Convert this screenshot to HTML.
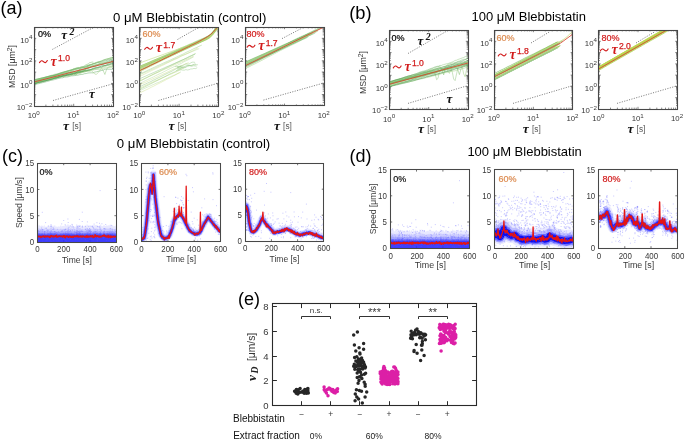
<!DOCTYPE html>
<html><head><meta charset="utf-8"><style>
html,body{margin:0;padding:0;background:#fff;}
body{width:685px;height:441px;overflow:hidden;font-family:"Liberation Sans",sans-serif;}
svg{display:block;will-change:transform;}
</style></head><body>
<svg width="685" height="441" viewBox="0 0 685 441" font-family="'Liberation Sans',sans-serif">
<rect width="685" height="441" fill="#fff"/>
<defs>
<clipPath id="ka1"><rect x="34" y="27" width="79.3" height="79"/></clipPath>
<clipPath id="ka2"><rect x="139.5" y="27" width="79.1" height="79"/></clipPath>
<clipPath id="ka3"><rect x="245" y="27" width="79" height="78.8"/></clipPath>
<clipPath id="kb1"><rect x="389.4" y="30" width="78.6" height="79.2"/></clipPath>
<clipPath id="kb2"><rect x="494" y="30" width="78.8" height="79"/></clipPath>
<clipPath id="kb3"><rect x="598.6" y="30" width="78.8" height="79"/></clipPath>
<clipPath id="kc1"><rect x="37.4" y="163.2" width="79" height="78.8"/></clipPath>
<clipPath id="kc2"><rect x="141.5" y="163.2" width="79.1" height="78.6"/></clipPath>
<clipPath id="kc3"><rect x="245.2" y="163.2" width="78.6" height="78"/></clipPath>
<clipPath id="kd1"><rect x="390.2" y="169.6" width="79" height="78.6"/></clipPath>
<clipPath id="kd2"><rect x="494.4" y="169.6" width="79" height="78.6"/></clipPath>
<clipPath id="kd3"><rect x="598.5" y="169.6" width="78.8" height="78.6"/></clipPath>
</defs>
<text x=".6" y="13.9" font-size="18">(a)</text>
<text x="349.2" y="19" font-size="18.3">(b)</text>
<text x="1.9" y="162.3" font-size="18">(c)</text>
<text x="349.6" y="162.4" font-size="18">(d)</text>
<text x="238" y="305" font-size="18">(e)</text>
<text x="112.9" y="21.9" font-size="13.2">0 μM Blebbistatin (control)</text>
<text x="471.5" y="21.3" font-size="13">100 μM Blebbistatin</text>
<text x="116.8" y="148.1" font-size="13.2">0 μM Blebbistatin (control)</text>
<text x="467.4" y="156.4" font-size="13">100 μM Blebbistatin</text>
<path d="M45.9 106v-1.4M45.9 27v1.4M52.9 106v-1.4M52.9 27v1.4M57.9 106v-1.4M57.9 27v1.4M61.7 106v-1.4M61.7 27v1.4M64.9 106v-1.4M64.9 27v1.4M67.5 106v-1.4M67.5 27v1.4M69.8 106v-1.4M69.8 27v1.4M71.8 106v-1.4M71.8 27v1.4M73.7 106v-2.2M73.7 27v2.2M85.6 106v-1.4M85.6 27v1.4M92.6 106v-1.4M92.6 27v1.4M97.5 106v-1.4M97.5 27v1.4M101.4 106v-1.4M101.4 27v1.4M104.5 106v-1.4M104.5 27v1.4M107.2 106v-1.4M107.2 27v1.4M109.5 106v-1.4M109.5 27v1.4M111.5 106v-1.4M111.5 27v1.4M34 102.6h1.3M113.3 102.6h-1.3M34 100.6h1.3M113.3 100.6h-1.3M34 99.2h1.3M113.3 99.2h-1.3M34 98.1h1.3M113.3 98.1h-1.3M34 97.2h1.3M113.3 97.2h-1.3M34 96.5h1.3M113.3 96.5h-1.3M34 95.8h1.3M113.3 95.8h-1.3M34 95.2h1.3M113.3 95.2h-1.3M34 94.7h2.2M113.3 94.7h-2.2M34 91.3h1.3M113.3 91.3h-1.3M34 89.3h1.3M113.3 89.3h-1.3M34 87.9h1.3M113.3 87.9h-1.3M34 86.8h1.3M113.3 86.8h-1.3M34 85.9h1.3M113.3 85.9h-1.3M34 85.2h1.3M113.3 85.2h-1.3M34 84.5h1.3M113.3 84.5h-1.3M34 83.9h1.3M113.3 83.9h-1.3M34 83.4h2.2M113.3 83.4h-2.2M34 80h1.3M113.3 80h-1.3M34 78h1.3M113.3 78h-1.3M34 76.6h1.3M113.3 76.6h-1.3M34 75.5h1.3M113.3 75.5h-1.3M34 74.6h1.3M113.3 74.6h-1.3M34 73.9h1.3M113.3 73.9h-1.3M34 73.2h1.3M113.3 73.2h-1.3M34 72.7h1.3M113.3 72.7h-1.3M34 72.1h2.2M113.3 72.1h-2.2M34 68.7h1.3M113.3 68.7h-1.3M34 66.8h1.3M113.3 66.8h-1.3M34 65.3h1.3M113.3 65.3h-1.3M34 64.3h1.3M113.3 64.3h-1.3M34 63.4h1.3M113.3 63.4h-1.3M34 62.6h1.3M113.3 62.6h-1.3M34 62h1.3M113.3 62h-1.3M34 61.4h1.3M113.3 61.4h-1.3M34 60.9h2.2M113.3 60.9h-2.2M34 57.5h1.3M113.3 57.5h-1.3M34 55.5h1.3M113.3 55.5h-1.3M34 54.1h1.3M113.3 54.1h-1.3M34 53h1.3M113.3 53h-1.3M34 52.1h1.3M113.3 52.1h-1.3M34 51.3h1.3M113.3 51.3h-1.3M34 50.7h1.3M113.3 50.7h-1.3M34 50.1h1.3M113.3 50.1h-1.3M34 49.6h2.2M113.3 49.6h-2.2M34 46.2h1.3M113.3 46.2h-1.3M34 44.2h1.3M113.3 44.2h-1.3M34 42.8h1.3M113.3 42.8h-1.3M34 41.7h1.3M113.3 41.7h-1.3M34 40.8h1.3M113.3 40.8h-1.3M34 40h1.3M113.3 40h-1.3M34 39.4h1.3M113.3 39.4h-1.3M34 38.8h1.3M113.3 38.8h-1.3M34 38.3h2.2M113.3 38.3h-2.2M34 34.9h1.3M113.3 34.9h-1.3M34 32.9h1.3M113.3 32.9h-1.3M34 31.5h1.3M113.3 31.5h-1.3M34 30.4h1.3M113.3 30.4h-1.3M34 29.5h1.3M113.3 29.5h-1.3M34 28.7h1.3M113.3 28.7h-1.3M34 28.1h1.3M113.3 28.1h-1.3M34 27.5h1.3M113.3 27.5h-1.3" fill="none" stroke="#3a3a3a" stroke-width="0.6"/>
<rect x="34.5" y="27.5" width="79" height="79" fill="none" stroke="#484848" stroke-width="1.05"/>
<text x="32.4" y="42.5" font-size="7.8" fill="#383838" text-anchor="end">10<tspan dy="-3.2" font-size="6.2">4</tspan></text>
<text x="32.4" y="65.1" font-size="7.8" fill="#383838" text-anchor="end">10<tspan dy="-3.2" font-size="6.2">2</tspan></text>
<text x="32.4" y="87.6" font-size="7.8" fill="#383838" text-anchor="end">10<tspan dy="-3.2" font-size="6.2">0</tspan></text>
<text x="32.4" y="110.2" font-size="7.8" fill="#383838" text-anchor="end">10<tspan dy="-3.2" font-size="6.2">&#8722;2</tspan></text>
<text x="33.7" y="118.4" font-size="7.8" fill="#383838" text-anchor="middle">10<tspan dy="-3.2" font-size="6.2">0</tspan></text>
<text x="73.4" y="118.4" font-size="7.8" fill="#383838" text-anchor="middle">10<tspan dy="-3.2" font-size="6.2">1</tspan></text>
<text x="113" y="118.4" font-size="7.8" fill="#383838" text-anchor="middle">10<tspan dy="-3.2" font-size="6.2">2</tspan></text>
<text x="63.1" y="129.7" font-size="13.5" font-family="'Liberation Serif',serif" fill="#111" font-weight="bold" font-style="italic">τ</text>
<text x="72.2" y="129.1" font-size="8.3" fill="#555">[s]</text>
<text x="0" y="0" font-size="8.8" fill="#383838" text-anchor="middle" transform="translate(15.2,66.5) rotate(-90)">MSD [μm<tspan dy="-3.4" font-size="6.6">2</tspan><tspan dy="3.4">]</tspan></text>
<path d="M52.4 49.4L94.4 26.9" stroke="#555" stroke-width=".75" stroke-dasharray="1.1 1.4"/>
<path d="M53 100.5L112 84.1" stroke="#555" stroke-width=".75" stroke-dasharray="1.1 1.4"/>
<path d="M34 81.2l1.2-.4 1.2-.3 1.2-.4 1.2-.3 1.1-.3 1.2-.3 1.2-.3 1.2-.5 1.2-.5 1.2-.2 1.2-.3 1.2-.4 1.2-.1 1.2-.3 1.1-.3 1.2-.5 1.2-.5 1.2-.3 1.2-.3 1.2-.3 1.2-.6 1.2-.3 1.2-.3 1.2-.4 1.1-.4 1.2-.3 1.2-.1 1.2-.3 1.2-.3 1.2-.6 1.2-.5 1.2-.4 1.2-.5 1.2-.3 1.1-.6 1.2-.4 1.2-.5 1.2 0 1.2-.5 1.2 .2 1.2 .2 1.2-.2 1.2-.1 1.1-.4 1.2-1 1.2-.1 1.2-.1M34 83.8l1.7-.6 1.7-.5 1.7-.4 1.6-.4 1.7-.3 1.7-.5 1.7-.4 1.7-.5 1.7-.5 1.7-.4 1.7-.4 1.6-.5 1.7-.4 1.7-.5 1.7-.8 1.7-.5 1.7-.5 1.7-.2 1.7-.5 1.6-.1 1.7-.1 1.7-.6 1.7-.6 1.7-.4 1.7-.1 1.7-.4 1.7-.2 1.6-.6 1.7-1 1.7-.5 1.7-.2 1.7-.2 1.7-.4 1.7-.4 1.7-.1 1.6-.4 1.7-.1 1.7-.8 1.7-.7 1.7-.8 1.7-.2 1.7-.6 1.7-.4 1.6-.3 1.7-.4 1.7 0 1.7 .1M34 82.8l1.7-.4 1.7-.5 1.7-.5 1.6-.5 1.7-.3 1.7-.4 1.7-.5 1.7-.3 1.7-.3 1.7-.5 1.7-.5 1.6-.6 1.7-.3 1.7-.6 1.7-.4 1.7-.6 1.7-.3 1.7-.3 1.7-.5 1.6-.3 1.7-.6 1.7-.5 1.7-.2 1.7-.5 1.7-.3 1.7-.7 1.7-.3 1.6-.3 1.7-.7 1.7-1 1.7-1 1.7-.4 1.7-.6 1.7-.8 1.7-.5 1.6-.2 1.7-.5 1.7-.6 1.7-.2 1.7 0 1.7 0 1.7-.7 1.7-.2 1.6-.4 1.7-.5 1.7-.7 1.7-.3M34 84.2l1.7-.5 1.7-.6 1.7-.4 1.6-.4 1.7-.5 1.7-.5 1.7-.4 1.7-.6 1.7-.4 1.7-.3 1.7-.6 1.6-.5 1.7-.3 1.7-.4 1.7-.6 1.7-.6 1.7-.4 1.7-.6 1.7-.6 1.6-.3 1.7-.6 1.7-.5 1.7-.3 1.7-.4 1.7-.5 1.7-.5 1.7-.3 1.6-.4 1.7-.7 1.7-.5 1.7-.7 1.7-.8 1.7-.6 1.7-1.1 1.7-.3 1.6-.7 1.7-.4 1.7-1 1.7-1.1 1.7 .1 1.7-.2 1.7-.7 1.7-.8 1.6-.7 1.7-.5 1.7-.7 1.7-.7" fill="none" stroke="#6aaf66" stroke-width="0.55" stroke-opacity="0.85" clip-path="url(#ka1)"/>
<path d="M34 83.7l1.7-.5 1.7-.4 1.7-.4 1.6-.5 1.7-.5 1.7-.3 1.7-.4 1.7-.5 1.7-.3 1.7-.4 1.7-.4 1.6-.5 1.7-.5 1.7-.4 1.7-.4 1.7-.4 1.7-.1 1.7-.2 1.7-.5 1.6 0 1.7-.5 1.7-.1 1.7-.5 1.7-.3 1.7-.5 1.7-.4 1.7-.1 1.6-.7 1.7-.7 1.7-.4 1.7-.3 1.7-.4 1.7-.2 1.7-.6 1.7-.3 1.6-.4 1.7-.2 1.7-.2 1.7 0 1.7-.7 1.7 2 1.7 3.9 1.7-5.2 1.6-2.3 1.7-.3 1.7-.2 1.7-.4M34 81.3l1.7-.5 1.7-.5 1.7-.5 1.6-.3 1.7-.4 1.7-.4 1.7-.5 1.7-.4 1.7-.6 1.7-.5 1.7-.3 1.6-.3 1.7-.6 1.7-.5 1.7-.1 1.7-.7 1.7-.6 1.7-.6 1.7-.4 1.6-.4 1.7-.3 1.7-.9 1.7-.4 1.7-.8 1.7-.4 1.7-.5 1.7-.1 1.6-.3 1.7-.7 1.7-.2 1.7-.7 1.7-.5 1.7-.2 1.7-.4 1.7-.3 1.6-.4 1.7-.3 1.7-.2 1.7-.4 1.7-.1 1.7-.1 1.7-.4 1.7-.7 1.6 .1 1.7-.5 1.7-.2 1.7 0M34 79.9l1.7-.4 1.7-.4 1.7-.3 1.6-.5 1.7-.4 1.7-.4 1.7-.4 1.7-.4 1.7-.5 1.7-.2 1.7-.2 1.6-.4 1.7-.8 1.7-.5 1.7-.4 1.7-.5 1.7-.8 1.7-.4 1.7-.4 1.6-.6 1.7-.6 1.7-.5 1.7-.4 1.7-.7 1.7-.5 1.7 .2 1.7 .9 1.6 1.7 1.7 .3 1.7-.9 1.7-2.2 1.7-2.2 1.7-1.4 1.7-.5 1.7-.7 1.6-.3 1.7-.3 1.7-.3 1.7-.4 1.7 .3 1.7-.8 1.7-.5 1.7-.8 1.6-1.1 1.7-.5 1.7 .2 1.7-.2M34 82.7l1.7-.5 1.7-.3 1.7-.5 1.6-.4 1.7-.6 1.7-.4 1.7-.4 1.7-.5 1.7-.3 1.7-.4 1.7-.2 1.6-.4 1.7-.6 1.7-.6 1.7-.4 1.7-.6 1.7-.5 1.7-.4 1.7-.6 1.6-.6 1.7-.4 1.7-.4 1.7-.4 1.7-.5 1.7-.3 1.7-.7 1.7-.3 1.6-.6 1.7-.3 1.7-.5 1.7-.6 1.7-.3 1.7-1 1.7-.6 1.7-.9 1.6-.8 1.7-.3 1.7-.3 1.7-.7 1.7-.5 1.7-.5 1.7-.4 1.7 .1 1.6-.4 1.7 .3 1.7-.6 1.7-.2" fill="none" stroke="#8cc47a" stroke-width="0.55" stroke-opacity="0.85" clip-path="url(#ka1)"/>
<path d="M34 80.1l1.7-.4 1.7-.3 1.7-.4 1.6-.5 1.7-.4 1.7-.3 1.7-.5 1.7-.5 1.7-.3 1.7-.4 1.7-.3 1.6-.2 1.7-.5 1.7-.4 1.7-.4 1.7-.3 1.7-.4 1.7-.3 1.7-.4 1.6-.2 1.7-.2 1.7-.6 1.7-.3 1.7-.4 1.7-.4 1.7-.3 1.7-.3 1.6-.5 1.7-.3 1.7-.4 1.7-.4 1.7-.7 1.7-.5 1.7-.5 1.7-.3 1.6 0 1.7-.6 1.7-.7 1.7-.4 1.7-.5 1.7-.7 1.7-.6 1.7-.7 1.6-.3 1.7-.9 1.7 0 1.7-.7M34 84.9l1.7-.4 1.7-.6 1.7-.3 1.6-.5 1.7-.4 1.7-.4 1.7-.5 1.7-.4 1.7-.5 1.7-.5 1.7-.3 1.6-.4 1.7-.5 1.7-.5 1.7-.3 1.7-.5 1.7-.1 1.7-.6 1.7-.2 1.6-.1 1.7-.4 1.7-.6 1.7-.1 1.7-.2 1.7-.3 1.7-.1 1.7-.5 1.6-.2 1.7-.2 1.7-.6 1.7-.2 1.7-.5 1.7-.1 1.7-.1 1.7 .1 1.6-.8 1.7-.3 1.7-.5 1.7-.3 1.7-.5 1.7-.4 1.7-.9 1.7-.1 1.6 .1 1.7 0 1.7 .1 1.7-.6M34 79.8l1.7-.4 1.7-.5 1.7-.3 1.6-.4 1.7-.3 1.7-.5 1.7-.4 1.7-.4 1.7-.4 1.7-.4 1.7-.3 1.6-.2 1.7-.4 1.7-.7 1.7-.7 1.7-.7 1.7-.5 1.7-.4 1.7-.7 1.6-.4 1.7-.4 1.7-.4 1.7-.5 1.7-.3 1.7-.5 1.7-.2 1.7-.3 1.6-1 1.7-.4 1.7-.4 1.7-.6 1.7-.6 1.7-.2 1.7-.4 1.7-.7 1.6-.5 1.7-.5 1.7-.9 1.7-.3 1.7-.4 1.7-.3 1.7-1 1.7 .2 1.6-.3 1.7-.2 1.7-.7 1.7-.7" fill="none" stroke="#5aa55a" stroke-width="0.55" stroke-opacity="0.85" clip-path="url(#ka1)"/>
<path d="M34 83.2l1.7-.5 1.7-.6 1.7-.6 1.6-.4 1.7-.3 1.7-.6 1.7-.3 1.7-.5 1.7-.6 1.7-.2 1.7-.2 1.6-.5 1.7-.5 1.7-.4 1.7-.4 1.7-.3 1.7-.2 1.7-.4 1.7-.3 1.6-.1 1.7-.5 1.7-.5 1.7-.5 1.7-.2 1.7-.3 1.7-.2 1.7-.2 1.6-.4 1.7-.2 1.7-.5 1.7-.5 1.7-.9 1.7-.1 1.7-.6 1.7-.4 1.6-.4 1.7 0 1.7-.3 1.7-.6 1.7-.4 1.7-.4 1.7-.3 1.7-.8 1.6-.4 1.7 .3 1.7-.2 1.7 .3M34 82.2l1.7-.4 1.7-.3 1.7-.4 1.6-.5 1.7-.2 1.7-.4 1.7-.3 1.7-.5 1.7-.3 1.7-.4 1.7-.2 1.6-.2 1.7-.6 1.7-.5 1.7-.4 1.7-.2 1.7-.1 1.7-.3 1.7-.4 1.6-.4 1.7-.3 1.7-.2 1.7-.3 1.7-.4 1.7-.6 1.7-.8 1.7-.4 1.6-.2 1.7-.4 1.7-.2 1.7-.2 1.7-.3 1.7 0 1.7-.1 1.7 1.3 1.6 1.8 1.7 .5 1.7-1.8 1.7-2.3 1.7-1.4 1.7-.5 1.7-.4 1.7-.4 1.6 .1 1.7-.4 1.7 .1 1.7-.1M34 80.4l1.1-.2 1.1-.3 1.1-.3 1.1-.2 1.2-.4 1.1-.2 1.1-.1 1.1-.2 1.1-.1 1.1-.2 1.1-.3 1.1-.3 1.1-.5 1.1-.3 1.2 0 1.1-.2 1.1-.1 1.1 0 1.1-.4 1.1-.1 1.1 .1 1.1-.4 1.1-.2 1.2-.3 1.1-.3 1.1-.4 1.1-.2 1.1-.6 1.1-.3 1.1-.4 1.1-.3 1.1 .1 1.1-.2 1.2-.2 1.1-.3 1.1 .1 1.1-.7 1.1-.3 1.1 .1 1.1 .2 1.1-.1 1.1-.2 1.2-.1 1.1-.2 1.1 0 1.1-.5 1.1 0" fill="none" stroke="#9acd7a" stroke-width="0.55" stroke-opacity="0.85" clip-path="url(#ka1)"/>
<path d="M34 83.5l1.7-.4 1.7-.5 1.7-.4 1.6-.3 1.7-.3 1.7-.6 1.7-.4 1.7-.4 1.7-.4 1.7-.5 1.7-.5 1.6-.5 1.7-.4 1.7-.3 1.7-.5 1.7-.3 1.7-.6 1.7-.2 1.7-.4 1.6-.4 1.7-.2 1.7-.7 1.7-.7 1.7-.4 1.7-.6 1.7-.5 1.7 .2 1.6-.5 1.7-.4 1.7-.4 1.7-.2 1.7-.3 1.7-.4 1.7-.7 1.7-.5 1.6-.4 1.7-.9 1.7-.2 1.7-.3 1.7 .1 1.7-.9 1.7-.7 1.7-.7 1.6-.7 1.7-.5 1.7-.5 1.7-.3M34 83.6l1-.2 1-.3 1-.3 1-.3 1-.3 1-.2 1-.2 .9-.2 1-.3 1-.3 1-.1 1-.3 1-.3 1-.2 1-.3 1-.3 1 0 1-.4 1-.3 1-.3 1-.3 .9-.2 1-.2 1-.4 1-.4 1-.3 1 .1 1-.4 1-.6 1-.5 1-.3 1 .1 1-.6 1-.2 1 .4 .9-.4 1 .2 1 .1 1-.1 1-.6 1-.2 1-.3 1-.8 1-.8 1-.2 1-.2 1 .1M34 81.9l1.7-.5 1.7-.6 1.7-.4 1.6-.4 1.7-.3 1.7-.5 1.7-.4 1.7-.3 1.7-.5 1.7-.3 1.7-.3 1.6-.3 1.7-.1 1.7-.2 1.7-.3 1.7-.5 1.7-.3 1.7-.1 1.7-.3 1.6-.5 1.7-.5 1.7-.4 1.7-.2 1.7-.5 1.7-.3 1.7-.1 1.7-.2 1.6-.7 1.7-.4 1.7-.7 1.7-.2 1.7-.6 1.7-.3 1.7-.3 1.7-1.1 1.6-.6 1.7-.2 1.7-.4 1.7-.5 1.7-.8 1.7-.2 1.7 .1 1.7-.3 1.6-.4 1.7-.4 1.7-.9 1.7-.5" fill="none" stroke="#4e9a50" stroke-width="0.55" stroke-opacity="0.85" clip-path="url(#ka1)"/>
<path d="M34 81.9l1.3-.4 1.2-.5 1.3-.5 1.3-.4 1.2-.3 1.3-.4 1.2-.6 1.3-.5 1.3-.4 1.2-.4 1.3-.2 1.3-.4 1.2-.6 1.3-.3 1.3-.4 1.2-.4 1.3-.4 1.3-.2 1.2-.3 1.3-.3 1.2-.6 1.3-.2 1.3-.5 1.2-.8 1.3-.3 1.3-.3 1.2-.4 1.3-.4 1.3-.2 1.2-.5 1.3-.9 1.2-.4 1.3-.3 1.3-.2 1.2-.5 1.3 0 1.3-.1 1.2-.8 1.3-.1 1.3-.8 1.2-.8 1.3-.5 1.2-.6 1.3-1.1 1.3-.3 1.2-.3 1.3 .1M34 80.7l1.7-.5 1.7-.5 1.7-.5 1.6-.6 1.7-.4 1.7-.5 1.7-.5 1.7-.6 1.7-.6 1.7-.6 1.7-.4 1.6-.6 1.7-.3 1.7-.3 1.7-.6 1.7-.5 1.7-.5 1.7-.2 1.7-.4 1.6-.4 1.7-.3 1.7-.1 1.7-.3 1.7-.7 1.7-.5 1.7-.4 1.7-.4 1.6-.7 1.7 .2 1.7-.4 1.7-.6 1.7-.6 1.7-.9 1.7-.8 1.7-.5 1.6-.6 1.7-.7 1.7-.3 1.7-.5 1.7-.7 1.7-1.1 1.7-.5 1.7-.4 1.6-.6 1.7-.9 1.7-.5 1.7-1M34 82.8l1.7-.4 1.7-.5 1.7-.6 1.6-.6 1.7-.5 1.7-.5 1.7-.7 1.7-.4 1.7-.5 1.7-.5 1.7-.6 1.6-.5 1.7-.5 1.7-.5 1.7-.5 1.7-.4 1.7-.4 1.7-.4 1.7-.7 1.6-.3 1.7-.4 1.7-.4 1.7 .9 1.7 1.7 1.7 .4 1.7-2.5 1.7-2.9 1.6-1.5 1.7-.6 1.7-.7 1.7-.6 1.7-.5 1.7-.9 1.7-.2 1.7-.8 1.6-.5 1.7-.9 1.7-.6 1.7-.4 1.7-.6 1.7-.7 1.7-.6 1.7-.7 1.6-.3 1.7 .1 1.7-.8 1.7-.8" fill="none" stroke="#7dbb6a" stroke-width="0.55" stroke-opacity="0.85" clip-path="url(#ka1)"/>
<path d="M34 82l79.3-20.6" fill="none" stroke="#d9442e" stroke-width="0.85" clip-path="url(#ka1)"/>
<text x="38" y="36.8" font-size="9" stroke="#000" stroke-width=".2">0%</text>
<path d="M39.5 62.6c1.3-2.3 2.7-2.3 3.9-.95s2.7 1.45 3.9-1.05" fill="none" stroke="#d21c1c" stroke-width="1.15" stroke-linecap="round"/>
<text x="50.6" y="65.5" font-size="14" font-family="'Liberation Serif',serif" fill="#d21c1c" font-weight="bold" font-style="italic">τ</text>
<text x="58.1" y="61.1" font-size="8.6" fill="#d21c1c" stroke="#d21c1c" stroke-width=".25">1.0</text>
<text x="61.3" y="39.2" font-size="13" font-family="'Liberation Serif',serif" fill="#111" font-weight="bold" font-style="italic">τ<tspan dx="2.4" dy="-4.7" font-size="9.9">2</tspan></text>
<text x="89" y="98.2" font-size="13" font-family="'Liberation Serif',serif" fill="#111" font-weight="bold" font-style="italic">τ</text>
<rect x="34.5" y="27.5" width="79" height="79" fill="none" stroke="#484848" stroke-width="1.05"/>
<path d="M151.4 106v-1.4M151.4 27v1.4M158.4 106v-1.4M158.4 27v1.4M163.3 106v-1.4M163.3 27v1.4M167.1 106v-1.4M167.1 27v1.4M170.3 106v-1.4M170.3 27v1.4M172.9 106v-1.4M172.9 27v1.4M175.2 106v-1.4M175.2 27v1.4M177.2 106v-1.4M177.2 27v1.4M179.1 106v-2.2M179.1 27v2.2M191 106v-1.4M191 27v1.4M197.9 106v-1.4M197.9 27v1.4M202.9 106v-1.4M202.9 27v1.4M206.7 106v-1.4M206.7 27v1.4M209.8 106v-1.4M209.8 27v1.4M212.5 106v-1.4M212.5 27v1.4M214.8 106v-1.4M214.8 27v1.4M216.8 106v-1.4M216.8 27v1.4M139.5 102.6h1.3M218.6 102.6h-1.3M139.5 100.6h1.3M218.6 100.6h-1.3M139.5 99.2h1.3M218.6 99.2h-1.3M139.5 98.1h1.3M218.6 98.1h-1.3M139.5 97.2h1.3M218.6 97.2h-1.3M139.5 96.5h1.3M218.6 96.5h-1.3M139.5 95.8h1.3M218.6 95.8h-1.3M139.5 95.2h1.3M218.6 95.2h-1.3M139.5 94.7h2.2M218.6 94.7h-2.2M139.5 91.3h1.3M218.6 91.3h-1.3M139.5 89.3h1.3M218.6 89.3h-1.3M139.5 87.9h1.3M218.6 87.9h-1.3M139.5 86.8h1.3M218.6 86.8h-1.3M139.5 85.9h1.3M218.6 85.9h-1.3M139.5 85.2h1.3M218.6 85.2h-1.3M139.5 84.5h1.3M218.6 84.5h-1.3M139.5 83.9h1.3M218.6 83.9h-1.3M139.5 83.4h2.2M218.6 83.4h-2.2M139.5 80h1.3M218.6 80h-1.3M139.5 78h1.3M218.6 78h-1.3M139.5 76.6h1.3M218.6 76.6h-1.3M139.5 75.5h1.3M218.6 75.5h-1.3M139.5 74.6h1.3M218.6 74.6h-1.3M139.5 73.9h1.3M218.6 73.9h-1.3M139.5 73.2h1.3M218.6 73.2h-1.3M139.5 72.7h1.3M218.6 72.7h-1.3M139.5 72.1h2.2M218.6 72.1h-2.2M139.5 68.7h1.3M218.6 68.7h-1.3M139.5 66.8h1.3M218.6 66.8h-1.3M139.5 65.3h1.3M218.6 65.3h-1.3M139.5 64.3h1.3M218.6 64.3h-1.3M139.5 63.4h1.3M218.6 63.4h-1.3M139.5 62.6h1.3M218.6 62.6h-1.3M139.5 62h1.3M218.6 62h-1.3M139.5 61.4h1.3M218.6 61.4h-1.3M139.5 60.9h2.2M218.6 60.9h-2.2M139.5 57.5h1.3M218.6 57.5h-1.3M139.5 55.5h1.3M218.6 55.5h-1.3M139.5 54.1h1.3M218.6 54.1h-1.3M139.5 53h1.3M218.6 53h-1.3M139.5 52.1h1.3M218.6 52.1h-1.3M139.5 51.3h1.3M218.6 51.3h-1.3M139.5 50.7h1.3M218.6 50.7h-1.3M139.5 50.1h1.3M218.6 50.1h-1.3M139.5 49.6h2.2M218.6 49.6h-2.2M139.5 46.2h1.3M218.6 46.2h-1.3M139.5 44.2h1.3M218.6 44.2h-1.3M139.5 42.8h1.3M218.6 42.8h-1.3M139.5 41.7h1.3M218.6 41.7h-1.3M139.5 40.8h1.3M218.6 40.8h-1.3M139.5 40h1.3M218.6 40h-1.3M139.5 39.4h1.3M218.6 39.4h-1.3M139.5 38.8h1.3M218.6 38.8h-1.3M139.5 38.3h2.2M218.6 38.3h-2.2M139.5 34.9h1.3M218.6 34.9h-1.3M139.5 32.9h1.3M218.6 32.9h-1.3M139.5 31.5h1.3M218.6 31.5h-1.3M139.5 30.4h1.3M218.6 30.4h-1.3M139.5 29.5h1.3M218.6 29.5h-1.3M139.5 28.7h1.3M218.6 28.7h-1.3M139.5 28.1h1.3M218.6 28.1h-1.3M139.5 27.5h1.3M218.6 27.5h-1.3" fill="none" stroke="#3a3a3a" stroke-width="0.6"/>
<rect x="139.5" y="27.5" width="79" height="79" fill="none" stroke="#484848" stroke-width="1.05"/>
<text x="137.9" y="42.5" font-size="7.8" fill="#383838" text-anchor="end">10<tspan dy="-3.2" font-size="6.2">4</tspan></text>
<text x="137.9" y="65.1" font-size="7.8" fill="#383838" text-anchor="end">10<tspan dy="-3.2" font-size="6.2">2</tspan></text>
<text x="137.9" y="87.6" font-size="7.8" fill="#383838" text-anchor="end">10<tspan dy="-3.2" font-size="6.2">0</tspan></text>
<text x="137.9" y="110.2" font-size="7.8" fill="#383838" text-anchor="end">10<tspan dy="-3.2" font-size="6.2">&#8722;2</tspan></text>
<text x="139.2" y="118.4" font-size="7.8" fill="#383838" text-anchor="middle">10<tspan dy="-3.2" font-size="6.2">0</tspan></text>
<text x="178.8" y="118.4" font-size="7.8" fill="#383838" text-anchor="middle">10<tspan dy="-3.2" font-size="6.2">1</tspan></text>
<text x="218.3" y="118.4" font-size="7.8" fill="#383838" text-anchor="middle">10<tspan dy="-3.2" font-size="6.2">2</tspan></text>
<text x="168.5" y="129.7" font-size="13.5" font-family="'Liberation Serif',serif" fill="#111" font-weight="bold" font-style="italic">τ</text>
<text x="177.7" y="129.1" font-size="8.3" fill="#555">[s]</text>
<path d="M177.5 39.5L199.4 27" stroke="#555" stroke-width=".75" stroke-dasharray="1.1 1.4"/>
<path d="M158.4 100.5L217 83.5" stroke="#555" stroke-width=".75" stroke-dasharray="1.1 1.4"/>
<path d="M139.5 71.2l2.9-1.5 3-1.4 2.9-1.5 2.9-1.4 2.9-1.5 3-1.5 2.9-1.4 2.9-1.5 3-1.5 2.9-1.5 2.9-1.4 3-1.5 2.9-1.4 2.9-1.5 2.9-1.4 3-1.5 2.9-1.4 2.9-1.4 3-1.4 2.9-1.5 2.9-1.4 3-1.4 2.9-1.6 2.9-1.9 2.9-3 3-4.1 2.9-3M139.5 68.9l2.9-1.3 3-1.4 2.9-1.3 2.9-1.4 2.9-1.3 3-1.4 2.9-1.3 2.9-1.3 3-1.4 2.9-1.3 2.9-1.5 3-1.3 2.9-1.4 2.9-1.4 2.9-1.3 3-1.4 2.9-1.4 2.9-1.4 3-1.4 2.9-1.3 2.9-1.4 3-1.4 2.9-1.4 2.9-1.9 2.9-2.9 3-4.1 2.9-3M139.5 66.6l2.9-1.2 3-1.2 2.9-1.2 2.9-1.2 2.9-1.2 3-1.2 2.9-1.1 2.9-1.2 3-1.1 2.9-1.2 2.9-1.1 3-1.2 2.9-1.1 2.9-1.2 2.9-1.2 3-1.1 2.9-1.1 2.9-1.2 3-1.2 2.9-1.2 2.9-1.2 3-1.2 2.9-1.3 2.9-1.5 2.9-2.8 3-3.8 2.9-2.5" fill="none" stroke="#c8dc74" stroke-width="0.6" stroke-opacity="0.85" clip-path="url(#ka2)"/>
<path d="M139.5 70.6l2.9-1.3 3-1.4 2.9-1.4 2.9-1.4 2.9-1.3 3-1.4 2.9-1.3 2.9-1.4 3-1.3 2.9-1.4 2.9-1.4 3-1.3 2.9-1.3 2.9-1.3 2.9-1.3 3-1.3 2.9-1.4 2.9-1.4 3-1.3 2.9-1.3 2.9-1.5 3-1.4 2.9-1.4 2.9-1.8 2.9-3.1 3-4.1 2.9-2.9M139.5 68.7l2.9-1.4 3-1.4 2.9-1.3 2.9-1.4 2.9-1.3 3-1.5 2.9-1.3 2.9-1.5 3-1.4 2.9-1.4 2.9-1.3 3-1.4 2.9-1.4 2.9-1.4 2.9-1.3 3-1.5 2.9-1.3 2.9-1.4 3-1.3 2.9-1.4 2.9-1.4 3-1.4 2.9-1.5 2.9-1.7 2.9-3 3-4 2.9-2.9M139.5 66.7l2.9-1.4 3-1.3 2.9-1.3 2.9-1.3 2.9-1.3 3-1.3 2.9-1.3 2.9-1.3 3-1.3 2.9-1.4 2.9-1.3 3-1.4 2.9-1.3 2.9-1.3 2.9-1.2 3-1.3 2.9-1.4 2.9-1.2 3-1.4 2.9-1.3 2.9-1.2 3-1.3 2.9-1.4 2.9-1.7 2.9-2.8 3-4.1 2.9-2.8" fill="none" stroke="#9fcf72" stroke-width="0.6" stroke-opacity="0.85" clip-path="url(#ka2)"/>
<path d="M139.5 70.7l2.9-1.4 3-1.3 2.9-1.4 2.9-1.4 2.9-1.4 3-1.3 2.9-1.4 2.9-1.5 3-1.3 2.9-1.4 2.9-1.4 3-1.4 2.9-1.4 2.9-1.4 2.9-1.3 3-1.4 2.9-1.3 2.9-1.4 3-1.4 2.9-1.3 2.9-1.4 3-1.4 2.9-1.4 2.9-1.8 2.9-2.9 3-3.9 2.9-2.8M139.5 67.9l2.9-1.3 3-1.3 2.9-1.3 2.9-1.4 2.9-1.3 3-1.3 2.9-1.3 2.9-1.4 3-1.4 2.9-1.3 2.9-1.3 3-1.3 2.9-1.4 2.9-1.4 2.9-1.4 3-1.4 2.9-1.4 2.9-1.2 3-1.5 2.9-1.2 2.9-1.4 3-1.3 2.9-1.5 2.9-1.8 2.9-2.9 3-3.9 2.9-2.8M139.5 66.4l2.9-1.3 3-1.2 2.9-1.2 2.9-1.3 2.9-1.3 3-1.2 2.9-1.2 2.9-1.2 3-1.2 2.9-1.2 2.9-1.3 3-1.2 2.9-1.2 2.9-1.2 2.9-1.2 3-1.2 2.9-1.3 2.9-1.3 3-1.3 2.9-1.3 2.9-1.3 3-1.2 2.9-1.3 2.9-1.9 2.9-2.7 3-4 2.9-2.8" fill="none" stroke="#7fbf5c" stroke-width="0.6" stroke-opacity="0.85" clip-path="url(#ka2)"/>
<path d="M139.5 70.5l2.9-1.4 3-1.4 2.9-1.3 2.9-1.4 2.9-1.4 3-1.3 2.9-1.4 2.9-1.4 3-1.3 2.9-1.4 2.9-1.3 3-1.3 2.9-1.4 2.9-1.4 2.9-1.4 3-1.4 2.9-1.4 2.9-1.4 3-1.4 2.9-1.5 2.9-1.3 3-1.4 2.9-1.5 2.9-1.7 2.9-3 3-4 2.9-2.8M139.5 67.9l2.9-1.2 3-1.3 2.9-1.2 2.9-1.3 2.9-1.2 3-1.3 2.9-1.2 2.9-1.2 3-1.3 2.9-1.3 2.9-1.3 3-1.2 2.9-1.3 2.9-1.3 2.9-1.2 3-1.3 2.9-1.3 2.9-1.2 3-1.2 2.9-1.3 2.9-1.3 3-1.1 2.9-1.3 2.9-1.7 2.9-2.9 3-3.8 2.9-2.9M139.5 63.1l2.9-1.1 3-1.1 2.9-1 2.9-1.1 2.9-1 3-1.1 2.9-1 2.9-1.1 3-1.1 2.9-1.1 2.9-1 3-1.1 2.9-1.1 2.9-1.1 2.9-1.1 3-1.1 2.9-1.1 2.9-1.1 3-.9 2.9-1.1 2.9-1.3 3-1 2.9-1.2 2.9-1.5 2.9-2.6 3-3.8 2.9-2.5" fill="none" stroke="#b5d66c" stroke-width="0.6" stroke-opacity="0.85" clip-path="url(#ka2)"/>
<path d="M139.5 69.3l2.9-1.3 3-1.3 2.9-1.4 2.9-1.3 2.9-1.4 3-1.3 2.9-1.3 2.9-1.3 3-1.4 2.9-1.3 2.9-1.4 3-1.3 2.9-1.3 2.9-1.3 2.9-1.3 3-1.3 2.9-1.3 2.9-1.4 3-1.2 2.9-1.4 2.9-1.4 3-1.3 2.9-1.3 2.9-1.8 2.9-2.8 3-4.1 2.9-2.9M139.5 67.5l2.9-1.3 3-1.3 2.9-1.3 2.9-1.2 2.9-1.3 3-1.2 2.9-1.4 2.9-1.3 3-1.2 2.9-1.4 2.9-1.2 3-1.4 2.9-1.3 2.9-1.3 2.9-1.3 3-1.3 2.9-1.3 2.9-1.2 3-1.2 2.9-1.4 2.9-1.4 3-1.4 2.9-1.3 2.9-1.8 2.9-2.9 3-4.1 2.9-2.8" fill="none" stroke="#6fb35f" stroke-width="0.6" stroke-opacity="0.85" clip-path="url(#ka2)"/>
<path d="M139.5 69.2l2.9-1.4 3-1.3 2.9-1.3 2.9-1.3 2.9-1.3 3-1.3 2.9-1.3 2.9-1.4 3-1.3 2.9-1.3 2.9-1.3 3-1.4 2.9-1.3 2.9-1.4 2.9-1.3 3-1.4 2.9-1.2 2.9-1.2 3-1.3 2.9-1.3 2.9-1.3 3-1.4 2.9-1.4 2.9-1.6 2.9-3 3-4 2.9-2.7M139.5 67.1l2.9-1.3 3-1.2 2.9-1.3 2.9-1.3 2.9-1.2 3-1.3 2.9-1.3 2.9-1.3 3-1.3 2.9-1.3 2.9-1.3 3-1.3 2.9-1.3 2.9-1.3 2.9-1.2 3-1.3 2.9-1.2 2.9-1.3 3-1.3 2.9-1.3 2.9-1.3 3-1.2 2.9-1.3 2.9-1.6 2.9-2.9 3-4.1 2.9-2.9" fill="none" stroke="#d0df80" stroke-width="0.6" stroke-opacity="0.85" clip-path="url(#ka2)"/>
<path d="M139.5 72.1l2.5-1.3 2.5-1.3 2.6-1.3 2.5-1.3 2.5-1.2 2.5-1.4 2.5-1.2 2.5-1.3 2.6-1.3 2.5-1.3 2.5-1.3 2.5-1.1 2.5-1.3 2.5-1.2 2.6-1.2 2.5-1.4 2.5-1.2 2.5-1.2 2.5-1.3 2.6-1.3 2.5-1.5 2.5-1.3 2.5-1.2 2.5-1.2 2.5-1.4 2.6-1.4 2.5-1.3M139.5 80.8l2-.9 2-.9 2-1 2-.9 2-1 2-.9 2-.9 2-.9 2-.9 2-.9 1.9-.9 2-.9 2-.9 2-.8 2-.9 2-1 2-1 2-.8 2-.9 2-.8 2-1 2-.7 2-1.1 2-.8 2-.9 2-.9 2-1.1M139.5 88.3l1.7-.7 1.6-.8 1.7-.9 1.7-.7 1.6-.8 1.7-.8 1.7-.8 1.6-.7 1.7-.8 1.6-.7 1.7-.7 1.7-.8 1.6-.7 1.7-.8 1.7-.7 1.6-.8 1.7-.8 1.7-.7 1.6-.6 1.7-.7 1.7-.8 1.6-.6 1.7-.8 1.6-.9 1.7-.8 1.7-1 1.6-.7" fill="none" stroke="#b9d66e" stroke-width="0.55" stroke-opacity="0.75" clip-path="url(#ka2)"/>
<path d="M139.5 74.1l2.3-1.1 2.3-1 2.3-1.1 2.3-1.1 2.3-1 2.3-1.1 2.4-1.1 2.3-1.1 2.3-1 2.3-1.1 2.3-1 2.3-1 2.3-1 2.3-1.1 2.3-1 2.3-1.1 2.3-1.1 2.3-1.1 2.4-1.1 2.3-1.3 2.3-1.1 2.3-1 2.3-1.2 2.3-1.1 2.3-1 2.3-1.1 2.3-1M139.5 81.5l2.1-1.1 2.1-1.1 2-1 2.1-1.1 2.1-1.1 2.1-1.1 2.1-1.1 2-1 2.1-1 2.1-1.1 2.1-1.1 2.1-1 2-1 2.1-1.1 2.1-1.1 2.1-.9 2.1-1 2.1-1.1 2-1 2.1-1.1 2.1-.8 2.1-1.1 2.1-1 2-1.1 2.1-.9 2.1-1.1 2.1-1M139.5 89.5l1.6-.8 1.6-.8 1.6-.8 1.6-.8 1.6-.8 1.6-.8 1.5-.8 1.6-.8 1.6-.8 1.6-.8 1.6-.8 1.6-.8 1.6-.8 1.6-.9 1.6-.8 1.6-.8 1.6-.8 1.6-.8 1.6-1 1.6-.7 1.5-.7 1.6-.7 1.6-.8 1.6-1 1.6-.8 1.6-.9 1.6-.7" fill="none" stroke="#8fc870" stroke-width="0.55" stroke-opacity="0.75" clip-path="url(#ka2)"/>
<path d="M139.5 75l2.2-1.1 2.2-1 2.2-1 2.2-.9 2.2-1 2.3-1 2.2-1 2.2-1 2.2-1 2.2-1 2.2-1 2.2-1.1 2.2-.9 2.2-1 2.2-1.1 2.3-1 2.2-.9 2.2-1.1 2.2-1.1 2.2-.8 2.2-.9 2.2-.9 2.2-.9 2.2-.9 2.2-.9 2.3-1 2.2-.9M139.5 83.6l2-1 2-.9 2-1.1 2-.9 2-1 2-.9 2-.9 2-1.1 2.1-1 2-1 2-.8 2-1.1 2-1 2-1.1 2-1 2-.9 2-1 2-.9 2-.8 2-1.1 2-.9 2-1.2 2-1 2-.9 2.1-1.1 2-1.1 2-1.1M139.5 90.7l1.5-.7 1.6-.7 1.5-.7 1.6-.7 1.5-.7 1.5-.6 1.6-.7 1.5-.7 1.5-.6 1.6-.7 1.5-.7 1.6-.6 1.5-.6 1.5-.8 1.6-.7 1.5-.8 1.5-.8 1.6-.6 1.5-.8 1.6-.7 1.5-.6 1.5-.7 1.6-.7 1.5-.8 1.6-.7 1.5-.7 1.5-.7" fill="none" stroke="#a8d48a" stroke-width="0.55" stroke-opacity="0.75" clip-path="url(#ka2)"/>
<path d="M139.5 76.6l2.2-1.1 2.1-1 2.2-1.1 2.2-1.1 2.1-1 2.2-1.1 2.2-1 2.1-1 2.2-1.1 2.1-1.1 2.2-1 2.2-1.1 2.1-1.1 2.2-1 2.2-1.1 2.1-.9 2.2-1 2.2-1 2.1-1.3 2.2-1 2.2-1 2.1-1 2.2-1 2.1-1.1 2.2-1.1 2.2-1.3 2.1-1.1M139.5 85l1.8-.8 1.8-.9 1.9-.8 1.8-.8 1.8-.9 1.8-.9 1.8-.8 1.9-.8 1.8-.8 1.8-.8 1.8-.9 1.9-.9 1.8-.9 1.8-.7 1.8-.9 1.8-.9 1.9-.9 1.8-.9 1.8-.8 1.8-.7 1.8-1 1.9-.7 1.8-.6 1.8-1 1.8-.8 1.9-.8 1.8-.6M139.5 92.9l1.5-.7 1.5-.6 1.5-.7 1.4-.7 1.5-.7 1.5-.7 1.5-.8 1.5-.8 1.5-.7 1.4-.7 1.5-.8 1.5-.8 1.5-.7 1.5-.7 1.5-.8 1.4-.8 1.5-.7 1.5-.9 1.5-.7 1.5-.7 1.5-.7 1.5-.9 1.4-.7 1.5-.7 1.5-.8 1.5-.9 1.5-.6" fill="none" stroke="#c6dd7a" stroke-width="0.55" stroke-opacity="0.75" clip-path="url(#ka2)"/>
<path d="M139.5 78.8l2.1-.9 2-.9 2.1-.9 2.1-1 2-.9 2.1-.9 2-.8 2.1-1 2.1-.9 2-.9 2.1-.9 2.1-.9 2-1 2.1-.8 2-.8 2.1-1 2.1-.9 2-.9 2.1-.8 2.1-.9 2-.9 2.1-1 2-.8 2.1-1.1 2.1-1 2-.9 2.1-1M139.5 86.9l1.5-.7 1.6-.8 1.5-.8 1.6-.6 1.5-.8 1.6-.7 1.5-.7 1.6-.8 1.5-.8 1.6-.6 1.5-.9 1.6-.7 1.5-.7 1.5-.8 1.6-.8 1.5-.8 1.6-.8 1.5-.7 1.6-.8 1.5-.7 1.6-.8 1.5-.9 1.6-.8 1.5-.8 1.6-1 1.5-.8 1.6-.6" fill="none" stroke="#7dbb6a" stroke-width="0.55" stroke-opacity="0.75" clip-path="url(#ka2)"/>
<path d="M177.4 67l1.6-.2 1.6 0 1.5-.1 1.6 0 1.6-.5 1.6-1 1.6 .5 1.5-.2 1.6-.2 1.6-.5 1.6 .1 1.6-.2 1.5 .1" fill="none" stroke="#8cc47a" stroke-width="0.55" stroke-opacity=".75" clip-path="url(#ka2)"/>
<path d="M175.1 66.5l1.6-.1 1.5 .3 1.5-.5 1.6-.5 1.5-.2 1.6-.8 1.5-.8 1.5 .2 1.6 0 1.5-1 1.5-.9 1.6 0 1.5 .2" fill="none" stroke="#8cc47a" stroke-width="0.55" stroke-opacity=".75" clip-path="url(#ka2)"/>
<path d="M177 67.7l1.5 .3 1.4 .2 1.5-.7 1.5 0 1.4-.2 1.5-.6 1.5-.7 1.5-.1 1.4-.3 1.5 .1 1.5-1.1 1.5-.6 1.4 .2" fill="none" stroke="#8cc47a" stroke-width="0.55" stroke-opacity=".75" clip-path="url(#ka2)"/>
<path d="M177.3 69l1.5-.9 1.5-.1 1.5-.2 1.5 .2 1.5-.4 1.5-.3 1.5-1.6 1.5-.3 1.5 .7 1.5 0 1.5-.4 1.4 .3 1.5 .1" fill="none" stroke="#8cc47a" stroke-width="0.55" stroke-opacity=".75" clip-path="url(#ka2)"/>
<path d="M176.2 70.7l1.6-.7 1.6-.1 1.7-.1 1.6 .3 1.6 .1 1.6-.6 1.6 .4 1.6-.3 1.6-.7 1.7-.1 1.6-.5 1.6 .2 1.6-.9" fill="none" stroke="#8cc47a" stroke-width="0.55" stroke-opacity=".75" clip-path="url(#ka2)"/>
<path d="M139.5 70.8l2.7-1.4 2.8-1.3 2.7-1.3 2.7-1.4 2.7-1.3 2.8-1.3 2.7-1.4 2.7-1.3 2.7-1.4 2.8-1.3 2.7-1.3 2.7-1.4 2.8-1.3 2.7-1.4 2.7-1.3 2.7-1.3 2.8-1.4 2.7-1.3 2.7-1.4 2.8-1.3 2.7-1.4 2.7-1.4 2.7-1.5 2.8-1.5 2.7-1.7 2.7-1.9 2.7-2.4 2.8-3 2.7-4.2" fill="none" stroke="#d9442e" stroke-width="0.85" clip-path="url(#ka2)"/>
<text x="142.4" y="36.9" font-size="9" fill="#dc8a4e" stroke="#dc8a4e" stroke-width=".2">60%</text>
<path d="M144.7 49.3c1.3-2.3 2.7-2.3 3.9-.95s2.7 1.45 3.9-1.05" fill="none" stroke="#d21c1c" stroke-width="1.15" stroke-linecap="round"/>
<text x="155.8" y="52.2" font-size="14" font-family="'Liberation Serif',serif" fill="#d21c1c" font-weight="bold" font-style="italic">τ</text>
<text x="163.3" y="47.8" font-size="8.6" fill="#d21c1c" stroke="#d21c1c" stroke-width=".25">1.7</text>
<rect x="139.5" y="27.5" width="79" height="79" fill="none" stroke="#484848" stroke-width="1.05"/>
<path d="M256.9 105.8v-1.4M256.9 27v1.4M263.8 105.8v-1.4M263.8 27v1.4M268.8 105.8v-1.4M268.8 27v1.4M272.6 105.8v-1.4M272.6 27v1.4M275.7 105.8v-1.4M275.7 27v1.4M278.4 105.8v-1.4M278.4 27v1.4M280.7 105.8v-1.4M280.7 27v1.4M282.7 105.8v-1.4M282.7 27v1.4M284.5 105.8v-2.2M284.5 27v2.2M296.4 105.8v-1.4M296.4 27v1.4M303.3 105.8v-1.4M303.3 27v1.4M308.3 105.8v-1.4M308.3 27v1.4M312.1 105.8v-1.4M312.1 27v1.4M315.2 105.8v-1.4M315.2 27v1.4M317.9 105.8v-1.4M317.9 27v1.4M320.2 105.8v-1.4M320.2 27v1.4M322.2 105.8v-1.4M322.2 27v1.4M245 102.4h1.3M324 102.4h-1.3M245 100.4h1.3M324 100.4h-1.3M245 99h1.3M324 99h-1.3M245 97.9h1.3M324 97.9h-1.3M245 97h1.3M324 97h-1.3M245 96.3h1.3M324 96.3h-1.3M245 95.6h1.3M324 95.6h-1.3M245 95.1h1.3M324 95.1h-1.3M245 94.5h2.2M324 94.5h-2.2M245 91.2h1.3M324 91.2h-1.3M245 89.2h1.3M324 89.2h-1.3M245 87.8h1.3M324 87.8h-1.3M245 86.7h1.3M324 86.7h-1.3M245 85.8h1.3M324 85.8h-1.3M245 85h1.3M324 85h-1.3M245 84.4h1.3M324 84.4h-1.3M245 83.8h1.3M324 83.8h-1.3M245 83.3h2.2M324 83.3h-2.2M245 79.9h1.3M324 79.9h-1.3M245 77.9h1.3M324 77.9h-1.3M245 76.5h1.3M324 76.5h-1.3M245 75.4h1.3M324 75.4h-1.3M245 74.5h1.3M324 74.5h-1.3M245 73.8h1.3M324 73.8h-1.3M245 73.1h1.3M324 73.1h-1.3M245 72.5h1.3M324 72.5h-1.3M245 72h2.2M324 72h-2.2M245 68.6h1.3M324 68.6h-1.3M245 66.7h1.3M324 66.7h-1.3M245 65.3h1.3M324 65.3h-1.3M245 64.2h1.3M324 64.2h-1.3M245 63.3h1.3M324 63.3h-1.3M245 62.5h1.3M324 62.5h-1.3M245 61.9h1.3M324 61.9h-1.3M245 61.3h1.3M324 61.3h-1.3M245 60.8h2.2M324 60.8h-2.2M245 57.4h1.3M324 57.4h-1.3M245 55.4h1.3M324 55.4h-1.3M245 54h1.3M324 54h-1.3M245 52.9h1.3M324 52.9h-1.3M245 52h1.3M324 52h-1.3M245 51.3h1.3M324 51.3h-1.3M245 50.6h1.3M324 50.6h-1.3M245 50h1.3M324 50h-1.3M245 49.5h2.2M324 49.5h-2.2M245 46.1h1.3M324 46.1h-1.3M245 44.1h1.3M324 44.1h-1.3M245 42.7h1.3M324 42.7h-1.3M245 41.6h1.3M324 41.6h-1.3M245 40.8h1.3M324 40.8h-1.3M245 40h1.3M324 40h-1.3M245 39.3h1.3M324 39.3h-1.3M245 38.8h1.3M324 38.8h-1.3M245 38.3h2.2M324 38.3h-2.2M245 34.9h1.3M324 34.9h-1.3M245 32.9h1.3M324 32.9h-1.3M245 31.5h1.3M324 31.5h-1.3M245 30.4h1.3M324 30.4h-1.3M245 29.5h1.3M324 29.5h-1.3M245 28.7h1.3M324 28.7h-1.3M245 28.1h1.3M324 28.1h-1.3M245 27.5h1.3M324 27.5h-1.3" fill="none" stroke="#3a3a3a" stroke-width="0.6"/>
<rect x="245.5" y="27.5" width="79" height="78" fill="none" stroke="#484848" stroke-width="1.05"/>
<text x="243.4" y="42.5" font-size="7.8" fill="#383838" text-anchor="end">10<tspan dy="-3.2" font-size="6.2">4</tspan></text>
<text x="243.4" y="65" font-size="7.8" fill="#383838" text-anchor="end">10<tspan dy="-3.2" font-size="6.2">2</tspan></text>
<text x="243.4" y="87.5" font-size="7.8" fill="#383838" text-anchor="end">10<tspan dy="-3.2" font-size="6.2">0</tspan></text>
<text x="243.4" y="110" font-size="7.8" fill="#383838" text-anchor="end">10<tspan dy="-3.2" font-size="6.2">&#8722;2</tspan></text>
<text x="244.7" y="118.2" font-size="7.8" fill="#383838" text-anchor="middle">10<tspan dy="-3.2" font-size="6.2">0</tspan></text>
<text x="284.2" y="118.2" font-size="7.8" fill="#383838" text-anchor="middle">10<tspan dy="-3.2" font-size="6.2">1</tspan></text>
<text x="323.7" y="118.2" font-size="7.8" fill="#383838" text-anchor="middle">10<tspan dy="-3.2" font-size="6.2">2</tspan></text>
<text x="273.9" y="129.5" font-size="13.5" font-family="'Liberation Serif',serif" fill="#111" font-weight="bold" font-style="italic">τ</text>
<text x="283.1" y="128.9" font-size="8.3" fill="#555">[s]</text>
<path d="M282 38.6L302.4 27.9" stroke="#555" stroke-width=".75" stroke-dasharray="1.1 1.4"/>
<path d="M263.4 100.1L322 83.5" stroke="#555" stroke-width=".75" stroke-dasharray="1.1 1.4"/>
<path d="M245 64l2.8-1.3 2.9-1.3 2.8-1.4 2.8-1.3 2.9-1.3 2.8-1.4 2.8-1.3 2.9-1.4 2.8-1.3 2.8-1.2 2.9-1.3 2.8-1.3 2.8-1.4 2.9-1.3 2.8-1.3 2.9-1.4 2.8-1.4 2.8-1.4 2.9-1.4 2.8-1.3 2.8-1.3 2.9-1.4 2.8-1.3 2.8-1.3 2.9-1.4 2.8-1.2 2.8-1.4M245 65.9l2.3-1 2.4-1.1 2.3-1.2 2.3-1 2.4-1.1 2.3-1.1 2.4-1 2.3-1.1 2.3-1.1 2.4-1 2.3-1 2.3-1 2.4-1.2 2.3-1.2 2.4-1.1 2.3-1.1 2.3-1.1 2.4-1.1 2.3-1.1 2.3-1 2.4-1 2.3-1 2.4-1.1 2.3-1 2.3-1.1 2.4-1 2.3-1.2M245 67.3l2.8-1.5 2.9-1.4 2.8-1.5 2.9-1.4 2.8-1.5 2.9-1.5 2.8-1.5 2.9-1.4 2.8-1.5 2.8-1.4 2.9-1.5 2.8-1.4 2.9-1.5 2.8-1.5 2.9-1.6 2.8-1.5 2.9-1.5 2.8-1.5 2.9-1.6 2.8-1.6 2.8-1.5 2.9-1.5 2.8-1.5 2.9-1.5 2.8-1.5 2.9-1.6 2.8-1.4M245 65.5l2.3-1.1 2.4-1.1 2.3-1.1 2.4-1.1 2.3-1.1 2.4-1.1 2.3-1.1 2.4-1.1 2.3-1 2.4-1.2 2.3-1 2.4-1.1 2.3-1.2 2.4-1.1 2.3-1 2.4-1.1 2.3-1.1 2.4-1.2 2.3-1 2.3-1 2.4-1.2 2.3-1.2 2.4-1.1 2.3-1.1 2.4-1.1 2.3-1.1 2.4-1.2" fill="none" stroke="#6aaf66" stroke-width="0.55" stroke-opacity="0.85" clip-path="url(#ka3)"/>
<path d="M245 68l2.3-1.2 2.4-1.3 2.3-1.2 2.4-1.2 2.3-1.2 2.4-1.3 2.3-1.2 2.3-1.3 2.4-1.2 2.3-1.1 2.4-1.3 2.3-1.2 2.4-1.2 2.3-1.3 2.3-1.3 2.4-1.1 2.3-1.2 2.4-1.1 2.3-1.3 2.4-1.4 2.3-1.2 2.4-1.2 2.3-1.2 2.3-1.3 2.4-1.3 2.3-1.3 2.4-1.2M245 64.2l2.5-1.1 2.5-1.2 2.5-1.1 2.5-1.2 2.6-1.1 2.5-1.2 2.5-1.2 2.5-1.2 2.5-1 2.5-1.2 2.5-1.1 2.5-1.2 2.6-1.1 2.5-1.1 2.5-1.2 2.5-1.2 2.5-1 2.5-1.3 2.5-1.2 2.5-1.1 2.5-1.2 2.6-1.1 2.5-1.2 2.5-1.2 2.5-1.1 2.5-1.1 2.5-1.1M245 68.9l2.3-1.2 2.3-1.1 2.2-1.2 2.3-1.1 2.3-1.1 2.3-1.2 2.3-1.2 2.3-1.2 2.2-1.2 2.3-1.3 2.3-1.1 2.3-1.2 2.3-1.2 2.3-1.2 2.2-1.2 2.3-1.1 2.3-1.2 2.3-1.1 2.3-1.1 2.3-1.2 2.2-1 2.3-1.1 2.3-1.2 2.3-1.2 2.3-1.2 2.2-1 2.3-1.1M245 62.5l2.8-1.3 2.8-1.3 2.9-1.3 2.8-1.3 2.8-1.3 2.8-1.3 2.8-1.3 2.8-1.3 2.9-1.3 2.8-1.3 2.8-1.3 2.8-1.3 2.8-1.3 2.8-1.2 2.9-1.3 2.8-1.3 2.8-1.5 2.8-1.3 2.8-1.3 2.8-1.3 2.9-1.3 2.8-1.2 2.8-1.5 2.8-1.3 2.8-1.4 2.9-1.3 2.8-1.5" fill="none" stroke="#9acd7a" stroke-width="0.55" stroke-opacity="0.85" clip-path="url(#ka3)"/>
<path d="M245 64.3l2.4-1.2 2.4-1.1 2.4-1.2 2.3-1.1 2.4-1.2 2.4-1.1 2.4-1.1 2.4-1.1 2.4-1.2 2.4-1.1 2.3-1.2 2.4-1.2 2.4-1.1 2.4-1.2 2.4-1.2 2.4-1.2 2.4-1.2 2.3-1.2 2.4-1.3 2.4-1 2.4-1.2 2.4-1.2 2.4-1.1 2.4-1.1 2.3-1 2.4-1.1 2.4-1.1M245 66.4l2.6-1.2 2.6-1.3 2.6-1.2 2.6-1.2 2.7-1.2 2.6-1.2 2.6-1.3 2.6-1.3 2.6-1.2 2.6-1.3 2.6-1.2 2.6-1.3 2.6-1.2 2.7-1.2 2.6-1.2 2.6-1.3 2.6-1.3 2.6-1.3 2.6-1.2 2.6-1.3 2.6-1.2 2.6-1.3 2.7-1.3 2.6-1.3 2.6-1.2 2.6-1.1 2.6-1.4M245 62.5l2.3-1 2.3-1 2.3-1 2.3-1 2.3-1 2.3-1 2.3-1.1 2.3-.9 2.3-1.1 2.3-1 2.3-1.1 2.3-1 2.3-1 2.3-1.1 2.3-1.1 2.3-1 2.3-1.1 2.3-1 2.3-1.1 2.3-1.1 2.3-.8 2.3-1.2 2.3-1 2.2-.9 2.3-1 2.3-1 2.3-1.2M245 64.8l2.6-1.2 2.6-1.3 2.7-1.2 2.6-1.3 2.6-1.3 2.6-1.3 2.6-1.2 2.6-1.3 2.7-1.2 2.6-1.3 2.6-1.3 2.6-1.3 2.6-1.3 2.6-1.3 2.7-1.3 2.6-1.4 2.6-1.1 2.6-1.4 2.6-1.4 2.6-1.2 2.7-1.3 2.6-1.3 2.6-1.4 2.6-1.3 2.6-1.1 2.6-1.4 2.7-1.1" fill="none" stroke="#5aa55a" stroke-width="0.55" stroke-opacity="0.85" clip-path="url(#ka3)"/>
<path d="M245 63.2l2.7-1.2 2.7-1.2 2.7-1.2 2.7-1.3 2.7-1.2 2.7-1.1 2.7-1.2 2.7-1.2 2.7-1.2 2.7-1.2 2.7-1.2 2.7-1.2 2.7-1.1 2.7-1.2 2.7-1.4 2.8-1.2 2.7-1.2 2.7-1.1 2.7-1.1 2.7-1.1 2.7-1.2 2.7-1.2 2.7-1.2 2.7-1.1 2.7-1.2 2.7-1.4 2.7-1.1M245 64.8l2.3-1 2.3-1.1 2.3-1.1 2.3-1.1 2.3-1.1 2.3-1.1 2.3-1.1 2.3-1.1 2.2-1.1 2.3-1 2.3-1 2.3-1.1 2.3-1.1 2.3-1 2.3-1 2.3-1 2.3-1.1 2.3-.9 2.3-1.2 2.3-1.1 2.3-1.3 2.3-1.1 2.3-1 2.3-1 2.3-.8 2.3-1 2.2-1.1M245 63.4l2.4-1 2.3-1.1 2.4-1 2.3-1.1 2.4-1 2.3-1 2.4-1 2.3-1.1 2.4-1 2.3-.9 2.4-1.1 2.3-1.1 2.4-.9 2.3-1.1 2.4-1 2.3-1.2 2.4-1.1 2.3-1 2.4-1.1 2.3-1.1 2.4-1 2.3-1.1 2.4-1 2.3-.9 2.4-1.3 2.3-1 2.4-1M245 63.5l2.6-1.2 2.6-1.2 2.6-1.3 2.6-1.3 2.6-1.2 2.6-1.3 2.6-1.2 2.6-1.2 2.6-1.1 2.5-1.2 2.6-1.2 2.6-1.2 2.6-1.2 2.6-1.1 2.6-1.2 2.6-1.1 2.6-1.2 2.6-1.2 2.6-1.3 2.6-1.3 2.6-1.2 2.6-1.2 2.6-1.1 2.6-1.4 2.6-1.3 2.6-1.2 2.6-1.1" fill="none" stroke="#b4d890" stroke-width="0.55" stroke-opacity="0.85" clip-path="url(#ka3)"/>
<path d="M245 63.5l2.4-1.1 2.4-1.1 2.4-1.1 2.4-1.1 2.4-1.1 2.4-1 2.4-1.2 2.4-1.2 2.4-1 2.4-1.2 2.4-1.1 2.4-1.1 2.4-1.1 2.4-1.1 2.4-1 2.4-1.2 2.4-1 2.4-1.2 2.4-1.1 2.4-1.1 2.4-1.1 2.4-1.2 2.3-1.1 2.4-1.1 2.4-1.2 2.4-.9 2.4-1.3M245 62l2.5-1.1 2.5-1.1 2.5-1.1 2.5-1.1 2.5-1.1 2.5-1 2.5-1.1 2.5-1 2.5-1.2 2.5-1.1 2.5-1.1 2.4-1.1 2.5-1 2.5-1.1 2.5-1.1 2.5-1.1 2.5-1.1 2.5-1 2.5-1.2 2.5-1.1 2.5-1.1 2.5-1 2.5-1.1 2.5-1.1 2.5-1.1 2.5-1.1 2.5-1.1M245 65.3l2.5-1.2 2.5-1.1 2.5-1.1 2.5-1.2 2.4-1.1 2.5-1.2 2.5-1.2 2.5-1.1 2.5-1.2 2.5-1.1 2.5-1.2 2.5-1.1 2.4-1.2 2.5-1.2 2.5-1.2 2.5-1.1 2.5-1.1 2.5-1.1 2.5-1.2 2.5-1.2 2.5-1.1 2.4-1.2 2.5-1.2 2.5-1.1 2.5-1.3 2.5-1.1 2.5-1.2" fill="none" stroke="#7dbb6a" stroke-width="0.55" stroke-opacity="0.85" clip-path="url(#ka3)"/>
<path d="M245 63.8l2.4-1.1 2.5-1.1 2.4-1.1 2.5-1 2.4-1.1 2.5-1.1 2.4-1.1 2.5-1 2.4-1.1 2.5-1 2.4-1.1 2.4-1.1 2.5-1 2.4-1 2.5-1.2 2.4-1 2.5-1 2.4-1 2.5-1.2 2.4-1.2 2.4-1.1 2.5-1 2.4-1.1 2.5-1.2 2.4-1 2.5-1.2 2.4-1.2M245 63.6l2.7-1.3 2.7-1.2 2.7-1.3 2.7-1.3 2.7-1.2 2.7-1.2 2.7-1.2 2.7-1.2 2.7-1.2 2.7-1.3 2.7-1.2 2.7-1.3 2.7-1.2 2.6-1.3 2.7-1.2 2.7-1.2 2.7-1.3 2.7-1.3 2.7-1.2 2.7-1.1 2.7-1.3 2.7-1.3 2.7-1.2 2.7-1.2 2.7-1.2 2.7-1.5 2.7-1.2M245 65.5l2.7-1.3 2.7-1.2 2.7-1.2 2.6-1.3 2.7-1.3 2.7-1.2 2.7-1.3 2.7-1.2 2.7-1.3 2.7-1.3 2.6-1.2 2.7-1.4 2.7-1.3 2.7-1.2 2.7-1.3 2.7-1.2 2.7-1.3 2.6-1 2.7-1.3 2.7-1.3 2.7-1.3 2.7-1.4 2.7-1.4 2.7-1.2 2.7-1.4 2.6-1.2 2.7-1.2" fill="none" stroke="#a8d48a" stroke-width="0.55" stroke-opacity="0.85" clip-path="url(#ka3)"/>
<path d="M245 65.9l79-38.9" fill="none" stroke="#d9442e" stroke-width="0.85" clip-path="url(#ka3)"/>
<text x="246.4" y="36.8" font-size="9" fill="#d21c1c" stroke="#d21c1c" stroke-width=".2">80%</text>
<path d="M247.1 47.2c1.3-2.3 2.7-2.3 3.9-.95s2.7 1.45 3.9-1.05" fill="none" stroke="#d21c1c" stroke-width="1.15" stroke-linecap="round"/>
<text x="258.2" y="50.1" font-size="14" font-family="'Liberation Serif',serif" fill="#d21c1c" font-weight="bold" font-style="italic">τ</text>
<text x="265.7" y="45.7" font-size="8.6" fill="#d21c1c" stroke="#d21c1c" stroke-width=".25">1.7</text>
<rect x="245.5" y="27.5" width="79" height="78" fill="none" stroke="#484848" stroke-width="1.05"/>
<path d="M401.2 109.2v-1.4M401.2 30v1.4M408.2 109.2v-1.4M408.2 30v1.4M413.1 109.2v-1.4M413.1 30v1.4M416.9 109.2v-1.4M416.9 30v1.4M420 109.2v-1.4M420 30v1.4M422.6 109.2v-1.4M422.6 30v1.4M424.9 109.2v-1.4M424.9 30v1.4M426.9 109.2v-1.4M426.9 30v1.4M428.7 109.2v-2.2M428.7 30v2.2M440.5 109.2v-1.4M440.5 30v1.4M447.5 109.2v-1.4M447.5 30v1.4M452.4 109.2v-1.4M452.4 30v1.4M456.2 109.2v-1.4M456.2 30v1.4M459.3 109.2v-1.4M459.3 30v1.4M461.9 109.2v-1.4M461.9 30v1.4M464.2 109.2v-1.4M464.2 30v1.4M466.2 109.2v-1.4M466.2 30v1.4M389.4 105.8h1.3M468 105.8h-1.3M389.4 103.8h1.3M468 103.8h-1.3M389.4 102.4h1.3M468 102.4h-1.3M389.4 101.3h1.3M468 101.3h-1.3M389.4 100.4h1.3M468 100.4h-1.3M389.4 99.6h1.3M468 99.6h-1.3M389.4 99h1.3M468 99h-1.3M389.4 98.4h1.3M468 98.4h-1.3M389.4 97.9h2.2M468 97.9h-2.2M389.4 94.5h1.3M468 94.5h-1.3M389.4 92.5h1.3M468 92.5h-1.3M389.4 91.1h1.3M468 91.1h-1.3M389.4 90h1.3M468 90h-1.3M389.4 89.1h1.3M468 89.1h-1.3M389.4 88.3h1.3M468 88.3h-1.3M389.4 87.7h1.3M468 87.7h-1.3M389.4 87.1h1.3M468 87.1h-1.3M389.4 86.6h2.2M468 86.6h-2.2M389.4 83.2h1.3M468 83.2h-1.3M389.4 81.2h1.3M468 81.2h-1.3M389.4 79.8h1.3M468 79.8h-1.3M389.4 78.7h1.3M468 78.7h-1.3M389.4 77.8h1.3M468 77.8h-1.3M389.4 77h1.3M468 77h-1.3M389.4 76.4h1.3M468 76.4h-1.3M389.4 75.8h1.3M468 75.8h-1.3M389.4 75.3h2.2M468 75.3h-2.2M389.4 71.9h1.3M468 71.9h-1.3M389.4 69.9h1.3M468 69.9h-1.3M389.4 68.4h1.3M468 68.4h-1.3M389.4 67.3h1.3M468 67.3h-1.3M389.4 66.5h1.3M468 66.5h-1.3M389.4 65.7h1.3M468 65.7h-1.3M389.4 65h1.3M468 65h-1.3M389.4 64.5h1.3M468 64.5h-1.3M389.4 63.9h2.2M468 63.9h-2.2M389.4 60.5h1.3M468 60.5h-1.3M389.4 58.5h1.3M468 58.5h-1.3M389.4 57.1h1.3M468 57.1h-1.3M389.4 56h1.3M468 56h-1.3M389.4 55.1h1.3M468 55.1h-1.3M389.4 54.4h1.3M468 54.4h-1.3M389.4 53.7h1.3M468 53.7h-1.3M389.4 53.1h1.3M468 53.1h-1.3M389.4 52.6h2.2M468 52.6h-2.2M389.4 49.2h1.3M468 49.2h-1.3M389.4 47.2h1.3M468 47.2h-1.3M389.4 45.8h1.3M468 45.8h-1.3M389.4 44.7h1.3M468 44.7h-1.3M389.4 43.8h1.3M468 43.8h-1.3M389.4 43.1h1.3M468 43.1h-1.3M389.4 42.4h1.3M468 42.4h-1.3M389.4 41.8h1.3M468 41.8h-1.3M389.4 41.3h2.2M468 41.3h-2.2M389.4 37.9h1.3M468 37.9h-1.3M389.4 35.9h1.3M468 35.9h-1.3M389.4 34.5h1.3M468 34.5h-1.3M389.4 33.4h1.3M468 33.4h-1.3M389.4 32.5h1.3M468 32.5h-1.3M389.4 31.8h1.3M468 31.8h-1.3M389.4 31.1h1.3M468 31.1h-1.3M389.4 30.5h1.3M468 30.5h-1.3" fill="none" stroke="#3a3a3a" stroke-width="0.6"/>
<rect x="389.5" y="30.5" width="79" height="79" fill="none" stroke="#484848" stroke-width="1.05"/>
<text x="387.8" y="45.5" font-size="7.8" fill="#383838" text-anchor="end">10<tspan dy="-3.2" font-size="6.2">4</tspan></text>
<text x="387.8" y="68.1" font-size="7.8" fill="#383838" text-anchor="end">10<tspan dy="-3.2" font-size="6.2">2</tspan></text>
<text x="387.8" y="90.8" font-size="7.8" fill="#383838" text-anchor="end">10<tspan dy="-3.2" font-size="6.2">0</tspan></text>
<text x="387.8" y="113.4" font-size="7.8" fill="#383838" text-anchor="end">10<tspan dy="-3.2" font-size="6.2">&#8722;2</tspan></text>
<text x="389.1" y="121.6" font-size="7.8" fill="#383838" text-anchor="middle">10<tspan dy="-3.2" font-size="6.2">0</tspan></text>
<text x="428.4" y="121.6" font-size="7.8" fill="#383838" text-anchor="middle">10<tspan dy="-3.2" font-size="6.2">1</tspan></text>
<text x="467.7" y="121.6" font-size="7.8" fill="#383838" text-anchor="middle">10<tspan dy="-3.2" font-size="6.2">2</tspan></text>
<text x="418.1" y="132.9" font-size="13.5" font-family="'Liberation Serif',serif" fill="#111" font-weight="bold" font-style="italic">τ</text>
<text x="427.3" y="132.3" font-size="8.3" fill="#555">[s]</text>
<text x="0" y="0" font-size="8.8" fill="#383838" text-anchor="middle" transform="translate(366,72.6) rotate(-90)">MSD [μm<tspan dy="-3.4" font-size="6.6">2</tspan><tspan dy="3.4">]</tspan></text>
<path d="M408 53.5L445.9 31.6" stroke="#555" stroke-width=".75" stroke-dasharray="1.1 1.4"/>
<path d="M408 103.4L466.8 85.9" stroke="#555" stroke-width=".75" stroke-dasharray="1.1 1.4"/>
<path d="M389.4 83.9l.8-.2 .8-.2 .8-.3 .8-.2 .8-.3 .8-.3 .8-.3 .8-.2 .8-.4 .7-.2 .8-.2 .8-.3 .8-.2 .8-.3 .8-.2 .8-.4 .8-.1 .8-.2 .8-.3 .8-.3 .8-.4 .8-.1 .8-.4 .8-.3 .8-.4 .8-.1 .8-.3 .8-.2 .8-.1 .7-.1 .8-.4 .8-.2 .8-.2 .8-.3 .8-.4 .8-.4 .8-.1 .8-.3 .8-.3 .8-.2 .8-.1 .8-.4 .8-.5 .8-.1 .8 .2 .8 0 .8-.1 .8-.2 .8-.4 .7-.2 .8-.1 .8-.3 .8-.1 .8-.2 .8-.1M389.4 82.2l.9-.3 1-.2 .9-.4 .9-.3 1-.3 .9-.3 .9-.4 .9-.3 1-.2 .9-.2 .9-.4 1-.3 .9-.3 .9-.3 1-.3 .9-.3 .9-.3 1-.2 .9-.5 .9-.3 1-.2 .9-.2 .9-.2 .9-.4 1-.4 .9-.2 .9-.3 1-.3 .9-.2 .9-.4 1-.4 .9-.5 .9-.3 1-.2 .9-.5 .9-.2 .9-.1 1-.2 .9-.3 .9-.4 1-.2 .9-.5 .9-.4 1-.4 .9-.3 .9-.3 1-.3 .9-.5 .9-.3 .9-.4 1-.2 .9-.1 .9-.1 1-.5 .9-.3M389.4 86.6l.9-.3 .9-.3 .9-.3 .8-.3 .9-.3 .9-.2 .9-.4 .9-.3 .9-.2 .8-.2 .9-.4 .9-.2 .9-.2 .9-.3 .9-.3 .8-.2 .9-.2 .9-.3 .9-.2 .9-.3 .9-.2 .8-.3 .9-.2 .9-.4 .9-.3 .9-.3 .9-.3 .8-.3 .9-.4 .9-.3 .9-.5 .9-.5 .9-.3 .8-.2 .9-.4 .9-.3 .9-.3 .9-.1 .9 0 .8-.4 .9-.4 .9-.4 .9 0 .9-.5 .9-.2 .9-.3 .8-.4 .9-.1 .9-.2 .9 .1 .9-.2 .9 .1 .8-.4 .9-.2 .9-.5M389.4 85.8l.9-.3 .8-.3 .9-.1 .9-.2 .8-.2 .9-.3 .9-.3 .9-.2 .8-.2 .9-.3 .9-.2 .8-.2 .9-.2 .9-.3 .8-.2 .9-.1 .9-.2 .8-.2 .9-.3 .9-.2 .8-.4 .9-.3 .9-.2 .9-.2 .8-.1 .9-.5 .9-.2 .8-.4 .9-.2 .9-.1 .8-.4 .9-.2 .9-.3 .8-.2 .9-.4 .9-.3 .9 0 .8-.4 .9-.2 .9-.1 .8-.5 .9-.4 .9-.2 .8 0 .9-.3 .9-.3 .8-.2 .9-.1 .9-.1 .9 0 .8-.3 .9-.3 .9-.5 .8-.1 .9-.3" fill="none" stroke="#6aaf66" stroke-width="0.55" stroke-opacity="0.85" clip-path="url(#kb1)"/>
<path d="M389.4 83.4l1.4-.4 1.5-.4 1.4-.3 1.4-.4 1.4-.3 1.5-.3 1.4-.4 1.4-.4 1.5-.3 1.4-.4 1.4-.3 1.4-.3 1.5-.3 1.4-.4 1.4-.5 1.5-.3 1.4-.4 1.4-.4 1.5-.4 1.4-.2 1.4-.3 1.4-.4 1.5-.5 1.4-.4 1.4-.4 1.5-.4 1.4-.3 1.4-.3 1.4-.5 1.5-.4 1.4-.3 1.4 1.4 1.5 6.2 1.4-1.3 1.4-6.5 1.4-1.9 1.5-.4 1.4-.4 1.4-.6 1.5-.5 1.4-.4 1.4-.5 1.5-.2 1.4-.3 1.4 0 1.4-.6 1.5-.1 1.4-.5 1.4-.2 1.5-.2 1.4-.3 1.4-.5 1.4-.4 1.5-.7 1.4-.5M389.4 81.8l1.4-.4 1.5-.4 1.4-.5 1.4-.5 1.4-.4 1.5-.4 1.4-.4 1.4-.3 1.5-.5 1.4-.5 1.4-.4 1.4-.5 1.5-.4 1.4-.4 1.4-.4 1.5-.4 1.4-.4 1.4-.5 1.5-.5 1.4-.5 1.4-.5 1.4-.4 1.5-.3 1.4-.4 1.4-.3 1.5-.5 1.4-.5 1.4-.6 1.4-.5 1.5-.5 1.4-.5 1.4-.4 1.5-.5 1.4-.6 1.4-.3 1.4-.5 1.5-.8 1.4-.4 1.4-.4 1.5-.4 1.4-.2 1.4-.6 1.5-.5 1.4-.5 1.4-.7 1.4-.8 1.5-.3 1.4-.7 1.4-.5 1.5-.5 1.4-.6 1.4-.4 1.4-.8 1.5-.5 1.4-.6M389.4 84.8l1.4-.4 1.5-.4 1.4-.4 1.4-.4 1.4-.5 1.5-.3 1.4-.5 1.4-.4 1.5-.4 1.4-.4 1.4-.6 1.4-.4 1.5-.4 1.4-.2 1.4-.4 1.5-.4 1.4-.2 1.4-.5 1.5-.4 1.4-.4 1.4-.3 1.4-.3 1.5-.5 1.4-.3 1.4-.3 1.5-.7 1.4-.4 1.4-.4 1.4-.4 1.5-.3 1.4-.4 1.4-.4 1.5-.3 1.4-.5 1.4-.5 1.4-.6 1.5-.2 1.4-.2 1.4-.2 1.5-.6 1.4-.4 1.4-.5 1.5 .5 1.4 3.6 1.4 6.9 1.4 1.5 1.5-6.9 1.4-6 1.4-2 1.5-.6 1.4-.2 1.4 0 1.4-.4 1.5-.4 1.4-.3M389.4 84.6l1.4-.3 1.5-.4 1.4-.5 1.4-.4 1.4-.4 1.5-.4 1.4-.4 1.4-.3 1.5-.3 1.4-.5 1.4-.5 1.4-.5 1.5-.4 1.4-.4 1.4-.4 1.5-.4 1.4-.4 1.4-.3 1.5-.5 1.4-.3 1.4-.2 1.4-.3 1.5-.2 1.4-.3 1.4-.5 1.5-.3 1.4-.4 1.4-.6 1.4-.5 1.5-.3 1.4-.5 1.4-.5 1.5-.4 1.4-.4 1.4-.2 1.4-.3 1.5-.4 1.4-.4 1.4-.4 1.5-.4 1.4-.5 1.4-.6 1.5-.5 1.4-.6 1.4-.3 1.4-.3 1.5-.5 1.4-.3 1.4-.3 1.5-.7 1.4-.4 1.4-.2 1.4-.5 1.5-.7 1.4-.4" fill="none" stroke="#8cc47a" stroke-width="0.55" stroke-opacity="0.85" clip-path="url(#kb1)"/>
<path d="M389.4 82l1.4-.4 1.5-.4 1.4-.4 1.4-.3 1.4-.4 1.5-.4 1.4-.4 1.4-.4 1.5-.3 1.4-.4 1.4-.4 1.4-.3 1.5-.3 1.4-.5 1.4-.2 1.5-.3 1.4-.4 1.4-.3 1.5-.5 1.4-.2 1.4-.5 1.4-.5 1.5-.5 1.4-.3 1.4-.4 1.5-.3 1.4-.5 1.4-.2 1.4-.4 1.5-.5 1.4-.2 1.4-.4 1.5-.4 1.4-.2 1.4-.5 1.4-.4 1.5-.2 1.4-.3 1.4-.3 1.5-.3 1.4-.4 1.4-.2 1.5-.5 1.4-.3 1.4-.5 1.4-.4 1.5-.5 1.4-.3 1.4-.2 1.5-.2 1.4-.5 1.4-.5 1.4-.7 1.5-.7 1.4-.4M389.4 86.6l1.4-.5 1.5-.4 1.4-.4 1.4-.5 1.4-.4 1.5-.4 1.4-.4 1.4-.3 1.5-.4 1.4-.4 1.4-.4 1.4-.3 1.5-.3 1.4-.5 1.4-.4 1.5-.3 1.4-.5 1.4-.3 1.5-.3 1.4-.3 1.4-.4 1.4-.5 1.5-.5 1.4-.4 1.4-.3 1.5-.3 1.4-.3 1.4-.4 1.4-.2 1.5-.4 1.4-.4 1.4-.4 1.5-.4 1.4-.3 1.4-.2 1.4-.3 1.5-.5 1.4-.5 1.4-.4 1.5-.5 1.4-.3 1.4-.6 1.5-.5 1.4-.3 1.4-.5 1.4-.3 1.5-.2 1.4-.2 1.4-.4 1.5-.4 1.4-.4 1.4-.3 1.4-.6 1.5-.3 1.4-.3M389.4 82.7l1.4-.3 1.5-.5 1.4-.3 1.4-.4 1.4-.4 1.5-.3 1.4-.4 1.4-.4 1.5-.3 1.4-.3 1.4-.5 1.4-.4 1.5-.5 1.4-.4 1.4-.3 1.5-.3 1.4-.3 1.4-.5 1.5-.5 1.4-.4 1.4-.5 1.4-.4 1.5-.3 1.4-.4 1.4-.5 1.5-.4 1.4-.5 1.4-.4 1.4-.3 1.5-.4 1.4-.2 1.4-.6 1.5-.1 1.4-.3 1.4-.7 1.4-.4 1.5-.2 1.4-.4 1.4-.6 1.5-.4 1.4-.4 1.4-.4 1.5-.4 1.4-.9 1.4-.4 1.4-.3 1.5-.3 1.4-.5 1.4-.4 1.5-.6 1.4-.4 1.4-.1 1.4-.5 1.5-.4 1.4-.3M389.4 83.5l1.4-.3 1.5-.4 1.4-.3 1.4-.4 1.4-.4 1.5-.3 1.4-.5 1.4-.3 1.5-.4 1.4-.4 1.4-.4 1.4-.4 1.5-.3 1.4-.4 1.4-.2 1.5-.6 1.4-.4 1.4-.4 1.5-.2 1.4-.4 1.4-.2 1.4-.5 1.5-.3 1.4-.4 1.4-.3 1.5-.4 1.4-.5 1.4-.2 1.4-.2 1.5-.4 1.4-.2 1.4-.3 1.5-.5 1.4-.3 1.4-.4 1.4-.3 1.5-.6 1.4-.5 1.4-.3 1.5-.3 1.4-.3 1.4-.4 1.5-.5 1.4-.2 1.4-.5 1.4-.1 1.5-.3 1.4 0 1.4-.7 1.5-.4 1.4-.4 1.4-.2 1.4-.6 1.5 0 1.4-.3" fill="none" stroke="#5aa55a" stroke-width="0.55" stroke-opacity="0.85" clip-path="url(#kb1)"/>
<path d="M389.4 82.4l1.4-.4 1.5-.4 1.4-.5 1.4-.4 1.4-.4 1.5-.4 1.4-.4 1.4-.5 1.5-.4 1.4-.4 1.4-.4 1.4-.4 1.5-.4 1.4-.3 1.4-.4 1.5-.3 1.4-.4 1.4-.3 1.5-.5 1.4-.4 1.4-.4 1.4-.2 1.5-.4 1.4-.2 1.4-.5 1.5-.4 1.4-.4 1.4-.6 1.4-.4 1.5-.5 1.4-.4 1.4-.4 1.5-.5 1.4-.6 1.4-.2 1.4-.5 1.5-.5 1.4-.6 1.4-.4 1.5-.3 1.4-.2 1.4-.7 1.5-.4 1.4-.2 1.4-.5 1.4-.3 1.5-.1 1.4 0 1.4-.2 1.5-.4 1.4-.4 1.4-.3 1.4-.5 1.5-.5 1.4 0M389.4 83.4l1.4-.5 1.5-.4 1.4-.3 1.4-.4 1.4-.4 1.5-.4 1.4-.5 1.4-.3 1.5-.5 1.4-.4 1.4-.4 1.4-.4 1.5-.5 1.4-.4 1.4-.3 1.5-.3 1.4-.3 1.4-.4 1.5-.5 1.4-.5 1.4-.4 1.4-.3 1.5-.4 1.4-.3 1.4-.6 1.5-.4 1.4-.5 1.4-.3 1.4-.2 1.5-.3 1.4-.3 1.4-.4 1.5-.4 1.4-.3 1.4-.3 1.4-.6 1.5-.3 1.4-.3 1.4-.3 1.5 .3 1.4 2.7 1.4 2 1.5-4.1 1.4-2.5 1.4-.6 1.4-.4 1.5-.4 1.4-.4 1.4-.3 1.5-.6 1.4-.3 1.4-.3 1.4-.4 1.5-.4 1.4-.4M389.4 86.3l1.4-.4 1.5-.3 1.4-.4 1.4-.2 1.4-.4 1.5-.4 1.4-.3 1.4-.3 1.5-.3 1.4-.4 1.4-.2 1.4-.3 1.5-.2 1.4-.4 1.4-.4 1.5-.2 1.4-.4 1.4-.3 1.5-.5 1.4-.4 1.4-.5 1.4-.2 1.5-.2 1.4-.5 1.4-.3 1.5-.3 1.4-.4 1.4-.2 1.4-.4 1.5-.4 1.4-.4 1.4-.3 1.5-.4 1.4-.2 1.4-.5 1.4-.5 1.5-.4 1.4-.5 1.4-.4 1.5 0 1.4-.5 1.4-.3 1.5-.3 1.4-.3 1.4-.2 1.4-.2 1.5-.5 1.4-.6 1.4-.2 1.5-.2 1.4-.6 1.4-.2 1.4-.7 1.5-.4 1.4-.1M389.4 85.2l1.4-.4 1.5-.3 1.4-.5 1.4-.3 1.4-.4 1.5-.4 1.4-.4 1.4-.5 1.5-.3 1.4-.4 1.4-.4 1.4-.5 1.5-.5 1.4-.4 1.4-.2 1.5-.4 1.4-.5 1.4-.3 1.5-.2 1.4-.3 1.4-.5 1.4-.2 1.5-.4 1.4-.4 1.4-.5 1.5-.4 1.4-.4 1.4-.3 1.4-.5 1.5-.6 1.4-.3 1.4-.3 1.5-.3 1.4-.4 1.4-.3 1.4-.5 1.5-.4 1.4-.5 1.4-.4 1.5-.5 1.4-.3 1.4-.3 1.5-.8 1.4-.2 1.4-.3 1.4-.5 1.5-.4 1.4-.3 1.4-.1 1.5-.3 1.4 1.6 1.4 6.3 1.4 2.9 1.5-7.4 1.4-5.1" fill="none" stroke="#9acd7a" stroke-width="0.55" stroke-opacity="0.85" clip-path="url(#kb1)"/>
<path d="M389.4 84l1.4-.4 1.5-.4 1.4-.4 1.4-.4 1.4-.4 1.5-.3 1.4-.4 1.4-.6 1.5-.3 1.4-.3 1.4-.4 1.4-.5 1.5-.4 1.4-.4 1.4-.4 1.5-.4 1.4-.3 1.4-.4 1.5-.4 1.4-.4 1.4-.5 1.4-.4 1.5-.5 1.4-.4 1.4-.5 1.5-.3 1.4-.2 1.4-.5 1.4-.2 1.5-.4 1.4-.4 1.4-.3 1.5-.4 1.4-.6 1.4 0 1.4-.6 1.5-.7 1.4-.4 1.4-.4 1.5-.5 1.4-.6 1.4-.3 1.5-.4 1.4-.4 1.4-.5 1.4-.4 1.5-.5 1.4-.4 1.4-.4 1.5-.3 1.4-.3 1.4-.4 1.4-.3 1.5-.2 1.4-.7M389.4 86.8l1.4-.4 1.5-.4 1.4-.4 1.4-.3 1.4-.3 1.5-.3 1.4-.4 1.4-.4 1.5-.3 1.4-.3 1.4-.4 1.4-.3 1.5-.5 1.4-.3 1.4-.4 1.5-.4 1.4-.4 1.4-.3 1.5-.6 1.4-.2 1.4-.4 1.4-.5 1.5-.2 1.4-.4 1.4-.4 1.5-.6 1.4-.3 1.4-.3 1.4-.5 1.5-.4 1.4-.2 1.4-.4 1.5-.4 1.4-.4 1.4-.6 1.4-.5 1.5-.4 1.4-.4 1.4-.3 1.5-.3 1.4-.4 1.4-.3 1.5-.4 1.4-.3 1.4-.6 1.4-.7 1.5-.3 1.4-.5 1.4-.3 1.5-.6 1.4-.5 1.4-.4 1.4-.4 1.5-.4 1.4-.2M389.4 81.7l1.4-.4 1.5-.3 1.4-.5 1.4-.4 1.4-.4 1.5-.4 1.4-.3 1.4-.4 1.5-.5 1.4-.5 1.4-.5 1.4-.4 1.5-.4 1.4-.4 1.4-.4 1.5-.3 1.4-.4 1.4-.2 1.5-.4 1.4-.3 1.4-.7 1.4-.4 1.5-.4 1.4-.4 1.4-.3 1.5-.3 1.4-.2 1.4-.6 1.4-.4 1.5-.3 1.4-.4 1.4-.5 1.5-.4 1.4-.5 1.4-.3 1.4-.3 1.5-.4 1.4-.5 1.4-.3 1.5-.2 1.4-.6 1.4-.2 1.5-.6 1.4-.4 1.4-.5 1.4-.7 1.5-.5 1.4-.5 1.4-.3 1.5-.3 1.4-.5 1.4-.7 1.4-.6 1.5-.8 1.4-.5" fill="none" stroke="#4e9a50" stroke-width="0.55" stroke-opacity="0.85" clip-path="url(#kb1)"/>
<path d="M389.4 83.3l1.4-.4 1.5-.4 1.4-.4 1.4-.5 1.4-.4 1.5-.4 1.4-.5 1.4-.4 1.5-.4 1.4-.5 1.4-.3 1.4-.4 1.5-.5 1.4-.3 1.4-.4 1.5-.5 1.4-.4 1.4-.6 1.5-.5 1.4-.4 1.4-.5 1.4-.5 1.5-.5 1.4-.5 1.4-.5 1.5-.4 1.4-.6 1.4-.5 1.4-.4 1.5-.3 1.4-.5 1.4-.4 1.5-.4 1.4-.3 1.4-.4 1.4-.2 1.5 3.2 1.4 3.9 1.4-7 1.5-2.5 1.4-.9 1.4-.6 1.5-.5 1.4-.4 1.4 0 1.4-.5 1.5-.4 1.4-.8 1.4-.2 1.5-.8 1.4-.4 1.4-.6 1.4 0 1.5-.4 1.4-.4M389.4 83.7l1.4-.4 1.5-.3 1.4-.4 1.4-.4 1.4-.4 1.5-.4 1.4-.4 1.4-.4 1.5-.3 1.4-.4 1.4-.4 1.4-.4 1.5-.3 1.4-.3 1.4-.3 1.5-.5 1.4-.2 1.4-.3 1.5-.2 1.4-.5 1.4-.2 1.4-.4 1.5-.3 1.4-.2 1.4-.3 1.5-.4 1.4-.4 1.4-.4 1.4-.3 1.5-.4 1.4-.3 1.4-.4 1.5-.6 1.4-.4 1.4-.4 1.4-.2 1.5-.3 1.4-.6 1.4-.2 1.5-.2 1.4-.3 1.4-.3 1.5-.7 1.4 0 1.4-.4 1.4-.5 1.5-.1 1.4-.3 1.4-.4 1.5-.6 1.4-.2 1.4-.1 1.4-.5 1.5-.7 1.4-.3M389.4 84.2l1.4-.4 1.5-.4 1.4-.4 1.4-.4 1.4-.4 1.5-.3 1.4-.5 1.4-.3 1.5-.4 1.4-.4 1.4-.4 1.4-.3 1.5-.4 1.4-.5 1.4-.3 1.5-.4 1.4-.3 1.4-.2 1.5-.4 1.4-.5 1.4-.3 1.4-.4 1.5-.3 1.4-.3 1.4-.4 1.5-.3 1.4-.6 1.4-.2 1.4-.5 1.5-.5 1.4-.1 1.4-.2 1.5-.4 1.4-.4 1.4-.4 1.4-.5 1.5-.3 1.4-.3 1.4 0 1.5-.4 1.4-.2 1.4-.4 1.5-.4 1.4-.2 1.4-.6 1.4-.5 1.5-.3 1.4 3.1 1.4 4.3 1.5-5.4 1.4-3.1 1.4-.4 1.4-.4 1.5-.4 1.4-.5" fill="none" stroke="#7dbb6a" stroke-width="0.55" stroke-opacity="0.85" clip-path="url(#kb1)"/>
<path d="M389.4 84.3l78.6-21.3" fill="none" stroke="#d9442e" stroke-width="0.85" clip-path="url(#kb1)"/>
<text x="391.6" y="41" font-size="9" stroke="#000" stroke-width=".2">0%</text>
<path d="M393.3 67.9c1.3-2.3 2.7-2.3 3.9-.95s2.7 1.45 3.9-1.05" fill="none" stroke="#d21c1c" stroke-width="1.15" stroke-linecap="round"/>
<text x="404.4" y="70.8" font-size="14" font-family="'Liberation Serif',serif" fill="#d21c1c" font-weight="bold" font-style="italic">τ</text>
<text x="411.9" y="66.4" font-size="8.6" fill="#d21c1c" stroke="#d21c1c" stroke-width=".25">1.0</text>
<text x="417.5" y="44.8" font-size="13" font-family="'Liberation Serif',serif" fill="#111" font-weight="bold" font-style="italic">τ<tspan dx="2.4" dy="-4.7" font-size="9.9">2</tspan></text>
<text x="446.5" y="102.6" font-size="13" font-family="'Liberation Serif',serif" fill="#111" font-weight="bold" font-style="italic">τ</text>
<rect x="389.5" y="30.5" width="79" height="79" fill="none" stroke="#484848" stroke-width="1.05"/>
<path d="M505.9 109v-1.4M505.9 30v1.4M512.8 109v-1.4M512.8 30v1.4M517.7 109v-1.4M517.7 30v1.4M521.5 109v-1.4M521.5 30v1.4M524.7 109v-1.4M524.7 30v1.4M527.3 109v-1.4M527.3 30v1.4M529.6 109v-1.4M529.6 30v1.4M531.6 109v-1.4M531.6 30v1.4M533.4 109v-2.2M533.4 30v2.2M545.3 109v-1.4M545.3 30v1.4M552.2 109v-1.4M552.2 30v1.4M557.1 109v-1.4M557.1 30v1.4M560.9 109v-1.4M560.9 30v1.4M564.1 109v-1.4M564.1 30v1.4M566.7 109v-1.4M566.7 30v1.4M569 109v-1.4M569 30v1.4M571 109v-1.4M571 30v1.4M494 105.6h1.3M572.8 105.6h-1.3M494 103.6h1.3M572.8 103.6h-1.3M494 102.2h1.3M572.8 102.2h-1.3M494 101.1h1.3M572.8 101.1h-1.3M494 100.2h1.3M572.8 100.2h-1.3M494 99.5h1.3M572.8 99.5h-1.3M494 98.8h1.3M572.8 98.8h-1.3M494 98.2h1.3M572.8 98.2h-1.3M494 97.7h2.2M572.8 97.7h-2.2M494 94.3h1.3M572.8 94.3h-1.3M494 92.3h1.3M572.8 92.3h-1.3M494 90.9h1.3M572.8 90.9h-1.3M494 89.8h1.3M572.8 89.8h-1.3M494 88.9h1.3M572.8 88.9h-1.3M494 88.2h1.3M572.8 88.2h-1.3M494 87.5h1.3M572.8 87.5h-1.3M494 86.9h1.3M572.8 86.9h-1.3M494 86.4h2.2M572.8 86.4h-2.2M494 83h1.3M572.8 83h-1.3M494 81h1.3M572.8 81h-1.3M494 79.6h1.3M572.8 79.6h-1.3M494 78.5h1.3M572.8 78.5h-1.3M494 77.6h1.3M572.8 77.6h-1.3M494 76.9h1.3M572.8 76.9h-1.3M494 76.2h1.3M572.8 76.2h-1.3M494 75.7h1.3M572.8 75.7h-1.3M494 75.1h2.2M572.8 75.1h-2.2M494 71.7h1.3M572.8 71.7h-1.3M494 69.8h1.3M572.8 69.8h-1.3M494 68.3h1.3M572.8 68.3h-1.3M494 67.3h1.3M572.8 67.3h-1.3M494 66.4h1.3M572.8 66.4h-1.3M494 65.6h1.3M572.8 65.6h-1.3M494 65h1.3M572.8 65h-1.3M494 64.4h1.3M572.8 64.4h-1.3M494 63.9h2.2M572.8 63.9h-2.2M494 60.5h1.3M572.8 60.5h-1.3M494 58.5h1.3M572.8 58.5h-1.3M494 57.1h1.3M572.8 57.1h-1.3M494 56h1.3M572.8 56h-1.3M494 55.1h1.3M572.8 55.1h-1.3M494 54.3h1.3M572.8 54.3h-1.3M494 53.7h1.3M572.8 53.7h-1.3M494 53.1h1.3M572.8 53.1h-1.3M494 52.6h2.2M572.8 52.6h-2.2M494 49.2h1.3M572.8 49.2h-1.3M494 47.2h1.3M572.8 47.2h-1.3M494 45.8h1.3M572.8 45.8h-1.3M494 44.7h1.3M572.8 44.7h-1.3M494 43.8h1.3M572.8 43.8h-1.3M494 43h1.3M572.8 43h-1.3M494 42.4h1.3M572.8 42.4h-1.3M494 41.8h1.3M572.8 41.8h-1.3M494 41.3h2.2M572.8 41.3h-2.2M494 37.9h1.3M572.8 37.9h-1.3M494 35.9h1.3M572.8 35.9h-1.3M494 34.5h1.3M572.8 34.5h-1.3M494 33.4h1.3M572.8 33.4h-1.3M494 32.5h1.3M572.8 32.5h-1.3M494 31.7h1.3M572.8 31.7h-1.3M494 31.1h1.3M572.8 31.1h-1.3M494 30.5h1.3M572.8 30.5h-1.3" fill="none" stroke="#3a3a3a" stroke-width="0.6"/>
<rect x="494.5" y="30.5" width="78" height="79" fill="none" stroke="#484848" stroke-width="1.05"/>
<text x="492.4" y="45.5" font-size="7.8" fill="#383838" text-anchor="end">10<tspan dy="-3.2" font-size="6.2">4</tspan></text>
<text x="492.4" y="68.1" font-size="7.8" fill="#383838" text-anchor="end">10<tspan dy="-3.2" font-size="6.2">2</tspan></text>
<text x="492.4" y="90.6" font-size="7.8" fill="#383838" text-anchor="end">10<tspan dy="-3.2" font-size="6.2">0</tspan></text>
<text x="492.4" y="113.2" font-size="7.8" fill="#383838" text-anchor="end">10<tspan dy="-3.2" font-size="6.2">&#8722;2</tspan></text>
<text x="493.7" y="121.4" font-size="7.8" fill="#383838" text-anchor="middle">10<tspan dy="-3.2" font-size="6.2">0</tspan></text>
<text x="533.1" y="121.4" font-size="7.8" fill="#383838" text-anchor="middle">10<tspan dy="-3.2" font-size="6.2">1</tspan></text>
<text x="572.5" y="121.4" font-size="7.8" fill="#383838" text-anchor="middle">10<tspan dy="-3.2" font-size="6.2">2</tspan></text>
<text x="522.8" y="132.7" font-size="13.5" font-family="'Liberation Serif',serif" fill="#111" font-weight="bold" font-style="italic">τ</text>
<text x="532" y="132.1" font-size="8.3" fill="#555">[s]</text>
<path d="M531 43L549.9 31.6" stroke="#555" stroke-width=".75" stroke-dasharray="1.1 1.4"/>
<path d="M513 103.4L571.8 85.9" stroke="#555" stroke-width=".75" stroke-dasharray="1.1 1.4"/>
<path d="M494 79.5l2.4-1.3 2.5-1.2 2.4-1.2 2.4-1.3 2.5-1.3 2.4-1.2 2.5-1.3 2.4-1.2 2.4-1.2 2.5-1.2 2.4-1.3 2.4-1.2 2.5-1.3 2.4-1.3 2.5-1.1 2.4-1.3 2.4-1.2 2.5-1.2 2.4-1.2 2.4-1.2 2.5-1.3 2.4-1.1 2.5-1.3 2.4-1.4 2.4-1.2 2.5-1.3 2.4-1.3M494 77l2.3-1.2 2.4-1.1 2.3-1.2 2.3-1.1 2.4-1.2 2.3-1.1 2.3-1.1 2.4-1.2 2.3-1.1 2.4-1.1 2.3-1.2 2.3-1.2 2.4-1.1 2.3-1.2 2.3-1.1 2.4-1.1 2.3-1.1 2.3-1.1 2.4-1.2 2.3-1 2.3-1.1 2.4-1.1 2.3-1.2 2.4-1.1 2.3-1.2 2.3-1.1 2.4-1M494 79.2l2.4-1.2 2.4-1.2 2.5-1.3 2.4-1.2 2.4-1.3 2.4-1.1 2.4-1.3 2.5-1.2 2.4-1.2 2.4-1.3 2.4-1.2 2.4-1.2 2.4-1.3 2.5-1.2 2.4-1.2 2.4-1.3 2.4-1.2 2.4-1.2 2.5-1.2 2.4-1.2 2.4-1.2 2.4-1.2 2.4-1.2 2.5-1.1 2.4-1.3 2.4-1.3 2.4-1.3M494 79.4l2.3-1.2 2.4-1.2 2.3-1.2 2.4-1.2 2.3-1.2 2.3-1.1 2.4-1.2 2.3-1.1 2.4-1.2 2.3-1.2 2.3-1.1 2.4-1.3 2.3-1.1 2.4-1.2 2.3-1.2 2.3-1.1 2.4-1.2 2.3-1.2 2.4-1.1 2.3-1.3 2.3-1.2 2.4-1.2 2.3-1.1 2.4-1.1 2.3-1.1 2.3-1.2 2.4-1.1" fill="none" stroke="#c8dc6a" stroke-width="0.8" stroke-opacity="0.85" clip-path="url(#kb2)"/>
<path d="M494 78.6l2.4-1.3 2.5-1.2 2.4-1.3 2.4-1.3 2.5-1.3 2.4-1.3 2.4-1.3 2.5-1.2 2.4-1.2 2.4-1.3 2.5-1.2 2.4-1.3 2.4-1.2 2.5-1.4 2.4-1.3 2.4-1.3 2.5-1.2 2.4-1.3 2.4-1.3 2.5-1.2 2.4-1.3 2.4-1.3 2.5-1.3 2.4-1.4 2.4-1.3 2.5-1.3 2.4-1.2M494 80l2.3-1.1 2.2-1.1 2.3-1.2 2.3-1.2 2.3-1.1 2.2-1.2 2.3-1.2 2.3-1.1 2.2-1.1 2.3-1.2 2.3-1.1 2.2-1.2 2.3-1.1 2.3-1.2 2.3-1.2 2.2-1.2 2.3-1.1 2.3-1.1 2.2-1.2 2.3-1.2 2.3-1.1 2.2-1.1 2.3-1.2 2.3-1 2.3-1.1 2.2-1.1 2.3-1.2M494 77l2.3-1.1 2.3-1.2 2.2-1.1 2.3-1.2 2.3-1.2 2.3-1.1 2.2-1.2 2.3-1.2 2.3-1.2 2.3-1.1 2.2-1.2 2.3-1.2 2.3-1.2 2.3-1.2 2.2-1.1 2.3-1.2 2.3-1.2 2.3-1.2 2.2-1.1 2.3-1.3 2.3-1.2 2.3-1.2 2.2-1.2 2.3-1.2 2.3-1.1 2.3-1.3 2.2-1.1M494 79.6l2.5-1.2 2.4-1.3 2.5-1.2 2.5-1.3 2.4-1.2 2.5-1.3 2.4-1.2 2.5-1.3 2.5-1.2 2.4-1.3 2.5-1.2 2.5-1.3 2.4-1.2 2.5-1.3 2.4-1.3 2.5-1.3 2.5-1.2 2.4-1.3 2.5-1.3 2.5-1.2 2.4-1.3 2.5-1.2 2.5-1.3 2.4-1.3 2.5-1.3 2.4-1.4 2.5-1.1" fill="none" stroke="#8cc35a" stroke-width="0.8" stroke-opacity="0.85" clip-path="url(#kb2)"/>
<path d="M494 75.4l2.4-1.2 2.4-1.2 2.4-1.3 2.3-1.2 2.4-1.3 2.4-1.2 2.4-1.2 2.4-1.3 2.4-1.2 2.4-1.3 2.3-1.3 2.4-1.2 2.4-1.4 2.4-1.2 2.4-1.3 2.4-1.2 2.4-1.3 2.3-1.2 2.4-1.3 2.4-1.2 2.4-1.3 2.4-1.3 2.4-1.2 2.4-1.2 2.3-1.2 2.4-1.4 2.4-1.2M494 79.5l2.4-1.2 2.4-1.2 2.4-1.2 2.4-1.2 2.4-1.2 2.4-1.2 2.4-1.1 2.4-1.2 2.4-1.2 2.4-1.1 2.3-1.2 2.4-1.2 2.4-1.2 2.4-1.2 2.4-1.2 2.4-1.2 2.4-1.2 2.4-1.2 2.4-1.2 2.4-1.2 2.4-1.2 2.4-1.2 2.4-1.2 2.4-1.2 2.4-1.3 2.4-1.2 2.4-1.1M494 76.7l2.3-1.2 2.3-1.1 2.2-1.1 2.3-1.2 2.3-1.1 2.3-1.2 2.2-1.1 2.3-1.2 2.3-1.1 2.3-1.1 2.2-1.3 2.3-1.1 2.3-1.2 2.3-1.1 2.2-1.2 2.3-1.1 2.3-1.2 2.3-1.1 2.3-1.2 2.2-1.1 2.3-1.1 2.3-1.1 2.3-1.2 2.2-1 2.3-1.1 2.3-1.1 2.3-1.1M494 76.3l2.4-1.3 2.4-1.2 2.4-1.2 2.4-1.3 2.4-1.2 2.4-1.2 2.4-1.2 2.4-1.2 2.4-1.2 2.4-1.2 2.4-1.2 2.4-1.2 2.4-1.2 2.4-1.2 2.4-1.2 2.4-1.2 2.4-1.2 2.4-1.2 2.3-1.2 2.4-1.1 2.4-1.2 2.4-1.3 2.4-1.3 2.4-1.1 2.4-1.3 2.4-1.1 2.4-1.3" fill="none" stroke="#a9cf63" stroke-width="0.8" stroke-opacity="0.85" clip-path="url(#kb2)"/>
<path d="M494 79.9l2.4-1.2 2.3-1.2 2.4-1.2 2.4-1.2 2.4-1.2 2.3-1.2 2.4-1.2 2.4-1.2 2.3-1.2 2.4-1.3 2.4-1.1 2.4-1.1 2.3-1.2 2.4-1.2 2.4-1.2 2.3-1.2 2.4-1.2 2.4-1.2 2.4-1.2 2.3-1.1 2.4-1.1 2.4-1.3 2.3-1.1 2.4-1.2 2.4-1.3 2.4-1.2 2.3-1.1M494 76.9l2.3-1.1 2.3-1.2 2.3-1.2 2.3-1.2 2.3-1.2 2.4-1.2 2.3-1.2 2.3-1.2 2.3-1.2 2.3-1.2 2.3-1.2 2.3-1.2 2.3-1.2 2.3-1.2 2.3-1.2 2.3-1.1 2.4-1.2 2.3-1.2 2.3-1.2 2.3-1.3 2.3-1.2 2.3-1.1 2.3-1.1 2.3-1.1 2.3-1.1 2.3-1.2 2.3-1.3M494 76.7l2.4-1.2 2.4-1.2 2.3-1.2 2.4-1.2 2.4-1.2 2.4-1.2 2.4-1.2 2.3-1.2 2.4-1.1 2.4-1.2 2.4-1.2 2.4-1.2 2.3-1.3 2.4-1.1 2.4-1.1 2.4-1.3 2.4-1.3 2.3-1.2 2.4-1.2 2.4-1.2 2.4-1.1 2.4-1.2 2.3-1.3 2.4-1.1 2.4-1.2 2.4-1.2 2.4-1.1M494 78.6l2.3-1.1 2.2-1.2 2.3-1.1 2.3-1.2 2.2-1.1 2.3-1.2 2.3-1.1 2.2-1.3 2.3-1.2 2.3-1.2 2.2-1.1 2.3-1.2 2.3-1.1 2.2-1.1 2.3-1.2 2.3-1.1 2.2-1.2 2.3-1.2 2.3-1.1 2.2-1.2 2.3-1 2.3-1.1 2.2-1.2 2.3-1.2 2.3-1.1 2.2-1.2 2.3-1.1" fill="none" stroke="#9cc8b0" stroke-width="0.8" stroke-opacity="0.85" clip-path="url(#kb2)"/>
<path d="M494 78.5l2.3-1.2 2.2-1.2 2.3-1.1 2.3-1.2 2.2-1.2 2.3-1.2 2.3-1.2 2.2-1.1 2.3-1.1 2.3-1.2 2.2-1.2 2.3-1.2 2.3-1.2 2.2-1.3 2.3-1.1 2.3-1.2 2.2-1.1 2.3-1.2 2.3-1.2 2.2-1.2 2.3-1.2 2.2-1.1 2.3-1.1 2.3-1.2 2.2-1.1 2.3-1.2 2.3-1.1M494 75l2.3-1.2 2.4-1.2 2.3-1.2 2.4-1.2 2.3-1.2 2.4-1.2 2.3-1.2 2.4-1.2 2.3-1.3 2.4-1.2 2.3-1.2 2.4-1.2 2.3-1.2 2.4-1.2 2.3-1.2 2.4-1.3 2.3-1.2 2.4-1.3 2.3-1.2 2.4-1.2 2.3-1.2 2.4-1.2 2.3-1.2 2.4-1.2 2.3-1.2 2.4-1.4 2.3-1.1M494 76.8l2.5-1.3 2.4-1.3 2.5-1.3 2.4-1.2 2.5-1.3 2.4-1.2 2.5-1.2 2.4-1.3 2.5-1.2 2.4-1.4 2.5-1.2 2.4-1.3 2.5-1.2 2.4-1.3 2.5-1.2 2.5-1.3 2.4-1.1 2.5-1.3 2.4-1.3 2.5-1.2 2.4-1.3 2.5-1.3 2.4-1.3 2.5-1.2 2.4-1.4 2.5-1.2 2.4-1.2" fill="none" stroke="#b7d86f" stroke-width="0.8" stroke-opacity="0.85" clip-path="url(#kb2)"/>
<path d="M494 76l2.4-1.2 2.4-1.2 2.4-1.3 2.3-1.2 2.4-1.2 2.4-1.2 2.4-1.3 2.4-1.2 2.4-1.2 2.3-1.2 2.4-1.2 2.4-1.1 2.4-1.2 2.4-1.3 2.4-1.2 2.3-1.2 2.4-1.2 2.4-1.3 2.4-1.2 2.4-1.2 2.4-1.3 2.3-1 2.4-1.2 2.4-1.3 2.4-1.2 2.4-1.2 2.4-1.2M494 75.3l2.5-1.3 2.6-1.2 2.5-1.3 2.6-1.2 2.5-1.3 2.5-1.2 2.6-1.3 2.5-1.3 2.6-1.3 2.5-1.3 2.5-1.3 2.6-1.3 2.5-1.3 2.6-1.2 2.5-1.3 2.5-1.3 2.6-1.3 2.5-1.3 2.6-1.3 2.5-1.4 2.5-1.2 2.6-1.2 2.5-1.3 2.5-1.2 2.6-1.3 2.5-1.3 2.6-1.3M494 73.6l2.3-1.1 2.4-1.2 2.3-1.2 2.4-1.1 2.3-1.2 2.3-1.2 2.4-1.1 2.3-1.2 2.4-1.2 2.3-1.2 2.3-1.1 2.4-1.2 2.3-1.3 2.4-1.1 2.3-1.2 2.3-1.1 2.4-1.1 2.3-1.2 2.4-1.2 2.3-1.2 2.3-1.1 2.4-1.1 2.3-1.3 2.4-1.2 2.3-1.2 2.4-1.1 2.3-1.2" fill="none" stroke="#7bbd62" stroke-width="0.8" stroke-opacity="0.85" clip-path="url(#kb2)"/>
<path d="M494 75.7l2.9-1.5 2.9-1.5 3-1.5 2.9-1.5 2.9-1.5 2.9-1.5 2.9-1.6 2.9-1.5 3-1.5 2.9-1.5 2.9-1.5 2.9-1.5 2.9-1.5 3-1.5 2.9-1.5 2.9-1.6 2.9-1.5 2.9-1.5 3-1.5 2.9-1.6 2.9-1.5 2.9-1.5 2.9-1.6 2.9-1.7 3-2.4 2.9-2.8 2.9-2.2" fill="none" stroke="#c2d96a" stroke-width="0.7" stroke-opacity="0.9" clip-path="url(#kb2)"/>
<path d="M494 77l66.7-34 12.1-8.9" fill="none" stroke="#d9442e" stroke-width="0.85" clip-path="url(#kb2)"/>
<text x="496.6" y="41" font-size="9" fill="#dc8a4e" stroke="#dc8a4e" stroke-width=".2">60%</text>
<path d="M498.3 55.9c1.3-2.3 2.7-2.3 3.9-.95s2.7 1.45 3.9-1.05" fill="none" stroke="#d21c1c" stroke-width="1.15" stroke-linecap="round"/>
<text x="509.4" y="58.8" font-size="14" font-family="'Liberation Serif',serif" fill="#d21c1c" font-weight="bold" font-style="italic">τ</text>
<text x="516.9" y="54.4" font-size="8.6" fill="#d21c1c" stroke="#d21c1c" stroke-width=".25">1.8</text>
<rect x="494.5" y="30.5" width="78" height="79" fill="none" stroke="#484848" stroke-width="1.05"/>
<path d="M610.5 109v-1.4M610.5 30v1.4M617.4 109v-1.4M617.4 30v1.4M622.3 109v-1.4M622.3 30v1.4M626.1 109v-1.4M626.1 30v1.4M629.3 109v-1.4M629.3 30v1.4M631.9 109v-1.4M631.9 30v1.4M634.2 109v-1.4M634.2 30v1.4M636.2 109v-1.4M636.2 30v1.4M638 109v-2.2M638 30v2.2M649.9 109v-1.4M649.9 30v1.4M656.8 109v-1.4M656.8 30v1.4M661.7 109v-1.4M661.7 30v1.4M665.5 109v-1.4M665.5 30v1.4M668.7 109v-1.4M668.7 30v1.4M671.3 109v-1.4M671.3 30v1.4M673.6 109v-1.4M673.6 30v1.4M675.6 109v-1.4M675.6 30v1.4M598.6 105.6h1.3M677.4 105.6h-1.3M598.6 103.6h1.3M677.4 103.6h-1.3M598.6 102.2h1.3M677.4 102.2h-1.3M598.6 101.1h1.3M677.4 101.1h-1.3M598.6 100.2h1.3M677.4 100.2h-1.3M598.6 99.5h1.3M677.4 99.5h-1.3M598.6 98.8h1.3M677.4 98.8h-1.3M598.6 98.2h1.3M677.4 98.2h-1.3M598.6 97.7h2.2M677.4 97.7h-2.2M598.6 94.3h1.3M677.4 94.3h-1.3M598.6 92.3h1.3M677.4 92.3h-1.3M598.6 90.9h1.3M677.4 90.9h-1.3M598.6 89.8h1.3M677.4 89.8h-1.3M598.6 88.9h1.3M677.4 88.9h-1.3M598.6 88.2h1.3M677.4 88.2h-1.3M598.6 87.5h1.3M677.4 87.5h-1.3M598.6 86.9h1.3M677.4 86.9h-1.3M598.6 86.4h2.2M677.4 86.4h-2.2M598.6 83h1.3M677.4 83h-1.3M598.6 81h1.3M677.4 81h-1.3M598.6 79.6h1.3M677.4 79.6h-1.3M598.6 78.5h1.3M677.4 78.5h-1.3M598.6 77.6h1.3M677.4 77.6h-1.3M598.6 76.9h1.3M677.4 76.9h-1.3M598.6 76.2h1.3M677.4 76.2h-1.3M598.6 75.7h1.3M677.4 75.7h-1.3M598.6 75.1h2.2M677.4 75.1h-2.2M598.6 71.7h1.3M677.4 71.7h-1.3M598.6 69.8h1.3M677.4 69.8h-1.3M598.6 68.3h1.3M677.4 68.3h-1.3M598.6 67.3h1.3M677.4 67.3h-1.3M598.6 66.4h1.3M677.4 66.4h-1.3M598.6 65.6h1.3M677.4 65.6h-1.3M598.6 65h1.3M677.4 65h-1.3M598.6 64.4h1.3M677.4 64.4h-1.3M598.6 63.9h2.2M677.4 63.9h-2.2M598.6 60.5h1.3M677.4 60.5h-1.3M598.6 58.5h1.3M677.4 58.5h-1.3M598.6 57.1h1.3M677.4 57.1h-1.3M598.6 56h1.3M677.4 56h-1.3M598.6 55.1h1.3M677.4 55.1h-1.3M598.6 54.3h1.3M677.4 54.3h-1.3M598.6 53.7h1.3M677.4 53.7h-1.3M598.6 53.1h1.3M677.4 53.1h-1.3M598.6 52.6h2.2M677.4 52.6h-2.2M598.6 49.2h1.3M677.4 49.2h-1.3M598.6 47.2h1.3M677.4 47.2h-1.3M598.6 45.8h1.3M677.4 45.8h-1.3M598.6 44.7h1.3M677.4 44.7h-1.3M598.6 43.8h1.3M677.4 43.8h-1.3M598.6 43h1.3M677.4 43h-1.3M598.6 42.4h1.3M677.4 42.4h-1.3M598.6 41.8h1.3M677.4 41.8h-1.3M598.6 41.3h2.2M677.4 41.3h-2.2M598.6 37.9h1.3M677.4 37.9h-1.3M598.6 35.9h1.3M677.4 35.9h-1.3M598.6 34.5h1.3M677.4 34.5h-1.3M598.6 33.4h1.3M677.4 33.4h-1.3M598.6 32.5h1.3M677.4 32.5h-1.3M598.6 31.7h1.3M677.4 31.7h-1.3M598.6 31.1h1.3M677.4 31.1h-1.3M598.6 30.5h1.3M677.4 30.5h-1.3" fill="none" stroke="#3a3a3a" stroke-width="0.6"/>
<rect x="598.5" y="30.5" width="79" height="79" fill="none" stroke="#484848" stroke-width="1.05"/>
<text x="597" y="45.5" font-size="7.8" fill="#383838" text-anchor="end">10<tspan dy="-3.2" font-size="6.2">4</tspan></text>
<text x="597" y="68.1" font-size="7.8" fill="#383838" text-anchor="end">10<tspan dy="-3.2" font-size="6.2">2</tspan></text>
<text x="597" y="90.6" font-size="7.8" fill="#383838" text-anchor="end">10<tspan dy="-3.2" font-size="6.2">0</tspan></text>
<text x="597" y="113.2" font-size="7.8" fill="#383838" text-anchor="end">10<tspan dy="-3.2" font-size="6.2">&#8722;2</tspan></text>
<text x="598.3" y="121.4" font-size="7.8" fill="#383838" text-anchor="middle">10<tspan dy="-3.2" font-size="6.2">0</tspan></text>
<text x="637.7" y="121.4" font-size="7.8" fill="#383838" text-anchor="middle">10<tspan dy="-3.2" font-size="6.2">1</tspan></text>
<text x="677.1" y="121.4" font-size="7.8" fill="#383838" text-anchor="middle">10<tspan dy="-3.2" font-size="6.2">2</tspan></text>
<text x="627.4" y="132.7" font-size="13.5" font-family="'Liberation Serif',serif" fill="#111" font-weight="bold" font-style="italic">τ</text>
<text x="636.6" y="132.1" font-size="8.3" fill="#555">[s]</text>
<path d="M636 43L655 31.6" stroke="#555" stroke-width=".75" stroke-dasharray="1.1 1.4"/>
<path d="M617 103.4L676.8 85.9" stroke="#555" stroke-width=".75" stroke-dasharray="1.1 1.4"/>
<path d="M598.6 68.7l2.9-1.7 2.9-1.6 3-1.7 2.9-1.6 2.9-1.7 2.9-1.7 2.9-1.7 2.9-1.6 3-1.6 2.9-1.7 2.9-1.7 2.9-1.6 2.9-1.7 3-1.6 2.9-1.6 2.9-1.7 2.9-1.6 2.9-1.7 3-1.6 2.9-1.7 2.9-1.6 2.9-1.7 2.9-1.6 2.9-1.7 3-1.7 2.9-1.7 2.9-1.6M598.6 66.9l2.9-1.7 2.9-1.7 3-1.7 2.9-1.6 2.9-1.7 2.9-1.7 2.9-1.7 2.9-1.7 3-1.7 2.9-1.7 2.9-1.7 2.9-1.6 2.9-1.7 3-1.7 2.9-1.7 2.9-1.7 2.9-1.7 2.9-1.7 3-1.7 2.9-1.6 2.9-1.8 2.9-1.6 2.9-1.8 2.9-1.7 3-1.7 2.9-1.7 2.9-1.7M598.6 69.4l2.9-1.7 2.9-1.7 3-1.7 2.9-1.7 2.9-1.6 2.9-1.7 2.9-1.7 2.9-1.7 3-1.6 2.9-1.7 2.9-1.7 2.9-1.7 2.9-1.6 3-1.7 2.9-1.6 2.9-1.7 2.9-1.6 2.9-1.7 3-1.6 2.9-1.7 2.9-1.7 2.9-1.6 2.9-1.7 2.9-1.6 3-1.7 2.9-1.7 2.9-1.6" fill="none" stroke="#c6d84e" stroke-width="0.9" stroke-opacity="0.9" clip-path="url(#kb3)"/>
<path d="M598.6 69.6l2.9-1.6 2.9-1.7 3-1.7 2.9-1.6 2.9-1.7 2.9-1.7 2.9-1.6 2.9-1.7 3-1.7 2.9-1.7 2.9-1.7 2.9-1.6 2.9-1.7 3-1.7 2.9-1.7 2.9-1.7 2.9-1.6 2.9-1.7 3-1.6 2.9-1.7 2.9-1.7 2.9-1.7 2.9-1.6 2.9-1.7 3-1.7 2.9-1.7 2.9-1.6M598.6 67.5l2.9-1.7 2.9-1.7 3-1.7 2.9-1.6 2.9-1.7 2.9-1.7 2.9-1.7 2.9-1.7 3-1.6 2.9-1.6 2.9-1.7 2.9-1.7 2.9-1.6 3-1.7 2.9-1.7 2.9-1.7 2.9-1.7 2.9-1.7 3-1.6 2.9-1.7 2.9-1.8 2.9-1.6 2.9-1.6 2.9-1.7 3-1.7 2.9-1.7 2.9-1.7M598.6 67.6l2.9-1.7 2.9-1.7 3-1.6 2.9-1.7 2.9-1.7 2.9-1.7 2.9-1.7 2.9-1.7 3-1.7 2.9-1.7 2.9-1.6 2.9-1.7 2.9-1.7 3-1.7 2.9-1.7 2.9-1.7 2.9-1.7 2.9-1.7 3-1.7 2.9-1.7 2.9-1.8 2.9-1.7 2.9-1.7 2.9-1.7 3-1.6 2.9-1.7 2.9-1.7" fill="none" stroke="#b4d24c" stroke-width="0.9" stroke-opacity="0.9" clip-path="url(#kb3)"/>
<path d="M598.6 66.9l2.9-1.6 2.9-1.7 3-1.7 2.9-1.7 2.9-1.6 2.9-1.7 2.9-1.7 2.9-1.7 3-1.7 2.9-1.7 2.9-1.7 2.9-1.6 2.9-1.7 3-1.7 2.9-1.8 2.9-1.6 2.9-1.6 2.9-1.8 3-1.6 2.9-1.7 2.9-1.7 2.9-1.8 2.9-1.6 2.9-1.7 3-1.8 2.9-1.7 2.9-1.7M598.6 68.6l2.9-1.7 2.9-1.7 3-1.7 2.9-1.7 2.9-1.6 2.9-1.7 2.9-1.7 2.9-1.6 3-1.7 2.9-1.7 2.9-1.6 2.9-1.7 2.9-1.7 3-1.7 2.9-1.6 2.9-1.7 2.9-1.7 2.9-1.6 3-1.7 2.9-1.7 2.9-1.6 2.9-1.7 2.9-1.6 2.9-1.7 3-1.7 2.9-1.6 2.9-1.7M598.6 67.8l2.9-1.7 2.9-1.6 3-1.7 2.9-1.7 2.9-1.6 2.9-1.7 2.9-1.7 2.9-1.6 3-1.7 2.9-1.7 2.9-1.7 2.9-1.6 2.9-1.7 3-1.6 2.9-1.7 2.9-1.7 2.9-1.7 2.9-1.7 3-1.7 2.9-1.7 2.9-1.6 2.9-1.7 2.9-1.7 2.9-1.7 3-1.8 2.9-1.6 2.9-1.7" fill="none" stroke="#d2de5a" stroke-width="0.9" stroke-opacity="0.9" clip-path="url(#kb3)"/>
<path d="M598.6 70.4l2.9-1.6 2.9-1.7 3-1.7 2.9-1.7 2.9-1.7 2.9-1.6 2.9-1.7 2.9-1.6 3-1.7 2.9-1.7 2.9-1.6 2.9-1.7 2.9-1.7 3-1.6 2.9-1.7 2.9-1.7 2.9-1.6 2.9-1.7 3-1.6 2.9-1.7 2.9-1.6 2.9-1.7 2.9-1.7 2.9-1.7 3-1.6 2.9-1.8 2.9-1.6M598.6 68.5l2.9-1.7 2.9-1.6 3-1.7 2.9-1.6 2.9-1.7 2.9-1.7 2.9-1.7 2.9-1.6 3-1.7 2.9-1.7 2.9-1.6 2.9-1.6 2.9-1.7 3-1.7 2.9-1.6 2.9-1.6 2.9-1.7 2.9-1.7 3-1.6 2.9-1.8 2.9-1.6 2.9-1.6 2.9-1.7 2.9-1.6 3-1.7 2.9-1.7 2.9-1.7M598.6 67.4l2.9-1.6 2.9-1.7 3-1.7 2.9-1.6 2.9-1.7 2.9-1.7 2.9-1.6 2.9-1.7 3-1.7 2.9-1.6 2.9-1.6 2.9-1.7 2.9-1.6 3-1.7 2.9-1.7 2.9-1.7 2.9-1.6 2.9-1.7 3-1.7 2.9-1.6 2.9-1.7 2.9-1.7 2.9-1.7 2.9-1.7 3-1.7 2.9-1.6 2.9-1.7" fill="none" stroke="#a8cc4a" stroke-width="0.9" stroke-opacity="0.9" clip-path="url(#kb3)"/>
<path d="M598.6 67.2l2.9-1.7 2.9-1.6 3-1.7 2.9-1.7 2.9-1.6 2.9-1.7 2.9-1.7 2.9-1.6 3-1.7 2.9-1.6 2.9-1.7 2.9-1.7 2.9-1.6 3-1.7 2.9-1.7 2.9-1.7 2.9-1.7 2.9-1.6 3-1.7 2.9-1.7 2.9-1.8 2.9-1.7 2.9-1.7 2.9-1.7 3-1.6 2.9-1.6 2.9-1.6M598.6 67.1l2.9-1.7 2.9-1.6 3-1.7 2.9-1.7 2.9-1.7 2.9-1.6 2.9-1.7 2.9-1.7 3-1.7 2.9-1.7 2.9-1.7 2.9-1.6 2.9-1.7 3-1.7 2.9-1.6 2.9-1.7 2.9-1.7 2.9-1.6 3-1.7 2.9-1.7 2.9-1.6 2.9-1.7 2.9-1.8 2.9-1.7 3-1.6 2.9-1.7 2.9-1.7" fill="none" stroke="#bcd656" stroke-width="0.9" stroke-opacity="0.9" clip-path="url(#kb3)"/>
<path d="M598.6 69l78.8-45.1" fill="none" stroke="#d9442e" stroke-width="0.85" clip-path="url(#kb3)"/>
<text x="601.4" y="40.6" font-size="9" fill="#d21c1c" stroke="#d21c1c" stroke-width=".2">80%</text>
<path d="M600.3 50.9c1.3-2.3 2.7-2.3 3.9-.95s2.7 1.45 3.9-1.05" fill="none" stroke="#d21c1c" stroke-width="1.15" stroke-linecap="round"/>
<text x="611.4" y="53.8" font-size="14" font-family="'Liberation Serif',serif" fill="#d21c1c" font-weight="bold" font-style="italic">τ</text>
<text x="618.9" y="49.4" font-size="8.6" fill="#d21c1c" stroke="#d21c1c" stroke-width=".25">2.0</text>
<rect x="598.5" y="30.5" width="79" height="79" fill="none" stroke="#484848" stroke-width="1.05"/>
<path d="M63.7 242v-2M63.7 163.2v2M90.1 242v-2M90.1 163.2v2M37.4 215.7h2M116.4 215.7h-2M37.4 189.5h2M116.4 189.5h-2" fill="none" stroke="#3a3a3a" stroke-width="0.7"/>
<text transform="matrix(0.9 0 0 1 34.1 245.2)" font-size="8.8" fill="#383838" text-anchor="end">0</text>
<text transform="matrix(0.9 0 0 1 34.1 218.9)" font-size="8.8" fill="#383838" text-anchor="end">5</text>
<text transform="matrix(0.9 0 0 1 34.1 192.7)" font-size="8.8" fill="#383838" text-anchor="end">10</text>
<text transform="matrix(0.9 0 0 1 34.1 166.4)" font-size="8.8" fill="#383838" text-anchor="end">15</text>
<text transform="matrix(0.9 0 0 1 37.4 252.2)" font-size="8.8" fill="#383838" text-anchor="middle">0</text>
<text transform="matrix(0.9 0 0 1 63.7 252.2)" font-size="8.8" fill="#383838" text-anchor="middle">200</text>
<text transform="matrix(0.9 0 0 1 90.1 252.2)" font-size="8.8" fill="#383838" text-anchor="middle">400</text>
<text transform="matrix(0.9 0 0 1 116.4 252.2)" font-size="8.8" fill="#383838" text-anchor="middle">600</text>
<text x="76.9" y="262.5" font-size="8.5" fill="#383838" text-anchor="middle">Time [s]</text>
<text x="0" y="0" font-size="8.6" fill="#383838" text-anchor="middle" transform="translate(22.4,202.6) rotate(-90)">Speed [μm/s]</text>
<path d="M37.4 225.3l.7 1.5 .6-2.2 .7 1 .6-.2 .7 1 .7-.8 .6-.1 .7 .5 .6-.4 .7 1.8 .6-2.8 .7 2 .7 .8 .6-.9 .7-.1 .6-1.1 .7 1.1 .6-.9 .7 1 .7-2.5 .6 1.3 .7-1.1 .6 2.3 .7-1.3 .7 1.3 .6-1.3 .7 0 .6 1.8 .7-.4 .7 0 .6 .3 .7-.6 .6 .2 .7 .3 .6-1.2 .7-.3 .7 1.4 .6-.6 .7-.4 .6 .2 .7 .4 .6-1.2 .7-.1 .7 .2 .6 .7 .7-1.8 .6 .2 .7 1.7 .7-.2 .6-1 .7 1.5 .6-.9 .7 .3 .7 .6 .6-.4 .7 1 .6-.8 .7 1.2 .6-3.4 .7 .6 .7 .2 .6 .8 .7-.6 .6-.2 .7 .2 .6 .1 .7 1.4 .7-1 .6 .7 .7 .5 .6 0 .7-1.2 .7-.5 .6 1.9 .7-2.5 .6 .3 .7 1.4 .7 .1 .6-.3 .7-.9 .6 1.1 .7 .6 .6-1.2 .7 1.9 .7-1.7 .6-.8 .7 .7 .6-.4 .7 .2 .6-.2 .7 .5 .7 .8 .6-.5 .7-.1 .6-1.1 .7-.3 .7 1 .6 .9 .7 0 .6-.4 .7-1.3 .6 .9 .7 .3 .7 .5 .6-1.3 .7 .5 .6 .3 .7-.2 .7-1.2 .6 1.4 .7-1.4 .6 .3 .7 1 .6-.7 .7 .8 .7 .6 .6-.5 .7 .5 .6-1.1 .7 .4 0 21.6-.7 0-.6 0-.7 0-.6 0-.7 0-.7 0-.6 0-.7 0-.6 0-.7 0-.6 0-.7 0-.7 0-.6 0-.7 0-.6 0-.7 0-.7 0-.6 0-.7 0-.6 0-.7 0-.6 0-.7 0-.7 0-.6 0-.7 0-.6 0-.7 0-.7 0-.6 0-.7 0-.6 0-.7 0-.6 0-.7 0-.7 0-.6 0-.7 0-.6 0-.7 0-.6 0-.7 0-.7 0-.6 0-.7 0-.6 0-.7 0-.7 0-.6 0-.7 0-.6 0-.7 0-.7 0-.6 0-.7 0-.6 0-.7 0-.6 0-.7 0-.7 0-.6 0-.7 0-.6 0-.7 0-.6 0-.7 0-.7 0-.6 0-.7 0-.6 0-.7 0-.7 0-.6 0-.7 0-.6 0-.7 0-.7 0-.6 0-.7 0-.6 0-.7 0-.6 0-.7 0-.7 0-.6 0-.7 0-.6 0-.7 0-.6 0-.7 0-.7 0-.6 0-.7 0-.6 0-.7 0-.7 0-.6 0-.7 0-.6 0-.7 0-.7 0-.6 0-.7 0-.6 0-.7 0-.6 0-.7 0-.7 0-.6 0-.7 0-.6 0-.7 0-.6 0-.7 0-.7 0-.6 0-.7 0-.6 0-.7 0z" fill="#b4b4ff" fill-opacity="0.3" clip-path="url(#kc1)"/>
<path d="M37.4 228.5l.7 1.1 .6-1.6 .7 .8 .6-.2 .7 .7 .7-.5 .6-.2 .7 .4 .6-.3 .7 1.3 .6-2 .7 1.4 .7 .6 .6-.7 .7 0 .6-.8 .7 .8 .6-.7 .7 .7 .7-1.8 .6 1 .7-.8 .6 1.7 .7-1 .7 .9 .6-.8 .7-.1 .6 1.3 .7-.3 .7 .1 .6 .1 .7-.4 .6 .1 .7 .3 .6-.9 .7-.2 .7 1 .6-.4 .7-.3 .6 .1 .7 .3 .6-.9 .7 0 .7 .1 .6 .5 .7-1.2 .6 .1 .7 1.2 .7-.1 .6-.8 .7 1.2 .6-.7 .7 .2 .7 .4 .6-.3 .7 .8 .6-.6 .7 .8 .6-2.4 .7 .4 .7 .2 .6 .5 .7-.4 .6-.1 .7 .1 .6 .1 .7 1 .7-.7 .6 .5 .7 .4 .6-.1 .7-.8 .7-.4 .6 1.4 .7-1.8 .6 .2 .7 1 .7 .1 .6-.3 .7-.6 .6 .8 .7 .4 .6-.8 .7 1.4 .7-1.3 .6-.6 .7 .5 .6-.2 .7 .1 .6-.1 .7 .3 .7 .6 .6-.4 .7-.1 .6-.7 .7-.2 .7 .7 .6 .6 .7 0 .6-.3 .7-.9 .6 .6 .7 .2 .7 .4 .6-.9 .7 .3 .6 .2 .7-.1 .7-.9 .6 1.1 .7-1.1 .6 .3 .7 .7 .6-.5 .7 .6 .7 .4 .6-.3 .7 .3 .6-.8 .7 .3 0 18.5-.7 0-.6 0-.7 0-.6 0-.7 0-.7 0-.6 0-.7 0-.6 0-.7 0-.6 0-.7 0-.7 0-.6 0-.7 0-.6 0-.7 0-.7 0-.6 0-.7 0-.6 0-.7 0-.6 0-.7 0-.7 0-.6 0-.7 0-.6 0-.7 0-.7 0-.6 0-.7 0-.6 0-.7 0-.6 0-.7 0-.7 0-.6 0-.7 0-.6 0-.7 0-.6 0-.7 0-.7 0-.6 0-.7 0-.6 0-.7 0-.7 0-.6 0-.7 0-.6 0-.7 0-.7 0-.6 0-.7 0-.6 0-.7 0-.6 0-.7 0-.7 0-.6 0-.7 0-.6 0-.7 0-.6 0-.7 0-.7 0-.6 0-.7 0-.6 0-.7 0-.7 0-.6 0-.7 0-.6 0-.7 0-.7 0-.6 0-.7 0-.6 0-.7 0-.6 0-.7 0-.7 0-.6 0-.7 0-.6 0-.7 0-.6 0-.7 0-.7 0-.6 0-.7 0-.6 0-.7 0-.7 0-.6 0-.7 0-.6 0-.7 0-.7 0-.6 0-.7 0-.6 0-.7 0-.6 0-.7 0-.7 0-.6 0-.7 0-.6 0-.7 0-.6 0-.7 0-.7 0-.6 0-.7 0-.6 0-.7 0z" fill="#8a8aff" fill-opacity="0.3" clip-path="url(#kc1)"/>
<path d="M37.4 231l.7 .8 .6-1.1 .7 .5 .6-.1 .7 .5 .7-.4 .6-.1 .7 .3 .6-.2 .7 .9 .6-1.4 .7 1 .7 .4 .6-.5 .7 0 .6-.6 .7 .6 .6-.5 .7 .5 .7-1.2 .6 .6 .7-.5 .6 1.1 .7-.6 .7 .6 .6-.6 .7 0 .6 .9 .7-.2 .7 0 .6 .1 .7-.3 .6 .1 .7 .2 .6-.6 .7-.2 .7 .7 .6-.3 .7-.2 .6 .1 .7 .2 .6-.6 .7 0 .7 .1 .6 .3 .7-.9 .6 .1 .7 .9 .7-.1 .6-.5 .7 .7 .6-.4 .7 .1 .7 .3 .6-.2 .7 .5 .6-.4 .7 .6 .6-1.7 .7 .3 .7 .1 .6 .4 .7-.3 .6-.1 .7 .1 .6 .1 .7 .7 .7-.5 .6 .3 .7 .3 .6 0 .7-.6 .7-.3 .6 1 .7-1.3 .6 .1 .7 .8 .7 0 .6-.1 .7-.5 .6 .6 .7 .3 .6-.6 .7 .9 .7-.8 .6-.4 .7 .3 .6-.2 .7 .1 .6-.1 .7 .3 .7 .4 .6-.3 .7 0 .6-.6 .7-.1 .7 .5 .6 .4 .7 0 .6-.2 .7-.6 .6 .4 .7 .2 .7 .2 .6-.6 .7 .2 .6 .2 .7-.1 .7-.6 .6 .7 .7-.7 .6 .1 .7 .5 .6-.3 .7 .4 .7 .3 .6-.3 .7 .3 .6-.6 .7 .2 0 16.1-.7 0-.6 0-.7 0-.6 0-.7 0-.7 0-.6 0-.7 0-.6 0-.7 0-.6 0-.7 0-.7 0-.6 0-.7 0-.6 0-.7 0-.7 0-.6 0-.7 0-.6 0-.7 0-.6 0-.7 0-.7 0-.6 0-.7 0-.6 0-.7 0-.7 0-.6 0-.7 0-.6 0-.7 0-.6 0-.7 0-.7 0-.6 0-.7 0-.6 0-.7 0-.6 0-.7 0-.7 0-.6 0-.7 0-.6 0-.7 0-.7 0-.6 0-.7 0-.6 0-.7 0-.7 0-.6 0-.7 0-.6 0-.7 0-.6 0-.7 0-.7 0-.6 0-.7 0-.6 0-.7 0-.6 0-.7 0-.7 0-.6 0-.7 0-.6 0-.7 0-.7 0-.6 0-.7 0-.6 0-.7 0-.7 0-.6 0-.7 0-.6 0-.7 0-.6 0-.7 0-.7 0-.6 0-.7 0-.6 0-.7 0-.6 0-.7 0-.7 0-.6 0-.7 0-.6 0-.7 0-.7 0-.6 0-.7 0-.6 0-.7 0-.7 0-.6 0-.7 0-.6 0-.7 0-.6 0-.7 0-.7 0-.6 0-.7 0-.6 0-.7 0-.6 0-.7 0-.7 0-.6 0-.7 0-.6 0-.7 0z" fill="#5a5aff" fill-opacity="0.35" clip-path="url(#kc1)"/>
<path d="M37.4 233.1l.7 .5 .6-.7 .7 .3 .6-.1 .7 .3 .7-.2 .6-.1 .7 .2 .6-.1 .7 .5 .6-.8 .7 .6 .7 .3 .6-.3 .7-.1 .6-.3 .7 .3 .6-.3 .7 .4 .7-.8 .6 .4 .7-.4 .6 .8 .7-.5 .7 .5 .6-.4 .7-.1 .6 .6 .7-.1 .7 0 .6 .1 .7-.2 .6 .1 .7 .1 .6-.4 .7-.1 .7 .4 .6-.1 .7-.2 .6 .1 .7 .1 .6-.4 .7 0 .7 0 .6 .3 .7-.6 .6 .1 .7 .5 .7-.1 .6-.3 .7 .5 .6-.3 .7 .1 .7 .2 .6-.1 .7 .3 .6-.2 .7 .3 .6-1.1 .7 .2 .7 .1 .6 .2 .7-.1 .6-.1 .7 .1 .6 0 .7 .4 .7-.3 .6 .2 .7 .2 .6 0 .7-.4 .7-.2 .6 .7 .7-.8 .6 0 .7 .5 .7 0 .6-.1 .7-.2 .6 .3 .7 .2 .6-.4 .7 .6 .7-.5 .6-.3 .7 .2 .6-.1 .7 .1 .6-.1 .7 .2 .7 .2 .6-.1 .7-.1 .6-.3 .7-.1 .7 .3 .6 .3 .7 0 .6-.1 .7-.4 .6 .2 .7 .1 .7 .2 .6-.4 .7 .1 .6 .1 .7 0 .7-.4 .6 .5 .7-.5 .6 .1 .7 .3 .6-.2 .7 .2 .7 .2 .6-.1 .7 .1 .6-.3 .7 .1 0 14.1-.7 0-.6 0-.7 0-.6 0-.7 0-.7 0-.6 0-.7 0-.6 0-.7 0-.6 0-.7 0-.7 0-.6 0-.7 0-.6 0-.7 0-.7 0-.6 0-.7 0-.6 0-.7 0-.6 0-.7 0-.7 0-.6 0-.7 0-.6 0-.7 0-.7 0-.6 0-.7 0-.6 0-.7 0-.6 0-.7 0-.7 0-.6 0-.7 0-.6 0-.7 0-.6 0-.7 0-.7 0-.6 0-.7 0-.6 0-.7 0-.7 0-.6 0-.7 0-.6 0-.7 0-.7 0-.6 0-.7 0-.6 0-.7 0-.6 0-.7 0-.7 0-.6 0-.7 0-.6 0-.7 0-.6 0-.7 0-.7 0-.6 0-.7 0-.6 0-.7 0-.7 0-.6 0-.7 0-.6 0-.7 0-.7 0-.6 0-.7 0-.6 0-.7 0-.6 0-.7 0-.7 0-.6 0-.7 0-.6 0-.7 0-.6 0-.7 0-.7 0-.6 0-.7 0-.6 0-.7 0-.7 0-.6 0-.7 0-.6 0-.7 0-.7 0-.6 0-.7 0-.6 0-.7 0-.6 0-.7 0-.7 0-.6 0-.7 0-.6 0-.7 0-.6 0-.7 0-.7 0-.6 0-.7 0-.6 0-.7 0z" fill="#3434ff" fill-opacity="0.45" clip-path="url(#kc1)"/>
<path d="M37.4 234.5l.7 .3 .6-.5 .7 .2 .6 0 .7 .2 .7-.2 .6 0 .7 .1 .6-.1 .7 .4 .6-.6 .7 .4 .7 .2 .6-.2 .7 0 .6-.2 .7 .2 .6-.2 .7 .2 .7-.5 .6 .3 .7-.3 .6 .5 .7-.3 .7 .3 .6-.3 .7 0 .6 .4 .7-.1 .7 0 .6 .1 .7-.1 .6 0 .7 .1 .6-.3 .7 0 .7 .2 .6-.1 .7-.1 .6 .1 .7 0 .6-.2 .7 0 .7 0 .6 .2 .7-.4 .6 .1 .7 .3 .7 0 .6-.2 .7 .3 .6-.2 .7 0 .7 .1 .6 0 .7 .2 .6-.2 .7 .3 .6-.7 .7 .1 .7 0 .6 .2 .7-.1 .6-.1 .7 .1 .6 0 .7 .3 .7-.2 .6 .1 .7 .1 .6 0 .7-.2 .7-.1 .6 .4 .7-.5 .6 0 .7 .3 .7 0 .6 0 .7-.2 .6 .2 .7 .1 .6-.2 .7 .4 .7-.4 .6-.1 .7 .1 .6-.1 .7 .1 .6-.1 .7 .1 .7 .2 .6-.1 .7 0 .6-.3 .7 0 .7 .2 .6 .2 .7 0 .6-.1 .7-.3 .6 .2 .7 0 .7 .2 .6-.3 .7 .1 .6 0 .7 0 .7-.2 .6 .3 .7-.3 .6 0 .7 .2 .6-.1 .7 .2 .7 .1 .6-.1 .7 .1 .6-.2 .7 0 0 12.8-.7 0-.6 0-.7 0-.6 0-.7 0-.7 0-.6 0-.7 0-.6 0-.7 0-.6 0-.7 0-.7 0-.6 0-.7 0-.6 0-.7 0-.7 0-.6 0-.7 0-.6 0-.7 0-.6 0-.7 0-.7 0-.6 0-.7 0-.6 0-.7 0-.7 0-.6 0-.7 0-.6 0-.7 0-.6 0-.7 0-.7 0-.6 0-.7 0-.6 0-.7 0-.6 0-.7 0-.7 0-.6 0-.7 0-.6 0-.7 0-.7 0-.6 0-.7 0-.6 0-.7 0-.7 0-.6 0-.7 0-.6 0-.7 0-.6 0-.7 0-.7 0-.6 0-.7 0-.6 0-.7 0-.6 0-.7 0-.7 0-.6 0-.7 0-.6 0-.7 0-.7 0-.6 0-.7 0-.6 0-.7 0-.7 0-.6 0-.7 0-.6 0-.7 0-.6 0-.7 0-.7 0-.6 0-.7 0-.6 0-.7 0-.6 0-.7 0-.7 0-.6 0-.7 0-.6 0-.7 0-.7 0-.6 0-.7 0-.6 0-.7 0-.7 0-.6 0-.7 0-.6 0-.7 0-.6 0-.7 0-.7 0-.6 0-.7 0-.6 0-.7 0-.6 0-.7 0-.7 0-.6 0-.7 0-.6 0-.7 0z" fill="#1414ff" fill-opacity="0.55" clip-path="url(#kc1)"/>
<path d="M37.6 231.9h0m.2 4.6h0m0 .2h0m.1-5.9h0m0 6h0m.3 .8h0m.1-3.2h0m.1-2.4h0m.1-1.3h0m.3 3.2h0m.2 1.7h0m.8-4.5h0m.2 6.6h0m.7-7.5h0m.2 6.1h0m.1-.4h0m.4 2.8h0m.2-10.7h0m.3 2.1h0m.4-17.8h0m.3 21.9h0m0 3.4h0m.1-7.8h0m0 11.6h0m.1-10.1h0m.1-1.5h0m0 10.1h0m.4-1.4h0m.4-2.6h0m.5 2.4h0m.4-4.5h0m0-1.1h0m0-1.1h0m.5 4.3h0m.1-4.4h0m.4-8.9h0m.3 11.8h0m.1-5.8h0m0 12.2h0m.2-12.7h0m.3 10.7h0m.2-8.6h0m.2 9.9h0m.3-8.4h0m.4-1.5h0m.2 9.6h0m.2-2.3h0m0-3.8h0m.1 1.4h0m.2-4.4h0m.1 3.3h0m0 2.8h0m.1-10.8h0m0 11.7h0m.3-.8h0m0 1.6h0m.1-.8h0m.1-.4h0m.3-.7h0m.1 .1h0m.1 1.9h0m.5 1.6h0m.3-7.8h0m0 8.7h0m0-7.7h0m.1 3.9h0m.4-10.7h0m0 6.8h0m.3-8.5h0m.2 5.9h0m.1-4h0m.3 14.7h0m.4-4.6h0m0-1.6h0m0 0h0m.4-.1h0m.3-1.8h0m.1-4h0m.2-1.7h0m.5 1.1h0m.2 12h0m.1-5.8h0m.4-.1h0m.1 2.8h0m0-4.5h0m.2-1.7h0m.5 2.7h0m.1 4.8h0m.3-6h0m.1 1h0m.1 2.8h0m.1-1.1h0m.1-3.9h0m.1 5.3h0m.3-.2h0m.2-3.9h0m.1 3.7h0m.1 3.1h0m.1 2.2h0m.2-9.2h0m.3-3.5h0m.1 5.8h0m0-1.3h0m.2 4.3h0m.1-3.5h0m.5-3h0m0 9.5h0m.7-2.3h0m0 1.3h0m.1-7.7h0m.2 4.5h0m.4-.2h0m1.4-1h0m.7-11.8h0m.1 7.7h0m.1-.8h0m0 8.4h0m.2-4.4h0m.3-3.9h0m0 4.8h0m.4-1.8h0m.9 3.3h0m0-16.7h0m.1 12.8h0m0 .9h0m0 .2h0m.2 5h0m.2-4.4h0m0-4.8h0m.7-.4h0m.1 8.2h0m.2-13.3h0m0 12h0m.2 3.6h0m.1-7.4h0m.1-3.3h0m.2 6.6h0m.5-2.3h0m.1 2.9h0m.2 4.4h0m1-6.9h0m.3-15.3h0m.1 13.1h0m0 5.8h0m.1-7.4h0m.1-8h0m0 16.1h0m.4-9.5h0m.3-1.7h0m.1 9.4h0m.2 .7h0m0-2.9h0m.2 .1h0m.5-1.5h0m0-1.8h0m.3-5.5h0m.1 9.4h0m.2 4.2h0m.1-9h0m.3 4.3h0m.2 3.9h0m.4-5.5h0m0 3h0m.3 1.5h0m.2-13.3h0m.1 2.6h0m0 14.1h0m.3-5.1h0m0-10.9h0m.1 5.1h0m.4 7.1h0m.1 .7h0m.4-11.2h0m.4 1.3h0m.5 8.4h0m.1 .4h0m0-.5h0m.1-2.4h0m.1-2h0m.1-2.1h0m.3 1.7h0m.4 1h0m.1 4.6h0m.3 2.6h0m.1-2.6h0m.7-4.4h0m.2-.8h0m.2-5h0m.1 7.6h0m.1 5.1h0m0-9.3h0m.1 4.1h0m.2-7.7h0m.1 9.6h0m.2-3.7h0m.1 2.4h0m.2-3.6h0m0-3.7h0m.7 6.9h0m.1 2.4h0m0-10.9h0m.1 6h0m.4-12.8h0m.2 13h0m.1-5.9h0m0 10.7h0m.2-3.9h0m.1 3.7h0m.1-5.9h0m0 1.9h0m.2 3.5h0m0 .6h0m.1-.4h0m1 1.1h0m0-6.7h0m.1 0h0m.4 8.1h0m.1-4.2h0m.2-13.5h0m.1-9.3h0m0 23h0m0-8h0m.2 4h0m0-5h0m.1 8.4h0m.4-1.1h0m.1 2.3h0m.1-.6h0m0-3.8h0m.6 4.4h0m.1 1h0m.4 1.6h0m.3-3.6h0m.2 1.5h0m0-1.9h0m.6 1.3h0m0-.5h0m.1-8.6h0m.1 12.9h0m0-10.1h0m.2 7.5h0m0-2h0m.1 1.9h0m.1 4.3h0m.5-10.2h0m.4 6.4h0m.1-.9h0m.1 1.9h0m.1-1.9h0m0-3.8h0m.1-3.6h0m.1-7.1h0m.6 8.6h0m.1 2.7h0m.6-7h0m0 5h0m.1 1.2h0m.1-2.7h0m.2 7.9h0m0-6.7h0m.2 .4h0m0 3.4h0m.1 4.4h0m0-5.2h0m.2-5.4h0m.3 2h0m.3 6.8h0m.1-7.5h0m0 1.1h0m0 3.4h0m.2-1.4h0m.1-1.3h0m.1 4.9h0m0-3.8h0m.3 4.1h0m.1-10.6h0m.4 5.2h0m.2 7.6h0m.4 .9h0m.3-13.4h0m.2 10h0m0-10.5h0m.1 7.2h0m.2 6.7h0m.1-12.5h0m.2 12.4h0m0-2.2h0m.1-2.1h0m.1-7.4h0m.1 6.8h0m.2-2.4h0m.3 1.2h0m0 3.3h0m.1-12.9h0m.1 11.2h0m.2 1.4h0m.7-4.5h0m.1-2.3h0m.2 5.9h0m0 0h0m.2-3.9h0m.8 5.1h0m.2 2.9h0m.1-5.9h0m.1 .3h0m.1-11.6h0m0 10.4h0m.4-2.9h0m0 10.7h0m.1-7.7h0m0-6.9h0m.1 10.7h0m0 4h0m0-3.7h0m.1-1h0m.2 3.5h0m0-5.6h0m.2-7.5h0m0 10.9h0m.1 1.3h0m0-.8h0m.3-1h0m0-.6h0m.5 1.9h0m.6-4.4h0m0 5.8h0m0-16.5h0m.2 3.4h0m.1 7.3h0m.1-6.6h0m.2-36.8h0m0 42.8h0m.1-4.1h0m.3 3.5h0m.5 3.7h0m.4-5.9h0m.5-6.8h0m.5 12.7h0m.8 1.5h0m.1-2.2h0m.2 2.1h0m.1-4.5h0m.3-1h0m.1-3.9h0m0 4.7h0m.4 2.8h0m0-.4h0m0-4.4h0m.1-2.4h0m1 .1h0m.2 7.7h0m0-12.1h0m.6 10.1h0m.1 6h0m.6-2.4h0m.3-3.8h0m.4-.3h0m.1-.6h0m.1-1.5h0m.4 3h0m.1 3h0m.4 2.7h0m.7-8h0m0 2.9h0m.1-.4h0m.7-6.5h0m.6 3.5h0m0 5.1h0m.4-11.9h0m.2 13.8h0m.2-2h0m0-4.8h0m.3 4.4h0m.1-2.8h0m.1 4.5h0m.1-8.5h0m.1 6.4h0m.2 0h0m.2-2.8h0m.2-1.6h0m.1 3.9h0m.1-1.3h0m.2 1.6h0m.2 4.4h0m.3-7.6h0m.2 4.1h0m.2-3.8h0m.4 3.3h0m.2-6.4h0m.2 8h0m.6-1.7h0m.2 1.5h0m0-6.6h0m.3 6h0m.1-.3h0" fill="none" stroke="#5a5aff" stroke-width="0.65" stroke-linecap="square" stroke-opacity=".5" clip-path="url(#kc1)"/>
<path d="M37.4 237.3l.4-1 .4 .1 .4 .3 .4-.1 .4-.2 .4 .3 .4-.3 .4 .2 .4 .9 .4-.9 .3 .1 .4 .1 .4-.5 .4 .4 .4-.4 .4-.3 .4 .4 .4 .7 .4-.3 .4-.7 .4 .5 .4 .2 .4-.3 .4-.2 .4 .1 .4-.2 .4 .6 .4-.2 .4 0 .3-.1 .4 .9 .4-.8 .4 .5 .4-1.2 .4-.1 .4 0 .4 .4 .4 .5 .4-.6 .4 .5 .4-.4 .4 .7 .4-.2 .4-.4 .4-.5 .4 .7 .4-.9 .4-.3 .4 1.7 .4-.5 .3 .4 .4-.4 .4 .2 .4-.2 .4-.4 .4 0 .4 .3 .4 .1 .4-.1 .4 0 .4-.1 .4 .2 .4-.2 .4 .7 .4-.8 .4-.4 .4 .6 .4 .7 .4-1.2 .3 .7 .4 1.1 .4-1.1 .4-.4 .4 .1 .4-.3 .4 .2 .4 .2 .4 .9 .4-.3 .4-.6 .4-.2 .4 .7 .4-.2 .4-.4 .4 1 .4 0 .4-.7 .4-.2 .4 .3 .4 .7 .3-.9 .4 .5 .4-.8 .4 .3 .4-.1 .4-.2 .4 .5 .4-.6 .4-.1 .4 .3 .4-.4 .4 .8 .4-.6 .4 .3 .4 .5 .4-.4 .4 .2 .4 0 .4-.2 .3-.5 .4 .6 .4-.2 .4 .7 .4-.7 .4-.4 .4 .2 .4 .1 .4 .4 .4 .2 .4-.4 .4 .5 .4 0 .4-.9 .4 .8 .4-1.2 .4 1.4 .4-.8 .4 .7 .4-.6 .4 .5 .3-.4 .4 .1 .4 .1 .4-.4 .4-.4 .4 .8 .4-.6 .4 .4 .4 0 .4-.9 .4 1.8 .4-.6 .4 .4 .4-.6 .4 0 .4-1.7 .4 1.4 .4-.6 .4 .2 .3 .8 .4-.4 .4-.5 .4 .6 .4 0 .4-.1 .4 .8 .4-.3 .4-.5 .4 0 .4 .6 .4-.3 .4-.1 .4 .1 .4-.6 .4-.1 .4-.3 .4 .3 .4-.4 .4-.5 .3 1.1 .4-.5 .4 .7 .4 .4 .4-.5 .4 .6 .4 .1 .4-.1 .4-.3 .4-1.1 .4 2 .4-.8 .4 .1 .4-.5 .4 .6 .4 .8 .4-1.5 .4 1 .4-.4 .4 .5 .3-.1 .4-.2 .4-.6 .4 0 .4 .6 .4-.4 .4 .4 .4-.2 .4 0 .4-.2 .4 .5" fill="none" stroke="#e41414" stroke-width="1.6" stroke-linejoin="round" clip-path="url(#kc1)"/>
<text x="39.4" y="174.7" font-size="9" fill="#111" stroke="#111" stroke-width=".2">0%</text>
<rect x="37.5" y="163.5" width="79" height="79" fill="none" stroke="#484848" stroke-width="1.05"/>
<path d="M167.9 241.8v-2M167.9 163.2v2M194.2 241.8v-2M194.2 163.2v2M141.5 215.6h2M220.6 215.6h-2M141.5 189.4h2M220.6 189.4h-2" fill="none" stroke="#3a3a3a" stroke-width="0.7"/>
<text transform="matrix(0.9 0 0 1 138.2 245)" font-size="8.8" fill="#383838" text-anchor="end">0</text>
<text transform="matrix(0.9 0 0 1 138.2 218.8)" font-size="8.8" fill="#383838" text-anchor="end">5</text>
<text transform="matrix(0.9 0 0 1 138.2 192.6)" font-size="8.8" fill="#383838" text-anchor="end">10</text>
<text transform="matrix(0.9 0 0 1 138.2 166.4)" font-size="8.8" fill="#383838" text-anchor="end">15</text>
<text transform="matrix(0.9 0 0 1 141.5 252)" font-size="8.8" fill="#383838" text-anchor="middle">0</text>
<text transform="matrix(0.9 0 0 1 167.9 252)" font-size="8.8" fill="#383838" text-anchor="middle">200</text>
<text transform="matrix(0.9 0 0 1 194.2 252)" font-size="8.8" fill="#383838" text-anchor="middle">400</text>
<text transform="matrix(0.9 0 0 1 220.6 252)" font-size="8.8" fill="#383838" text-anchor="middle">600</text>
<text x="181.1" y="262.3" font-size="8.5" fill="#383838" text-anchor="middle">Time [s]</text>
<path d="M141.5 239.1l.7-.6 .6-.4 .7-.2 .6-1.2 .7-2.3 .7-5 .6-4.4 .7-6.1 .6-6.8 .7-8.9 .7-7.1 .6-6.2 .7-4.8 .6-1.6 .7 4.6 .6 4.6 .7-6 .7-12.9 .6 8.4 .7 7.3 .6 7.8 .7 5.4 .7 6.2 .6 5.2 .7 6.1 .6 4.1 .7 2.5 .7 3.1 .6 3.6 .7 1.5 .6 .6 .7 1 .7 .5 .6 .6 .7 .3 .6-.1 .7-.2 .6-.3 .7-.1 .7-.8 .6-.1 .7-.9 .6-1.5 .7-1.4 .7-2.3 .6-2 .7-1.8 .6-1.9 .7-3.3 .7-1.9 .6-.9 .7-.7 .6-1.1 .7-1.3 .7-.3 .6-.2 .7-.4 .6-.5 .7-.4 .6 .5 .7 1.7 .7 .6 .6 1 .7 1.3 .6 1 .7 1.3 .7 1.9 .6 1.2 .7 .8 .6 1.5 .7 1.3 .7 1.6 .6 .8 .7 .2 .6 .8 .7 .6 .7 .2 .6 .3 .7 .8 .6-.3 .7 .3 .7 .6 .6 0 .7-.4 .6-.5 .7-.3 .6 .2 .7-.4 .7-1 .6-1 .7-1.5 .6-1.3 .7-1.6 .7-.6 .6-1.9 .7-.7 .6-1.6 .7-1.3 .7-.4 .6-1.6 .7-1 .6 .8 .7 .7 .7 1.2 .6 .8 .7 .4 .6 .8 .7 1.1 .6 1.1 .7-.2 .7 1.2 .6 1 .7 1.2 .6 .5 .7 .5 .7 1 .6 0 .7 1 .6 .6 .7 1.1" fill="none" stroke="#b8b8ff" stroke-width="6.8" stroke-opacity="0.3" stroke-linejoin="round" clip-path="url(#kc2)"/>
<path d="M141.5 239.6l.7-.5 .6-.7 .7-.4 .6-.4 .7-3.1 .7-4.6 .6-4.9 .7-5.4 .6-7.5 .7-8 .7-8.1 .6-5.9 .7-4.6 .6-1 .7 4 .6 4.1 .7-5.5 .7-12.6 .6 7.4 .7 7.6 .6 7.8 .7 6 .7 5.9 .6 5.7 .7 5.2 .6 4.6 .7 2.7 .7 3.5 .6 2.6 .7 2.1 .6 .8 .7 .2 .7 1 .6 .6 .7 .1 .6-.1 .7-.7 .6 .3 .7-.6 .7-.1 .6-.7 .7-.5 .6-1.5 .7-1.6 .7-2 .6-2.1 .7-1.5 .6-2.6 .7-2.6 .7-2.9 .6-.7 .7-.6 .6-1 .7-.5 .7-.8 .6-.5 .7-.4 .6-.2 .7-.1 .6 .5 .7 1 .7 1.5 .6 .3 .7 .9 .6 1.8 .7 1.1 .7 1.8 .6 .7 .7 1.9 .6 1.3 .7 1.1 .7 .7 .6 1.5 .7 .7 .6 0 .7 .6 .7 .1 .6 1.2 .7 .4 .6-.1 .7 .1 .7 .2 .6 0 .7 .3 .6-.5 .7-.5 .6-.6 .7-.2 .7-.2 .6-1.1 .7-1.9 .6-1.3 .7-1.8 .7-.6 .6-1.8 .7-.4 .6-1.3 .7-1.1 .7-1.2 .6-1.1 .7-1.2 .6 .7 .7 .9 .7 .5 .6 1.1 .7 .8 .6 .4 .7 1.1 .6 .9 .7 .9 .7 .8 .6 .7 .7 1.1 .6 .2 .7 .6 .7 .8 .6 1 .7 1 .6 .4 .7 .5" fill="none" stroke="#8080ff" stroke-width="4.9" stroke-opacity="0.4" stroke-linejoin="round" clip-path="url(#kc2)"/>
<path d="M141.5 239.5l.7-.2 .6-.5 .7-.9 .6 .1 .7-3.4 .7-4.6 .6-4 .7-6.2 .6-7.5 .7-7.7 .7-7.5 .6-6.5 .7-4.9 .6-.8 .7 3.9 .6 4.5 .7-6 .7-12.5 .6 8 .7 7.8 .6 7.1 .7 6.1 .7 5.9 .6 5.4 .7 5.4 .6 3.8 .7 3.7 .7 2.6 .6 2.6 .7 2.6 .6 .3 .7 1.7 .7-.4 .6 1 .7 .6 .6-.9 .7-.2 .6-.3 .7-.3 .7-.2 .6-.3 .7-.5 .6-1.6 .7-1.9 .7-1.5 .6-1.8 .7-2.2 .6-2.5 .7-3.1 .7-2.2 .6 0 .7-1.1 .6-.8 .7-.9 .7-1 .6-.1 .7-.4 .6-.6 .7-.4 .6 1.2 .7 .8 .7 .6 .6 1 .7 1.2 .6 1.2 .7 1.9 .7 1 .6 1.5 .7 .9 .6 1.4 .7 1.8 .7 .8 .6 1.4 .7-.1 .6 .7 .7 .8 .7 .5 .6 .3 .7 .3 .6 .3 .7-.1 .7 .8 .6-.2 .7-.3 .6 .1 .7-.9 .6 .1 .7 0 .7-.9 .6-1.4 .7-1.6 .6-1 .7-1.9 .7-1.3 .6-1.2 .7-1.2 .6-.9 .7-1 .7-1.4 .6-1.3 .7-.9 .6 .9 .7 1.2 .7 .2 .6 1 .7 1.2 .6 .5 .7 .6 .6 1.1 .7 .6 .7 .8 .6 1.4 .7 .5 .6 .5 .7 .6 .7 .5 .6 1.5 .7 .2 .6 .5 .7 .5" fill="none" stroke="#3c3cff" stroke-width="3.4" stroke-opacity="0.6" stroke-linejoin="round" clip-path="url(#kc2)"/>
<path d="M141.5 239.3l.7 .2 .6-.6 .7-.3 .6-1 .7-2.4 .7-5.2 .6-4.5 .7-5.8 .6-7 .7-8.1 .7-8.1 .6-5.9 .7-4.7 .6-1.1 .7 3.9 .6 4.2 .7-5.8 .7-12.3 .6 7.6 .7 7.8 .6 7.4 .7 6.3 .7 5.3 .6 6.3 .7 4.9 .6 4.4 .7 2.6 .7 3.3 .6 2.8 .7 1.9 .6 1.2 .7 .5 .7 .7 .6 .5 .7 .7 .6-.6 .7-.2 .6 0 .7-.6 .7-.1 .6-1.2 .7-.3 .6-1.8 .7-1 .7-1.7 .6-2.1 .7-1.5 .6-3.1 .7-2.4 .7-2.2 .6-1.1 .7-.9 .6-1.4 .7-.6 .7 0 .6-1.1 .7 .2 .6-.8 .7 .2 .6 .8 .7 .3 .7 1.4 .6 .9 .7 1.2 .6 1.3 .7 .8 .7 2 .6 1.4 .7 .9 .6 1.8 .7 1.1 .7 .9 .6 1.1 .7 .6 .6 .5 .7 .6 .7 .4 .6 .3 .7 0 .6 .3 .7 .6 .7 .3 .6-.2 .7 .3 .6-.7 .7-.3 .6-.1 .7-.4 .7-.7 .6-.9 .7-1.5 .6-1.4 .7-1.5 .7-.9 .6-2 .7-.8 .6-1.2 .7-1.1 .7-1.1 .6-1 .7-1.8 .6 1.1 .7 .9 .7 .6 .6 1.2 .7 .5 .6 1 .7 1.1 .6 .4 .7 1.4 .7 .2 .6 1.3 .7 .4 .6 .5 .7 .9 .7 .9 .6 .6 .7 .7 .6 .9 .7 .6" fill="none" stroke="#1414ff" stroke-width="2.3" stroke-opacity="0.9" stroke-linejoin="round" clip-path="url(#kc2)"/>
<path d="M141.9 239.8h0m0-1.5h0m.1-6.4h0m.3 2.7h0m.3 6h0m.1-5.7h0m0 2.7h0m.1-10h0m.1 13.4h0m0-11.7h0m.1 8.9h0m.6 1.1h0m0-4h0m.4 5.2h0m.4-7.2h0m.2 .8h0m.1-6h0m.5 3.4h0m0-.9h0m.4 7.8h0m0-12.6h0m.2-26.2h0m0-10h0m0 49.8h0m0-37.3h0m.1 10.9h0m0-40.9h0m.1 41.5h0m.1-32.6h0m0 40.6h0m.1-1.4h0m0 13.5h0m0-48.8h0m.1-3.6h0m0 44h0m0 4.3h0m0 11.2h0m.1-43.9h0m.1-18.5h0m0 20.7h0m.1 9.4h0m.1 21.3h0m0-16h0m.2-8h0m.1-28.6h0m.1 37.8h0m.1 1h0m.1 22.5h0m0-29.5h0m0-1h0m.4-19.7h0m.1 15.2h0m0-1.2h0m.1 3.5h0m0-16.5h0m.1 48.6h0m0-35.6h0m.1 3.8h0m.1 22.8h0m0-17.5h0m0-39.5h0m.1 1h0m0 44h0m0 1.3h0m.2-19.6h0m0 10.7h0m.1-14.3h0m0-4.8h0m0 1.9h0m.1 5.3h0m.1 35.9h0m0-40.6h0m0-2.4h0m.1 5h0m0 2.3h0m.1-1.6h0m0-.7h0m0 25.4h0m.2-42.4h0m.2 16.3h0m0 4.7h0m.3-5.9h0m.2 2.9h0m0-10h0m.2-.5h0m.1 53.5h0m.1-57.2h0m0 29.4h0m0 25.2h0m0-52.5h0m0 1h0m.1-12.5h0m.3-4.3h0m0 41.1h0m.1 11.8h0m0 1.3h0m0-44.5h0m.2-2.9h0m0 40.6h0m.1-17.4h0m0 42h0m0-59.7h0m0 4.8h0m.1-11.9h0m.1 36.4h0m0 26.1h0m.1-4.5h0m.1-43.5h0m0 .7h0m0-16.4h0m.1 8.7h0m0 37.5h0m.1-18.8h0m.1 28.4h0m.1-34.9h0m0 44.7h0m0-44.7h0m0-.6h0m0-5.8h0m.3-11.3h0m.2 11.3h0m.1 6.4h0m0-10.9h0m.1 9.7h0m0 23.1h0m.1 1.3h0m0-48.4h0m.1 36.1h0m0-17.5h0m.1 2.7h0m0 27h0m.1-39.5h0m0-8.3h0m.1 14.3h0m0 38.9h0m0-39.9h0m0 40.8h0m.1-56.9h0m0 13.3h0m.1-11.2h0m0 7.1h0m.2 22.2h0m0-3.4h0m.1-7.2h0m0 8.3h0m0 38.1h0m.1-11.7h0m.2 15.3h0m0-28.7h0m.1 7.1h0m0-32h0m0-2.5h0m.1-.6h0m.1 1.3h0m0-1.7h0m0 36.3h0m.1 21.2h0m.1-55.1h0m.1 7h0m0 42h0m0-31.9h0m.1 13.5h0m0-17.4h0m0-17.9h0m.1 57.7h0m0-7.6h0m0-43h0m.1 53.5h0m0-13.2h0m0-42.7h0m.1 40.2h0m0-12.9h0m.2-36.5h0m0 15.9h0m.1 41.3h0m0-56.8h0m.1 8.3h0m0 21h0m0 25.4h0m0-34h0m0-7.4h0m.1 10.9h0m0 1.3h0m.1 5.1h0m0-21.9h0m0 4.5h0m.1 14.5h0m.1-4.4h0m0 29.7h0m.2-14.8h0m0-4.5h0m.1-9.8h0m.9 14.4h0m0-3.7h0m0 5.4h0m0-1.7h0m.3 3.3h0m.2 .9h0m.3 1.4h0m.1-1.6h0m0 2.7h0m.2-8.9h0m.8 24.3h0m.1-5.4h0m.7 2.5h0m.1 2.6h0m.1-1.9h0m.3-13.9h0m.2 8.5h0m.1 3.8h0m.2 4.1h0m.3-2.7h0m.4 7.5h0m.4-3.6h0m.1 3.5h0m.6-.3h0m.2-.6h0m0-2.6h0m.1-4.4h0m.3 9h0m0-1.7h0m.4-2.2h0m0-1.7h0m0-7.5h0m0 12.5h0m.2 .8h0m.4-7.9h0m.1-35.2h0m.1 38.7h0m.1 3.6h0m.5 .7h0m.3-1.3h0m.8 1.2h0m.1-2h0m0 3.7h0m.1-7.3h0m.2 6.5h0m0-14.9h0m.2 5.4h0m.1 7.5h0m.3 1.7h0m.1-2.2h0m0 .2h0m0-6h0m.2 4.4h0m.3 .3h0m.6 .4h0m.1-.2h0m0 .4h0m.4-5.3h0m.2 7h0m0-4.4h0m0-8.5h0m.4 4.2h0m1.6-5.3h0m0 10.1h0m0-13.5h0m.1 13.3h0m.1-1h0m0-4.3h0m.3 .2h0m.1 .7h0m.3-3.8h0m.1-5.2h0m0 6.9h0m.2-3.8h0m.1 5.3h0m.3-9.3h0m.1 5.4h0m.5-.1h0m.2-6.3h0m.2-8.3h0m.3 7.9h0m.1 0h0m.4-1.3h0m.1-8.8h0m.2 13h0m.2-11.5h0m.1 8.1h0m0-4.1h0m.2-1h0m.3-4.6h0m0 9.5h0m0-5.4h0m0 5h0m.3-21.1h0m.2 .2h0m.1 12.7h0m.1-2.2h0m.2 11.2h0m0-7.8h0m.4-7.7h0m.1 19.8h0m0-3.8h0m.3 4.9h0m.2-14.6h0m0 3.8h0m.2-1h0m.1 3.5h0m0-2.7h0m.4-15.4h0m0 24.8h0m.1-5.9h0m.3-1.4h0m.1-9.2h0m.3 3.2h0m.2 6.4h0m0-4h0m.2 9.9h0m.2-11.4h0m.2-5.6h0m.1 7.4h0m.5 2.6h0m.1 7.7h0m0-6.6h0m.1-3h0m.1-.6h0m.1-12.5h0m.3 15.3h0m.1-3.1h0m.4 4.7h0m0 .2h0m.1-5.5h0m0-10.7h0m.1 6.7h0m0-10.9h0m.2 26.6h0m0-10.9h0m.1-1.4h0m.1 17.8h0m0-21.5h0m.1-6.7h0m0 16.2h0m.1 .6h0m.2 0h0m0-1.6h0m.3 1.8h0m0-14.7h0m.1 12h0m.3-.5h0m.1 .3h0m.1-10.1h0m0-6.4h0m.2 9.7h0m0 .2h0m.1 10.6h0m0 1.1h0m0-7.1h0m.1-7.5h0m.1 14.6h0m.3-1h0m.1 1.7h0m.1-.2h0m0-12.6h0m0 14.3h0m0-4.1h0m0 .6h0m0 1.9h0m.5-.3h0m0 2.8h0m.1-3h0m1.1-8.8h0m.1-36.7h0m.8 1.4h0m.2 52h0m.4 0h0m.2 1.2h0m.1-3.1h0m.2-1.7h0m.4-23.6h0m.2 31.6h0m.2-3.9h0m0 .7h0m.5-4.6h0m.2 3.5h0m0 4.5h0m0-4.5h0m.1 5.2h0m.6-2h0m.9-2.9h0m.2-16h0m.1 20.2h0m.1-4.6h0m.9-6.1h0m.2-34h0m0 41.2h0m.4-4.9h0m.1 7.7h0m.2-1.9h0m.1 .7h0m.1-38.6h0m.1 41.5h0m.2-4.3h0m.1 1.6h0m0 .3h0m.2 4.2h0m.2-.3h0m0-16.6h0m0 13.8h0m.2-4.7h0m0 4.5h0m.5 0h0m.1-.4h0m.2 4h0m0 2.4h0m.2 1.1h0m.3-9.9h0m0 5.1h0m.1-2.7h0m.4-.9h0m.2 3.6h0m.2-1.5h0m.1 2.7h0m.1-2.8h0m.1-1.3h0m0 3h0m.2-.4h0m.2-13.9h0m0 11.3h0m.3 9h0m.3-4.5h0m.3-4.5h0m.3-6h0m.4 4.5h0m.2 2.6h0m.1 3.7h0m.4-2.3h0m0-3h0m.1 4.7h0m.3-3.8h0m.1 1.4h0m.2-11h0m.2 16.9h0m0-7.2h0m.2-8.7h0m.2 7.8h0m.2 3.5h0m.7-26.5h0m.3 21.2h0m.2-6.3h0m0 6.2h0m.1 .1h0m.1 2.5h0m.1-16.7h0m.1 15.3h0m.1-2.4h0m.1-3.7h0m0-2.5h0m.4 1.8h0m.1 4.2h0m.1-5h0m.2-6.5h0m.2 9.8h0m.2-2.1h0m.2 1.3h0m.1-3.3h0m.2 5.3h0m0-28.1h0m.1 15.9h0m.4 2.1h0m1.1 .4h0m0-3.4h0m.5 3.8h0m.4 2.5h0m.3-5h0m.1 0h0m.6 3.4h0m.2-.9h0m.1 3.7h0m.1-6.1h0m.1 1.7h0m0-1.9h0m.6 5.3h0m0-.9h0m0-2.1h0m.3-3h0m.3-.9h0m.2 4.4h0m.3-3.1h0m0 7h0m.3-5.2h0m.2-1.7h0m.1 6.9h0m.1-7.4h0m.3 6.6h0m.1-4.9h0m.1 2.8h0m.3 3.2h0m.5-2.3h0m.3 6.1h0m.1-.1h0m.1-53h0m.2 26.8h0m0-25.6h0m.1 48.9h0m.2-1.1h0m.3 .2h0m.1 0h0m.4 4h0m.3-.3h0m.1-2.8h0m0-1.8h0m.1-2.9h0m.1 11h0m.4-1.6h0m0-6h0m.6 10.5h0m.3-10.6h0m.4 4.5h0m.1-20.3h0m.4 14.1h0m.6 10.3h0m.2-3.5h0m.1-2h0m0-1.8h0m.2 7.7h0m.3 3.9h0m.3-3.1h0m0-2.7h0m.1 1.5h0m.2-1.1h0m0 1.3h0m.1 3.5h0m.3-1.5h0m.1 1.9h0m.1-2.7h0m.3 .8h0m.1-4.8h0m.5 4.9h0m.1-1.2h0" fill="none" stroke="#5a5aff" stroke-width="0.65" stroke-linecap="square" stroke-opacity=".5" clip-path="url(#kc2)"/>
<path d="M141.5 239.9l.4-.9 .4-.8 .4 .8 .4-.2 .4-.8 .4-1 .4 1.2 .4-2.8 .4-2.2 .4-2.7 .4-3.5 .3-1.7 .4-3.2 .4-5.7 .4-4.2 .4-4.5 .4-4.8 .4-5 .4-4.1 .4-4 .4-2.5 .4-3.3 .4-.8 .4 2.7 .4 3.1 .4 2.3 .4 2.9 .4-6.3 .4-5.5 .4-8 .4 4.1 .4 6.3 .4 4.3 .3 4.4 .4 5 .4 3.9 .4 2.9 .4 2.2 .4 3.8 .4 3.8 .4 3.3 .4 4.5 .4 .8 .4 2 .4 2.7 .4 1 .4 2.1 .4 2 .4 2.1 .4 .6 .4 .6 .4-.5 .4 .4 .4 .5 .4 .7 .3 .5 .4-1.1 .4 2.5 .4-2.1 .4 .4 .4 .1 .4 .2 .4-.3 .4 .5 .4-.1 .4-1.1 .4 .7 .4-1.9 .4-.5 .4 2.6 .4-2 .4-2.1 .4-1 .4-1 .4-1.3 .4-1.2 .4-1.1 .3-1.7 .4-.5 .4-2.1 .4 0 .4-2.5 .4-13.6 .4 10.6 .4-1.1 .4 .6 .4 .6 .4-1.3 .4-.7 .4-.6 .4-1 .4-.2 .4 2.1 .4-2.8 .4-8.2 .4 8.9 .4-1.5 .4 .8 .4 1.2 .3 .5 .4-8.9 .4 8.6 .4 .1 .4 1.6 .4 .7 .4-.6 .4 2.1 .4-.4 .4 1.6 .4 .8 .4 1.1 .4 .4 .4-37 .4 39.2 .4 .5 .4 1.1 .4 .2 .4 1 .4 1 .4 .7 .4 .6 .4-.9 .3 1.4 .4 .7 .4 .1 .4-.4 .4 .9 .4 .2 .4 .4 .4 0 .4 .1 .4 .1 .4 1.5 .4-.3 .4 1.1 .4-2 .4 0 .4 0 .4 .6 .4-.9 .4 .6 .4-.2 .4 .7 .4-.6 .3-.4 .4-1.1 .4-.7 .4 1.2 .4-20.4 .4 18.4 .4-.1 .4-.2 .4-1.4 .4-.4 .4-1.5 .4-.9 .4-.7 .4-.8 .4-1.2 .4 .2 .4-1.8 .4 .9 .4-1.8 .4-.9 .4 .1 .4-.2 .3-2.1 .4 .1 .4-.8 .4 .5 .4 1 .4 .5 .4-.2 .4 .9 .4 1.3 .4-.1 .4 .2 .4 .7 .4 .5 .4 .7 .4 .5 .4 1 .4 .8 .4-1.1 .4 1.6 .4 0 .4 1.5 .4-.5 .3 1 .4-1.9 .4 2.9 .4 .3 .4-.8 .4 .3 .4 2.5 .4-1.1 .4 0 .4 1.7 .4-.8 .4 1.2" fill="none" stroke="#e41414" stroke-width="1.3" stroke-linejoin="round" clip-path="url(#kc2)"/>
<text x="159.1" y="175.3" font-size="9" fill="#dc8a4e" stroke="#dc8a4e" stroke-width=".2">60%</text>
<rect x="141.5" y="163.5" width="79" height="78" fill="none" stroke="#484848" stroke-width="1.05"/>
<path d="M271.4 241.2v-2M271.4 163.2v2M297.6 241.2v-2M297.6 163.2v2M245.2 215.2h2M323.8 215.2h-2M245.2 189.2h2M323.8 189.2h-2" fill="none" stroke="#3a3a3a" stroke-width="0.7"/>
<text transform="matrix(0.9 0 0 1 241.9 244.4)" font-size="8.8" fill="#383838" text-anchor="end">0</text>
<text transform="matrix(0.9 0 0 1 241.9 218.4)" font-size="8.8" fill="#383838" text-anchor="end">5</text>
<text transform="matrix(0.9 0 0 1 241.9 192.4)" font-size="8.8" fill="#383838" text-anchor="end">10</text>
<text transform="matrix(0.9 0 0 1 241.9 166.4)" font-size="8.8" fill="#383838" text-anchor="end">15</text>
<text transform="matrix(0.9 0 0 1 245.2 251.4)" font-size="8.8" fill="#383838" text-anchor="middle">0</text>
<text transform="matrix(0.9 0 0 1 271.4 251.4)" font-size="8.8" fill="#383838" text-anchor="middle">200</text>
<text transform="matrix(0.9 0 0 1 297.6 251.4)" font-size="8.8" fill="#383838" text-anchor="middle">400</text>
<text transform="matrix(0.9 0 0 1 323.8 251.4)" font-size="8.8" fill="#383838" text-anchor="middle">600</text>
<text x="284.5" y="261.7" font-size="8.5" fill="#383838" text-anchor="middle">Time [s]</text>
<path d="M245.2 211.8l.7-3.4 .6-3.3 .7 2.2 .6 2 .7 6.3 .6 5.7 .7 2.8 .6 3.2 .7 2.6 .7 1 .6 .2 .7 .4 .6-.3 .7-.4 .6-.4 .7-.9 .6-.1 .7-1.1 .6-1.1 .7-1.4 .7-1 .6-1.6 .7-.9 .6-2 .7-1.4 .6-1.1 .7 .9 .6 1.5 .7 .4 .6 .9 .7 1.3 .7 .6 .6 .4 .7 1.3 .6 .4 .7 .8 .6 .8 .7 .7 .6 .6 .7 .3 .7 1 .6 1.3 .7 .4 .6 1.2 .7-.2 .6-.6 .7 0 .6 .1 .7-.9 .7 .7 .6-.8 .7 .4 .6-.5 .7-.1 .6-.1 .7 .2 .6-.7 .7-.2 .6 0 .7-.5 .7-.5 .6 .3 .7-.5 .6 .2 .7-.2 .6 .2 .7-.3 .6 .7 .7 .4 .6 .2 .7 1.1 .7-.1 .6 .8 .7 .4 .6-.1 .7 .5 .6 .1 .7 1 .6-.1 .7 .4 .7 .2 .6 .6 .7-.5 .6 .2 .7 .2 .6-.1 .7-.3 .6-.8 .7 .2 .7-.1 .6-.4 .7-.1 .6-.3 .7-.3 .6-.1 .7-.3 .6 .3 .7-.1 .6 .3 .7 .2 .7 .3 .6 .4 .7 .2 .6-.2 .7 .6 .6 .3 .7-.3 .6 .1 .7 .5 .6 .1 .7 .6 .7 .2 .6 0 .7 .4 .6 .5 .7 .4 .6 .5 .7-.2 .6 .1 .7 .1" fill="none" stroke="#b8b8ff" stroke-width="6.8" stroke-opacity="0.3" stroke-linejoin="round" clip-path="url(#kc3)"/>
<path d="M245.2 211.4l.7-2.9 .6-3.4 .7 2.5 .6 2.3 .7 5.7 .6 5.5 .7 3.3 .6 3.1 .7 2.7 .7 1.1 .6 0 .7 .3 .6 .1 .7-.3 .6-.9 .7-.3 .6-.8 .7-1.1 .6-.7 .7-1.4 .7-1.3 .6-1.1 .7-1.5 .6-1.3 .7-2.1 .6-1.3 .7 1.8 .6 .4 .7 1 .6 1.2 .7 .9 .7 1 .6 .8 .7 .5 .6 .6 .7 .8 .6 .4 .7 .8 .6 1.1 .7 .1 .7 .9 .6 1.4 .7 .2 .6 1.2 .7-.2 .6-.7 .7 .7 .6-.3 .7-.8 .7 .2 .6 0 .7-.8 .6 .2 .7 .3 .6-.3 .7-.6 .6-.5 .7 .8 .6-.8 .7-.1 .7 .1 .6-.6 .7 .2 .6-.4 .7-.4 .6 .5 .7 .2 .6 .2 .7 .5 .6 .3 .7 .9 .7 .3 .6 .1 .7 .7 .6 .3 .7-.1 .6 .2 .7 .9 .6 .4 .7-.2 .7 .3 .6 .5 .7-.1 .6 0 .7 0 .6-.9 .7 .2 .6-.1 .7-.2 .7-.7 .6 .3 .7 .3 .6-.5 .7-.1 .6 0 .7-.5 .6-.1 .7 .2 .6 .4 .7-.1 .7 .9 .6-.4 .7 .5 .6 .1 .7 .9 .6-.9 .7 1 .6 0 .7-.3 .6 .6 .7 .3 .7 .8 .6-.1 .7 .1 .6 .3 .7 .5 .6 .1 .7 .1 .6 .5 .7 .3" fill="none" stroke="#8080ff" stroke-width="4.9" stroke-opacity="0.4" stroke-linejoin="round" clip-path="url(#kc3)"/>
<path d="M245.2 211.7l.7-2.6 .6-3.8 .7 2.3 .6 2.5 .7 6.2 .6 5.3 .7 3.2 .6 3.1 .7 2.9 .7 .9 .6 .1 .7 .4 .6-.6 .7-.2 .6-.1 .7-.7 .6-.7 .7-.9 .6-1.7 .7-.8 .7-1.2 .6-1 .7-1.7 .6-1.9 .7-.9 .6-1.5 .7 1 .6 1.2 .7 .8 .6 1.2 .7 .5 .7 1.3 .6 .8 .7 .1 .6 1.2 .7 1 .6-.1 .7 1.1 .6 1.4 .7-.2 .7 .7 .6 1 .7 .5 .6 1.4 .7-.5 .6 .1 .7-.6 .6-.5 .7 .1 .7 0 .6 .4 .7-.6 .6 .1 .7-.6 .6 .2 .7-.5 .6 .1 .7-.9 .6 .5 .7-.5 .7-.9 .6 .4 .7 .1 .6-.5 .7 .1 .6 .2 .7 1 .6-.3 .7 .9 .6-.6 .7 .9 .7 .6 .6 .1 .7 .4 .6 .8 .7-.4 .6 .8 .7 .7 .6-.5 .7 .2 .7 .3 .6 .4 .7 .6 .6-.4 .7-.5 .6 .1 .7-.4 .6 .5 .7-.7 .7-.1 .6 .4 .7-.2 .6-.4 .7-.4 .6-.3 .7 0 .6-.3 .7 .2 .6 .2 .7 .2 .7 .3 .6 .4 .7 .1 .6 .4 .7-.1 .6 .5 .7-.4 .6 .6 .7 .1 .6 .5 .7 .2 .7 .2 .6 .4 .7 .5 .6 .4 .7 0 .6 .2 .7 .1 .6 0 .7 .7" fill="none" stroke="#3c3cff" stroke-width="3.4" stroke-opacity="0.6" stroke-linejoin="round" clip-path="url(#kc3)"/>
<path d="M245.2 212.7l.7-3.8 .6-2.8 .7 1.8 .6 2.3 .7 5.8 .6 5.9 .7 3.2 .6 2.8 .7 3.4 .7 .1 .6 .5 .7-.2 .6 .4 .7-1 .6 0 .7-.9 .6-.1 .7-1.5 .6-.8 .7-1 .7-1.3 .6-1.6 .7-1.5 .6-1.8 .7-1.4 .6-.2 .7 .5 .6 1.4 .7 .5 .6 .6 .7 1.4 .7 .8 .6 .6 .7 .8 .6 .2 .7 1 .6 .6 .7 .3 .6 1.3 .7 .6 .7 1.2 .6 .5 .7 .7 .6 .8 .7 .1 .6-.2 .7-.3 .6 0 .7-.5 .7-.5 .6 .9 .7-.2 .6-1.1 .7 .7 .6-.7 .7 .2 .6-.7 .7-.2 .6-.1 .7-.4 .7 0 .6-.4 .7-.5 .6 0 .7 .7 .6 .3 .7 0 .6 .3 .7 .2 .6 .7 .7 .1 .7 .6 .6 .3 .7 .4 .6 .2 .7 .8 .6-.4 .7 .7 .6 .3 .7 .1 .7 .1 .6 .4 .7 .3 .6 .1 .7 .2 .6-.6 .7-.1 .6-.2 .7-.8 .7 .9 .6-.7 .7-.5 .6-.1 .7-.3 .6 .4 .7-.2 .6-.6 .7 .4 .6-.3 .7 .7 .7 .2 .6 .2 .7 .5 .6 .1 .7 .3 .6 0 .7 .3 .6 0 .7 .6 .6 .3 .7-.2 .7 .4 .6 .6 .7 .2 .6 .5 .7-.5 .6 1.1 .7-.6 .6 .9 .7-.1" fill="none" stroke="#1414ff" stroke-width="2.3" stroke-opacity="0.9" stroke-linejoin="round" clip-path="url(#kc3)"/>
<path d="M245.2 209h0m.3 1.4h0m0 8.1h0m.1-18h0m.2 3.4h0m.1 23.1h0m0-12.4h0m.1 12.1h0m.1 2.8h0m0-30.8h0m0 3.2h0m.1 8.5h0m0 2.2h0m.2-4.7h0m.1 22.3h0m0-34.8h0m0 28.2h0m.2 6.6h0m0-3h0m0-12.3h0m.2 15.1h0m.1-5.8h0m.1-6.9h0m.1-19.4h0m0 25.7h0m.1-1.8h0m0-14h0m.2-11.5h0m0 8.9h0m0 6.6h0m.2 14.4h0m.1-5.6h0m0-21h0m.1 12.8h0m0 1.8h0m.1 14.8h0m.1-14.9h0m0-4.5h0m0 1.7h0m0 13.6h0m0-16.9h0m0 5.9h0m0 16.4h0m.1-25.6h0m0 10.8h0m0-18.8h0m.1 33.7h0m.1-6.3h0m.1-27.6h0m0 14.9h0m.2 2.5h0m0 4.6h0m.1 .9h0m.1-3.7h0m0 6.4h0m0-5.1h0m.3 2.8h0m.1 2.4h0m0-12.7h0m.1 2h0m.1-11.9h0m.2 23.5h0m0-15h0m.2 25.6h0m.1-18.3h0m0-9.3h0m.2 17.4h0m.1-1.2h0m0-9h0m.2 7.2h0m0 15.9h0m.1-6.5h0m0-14.9h0m0-8.3h0m0-11.5h0m.1 33.4h0m0-18.1h0m0 8.9h0m.1 5.4h0m.2 7h0m0-19.1h0m0 7h0m.2 5.6h0m0 8.9h0m.1-16.2h0m.1-16.2h0m0 29.1h0m0-19.1h0m.1 12.3h0m0-.8h0m0 .8h0m0 12.9h0m.2-38.7h0m0 19.5h0m.2 12.7h0m.2-5.6h0m0-8.7h0m.8 18.9h0m.4-4h0m.3-5.4h0m0 .7h0m0 7.8h0m.2-8.4h0m0-7h0m.2 12.9h0m.2-1.8h0m0-6.4h0m.1 7.2h0m.3 2.6h0m.1-3.6h0m0-36.3h0m.7 34.9h0m.3-3.3h0m.1 11.5h0m.3-8.6h0m.4-17.8h0m0 19.9h0m.5-1.2h0m0-.1h0m.9-4.4h0m.1 3.1h0m.1-1.9h0m.1 1h0m.5 9.9h0m.4-13.3h0m.2 3h0m.3-8h0m.1 7.3h0m.6-3.8h0m.3-5.2h0m0 2.9h0m.1 2.4h0m.1-2.6h0m.1 19.1h0m0-16.7h0m.3-3.7h0m.1 4.8h0m0 8.2h0m.1 1.9h0m0-13.6h0m.4 .6h0m1.1 1h0m.1-5.1h0m.7-1.3h0m.3 8.3h0m.2-31.3h0m.2 28.8h0m0-7.2h0m.1-7.8h0m.2 17.7h0m.1 1.4h0m.7-8.3h0m0 2.8h0m.1 .9h0m.3-.4h0m0 4.8h0m.6-40.5h0m.2 41.1h0m.3-3.3h0m.1 4.2h0m.5-7.3h0m.3 9.3h0m.4-13.5h0m.3 9.8h0m0 .9h0m.2 4.1h0m0-.6h0m.2-.4h0m.4-1.4h0m.3 11.9h0m.6-9h0m.1-11.4h0m.4 15.6h0m.1-9.8h0m0-31.5h0m.2 37.1h0m.2-5.3h0m.2 1.6h0m.3-.4h0m.3 7.4h0m.3-2.4h0m.3 1.7h0m0-18.9h0m.2 7h0m0 10h0m.1-14.2h0m.4 8.7h0m.4 5.7h0m.1 .2h0m.2-7h0m.2 9.8h0m.3 1.4h0m.1-3.9h0m0 .3h0m.3 3.1h0m.2-12.2h0m.1 12.9h0m.2-2.2h0m.6 .8h0m.1-1.3h0m.6-.1h0m.2-12.9h0m.6 13.5h0m.1 3.3h0m.2-3.1h0m.2-1.6h0m.1-12.5h0m.7 11.9h0m.1 1.7h0m.1-9.1h0m.6 5.9h0m.1 2.3h0m.3-5.9h0m0 .9h0m0 5.3h0m.2 1.3h0m.4-3.1h0m.6 7.3h0m.2-10.4h0m.2 7.7h0m.1-5.4h0m.2 0h0m.3-5.7h0m.2 2.6h0m.3 4.4h0m.1-17.2h0m.1 14.8h0m.4 9.8h0m.1-1.1h0m0-4.7h0m.4-13.1h0m.1 7.1h0m1-.1h0m0 7.1h0m.3-4h0m.1-4.7h0m.1 9.2h0m.2-3.1h0m.1-18.4h0m.2 17.9h0m.4 .6h0m.2-9.1h0m.2-5.5h0m.3 15.3h0m.7-2.1h0m1.1-12.1h0m.1 11.4h0m.1 .1h0m.3 2.3h0m.1-2.6h0m.1 2.4h0m.2-2.3h0m.1 4.7h0m.2-7.8h0m.4 7.6h0m.2-40.2h0m0 45.1h0m0-7.6h0m0-9.9h0m.1 13.4h0m.1-10.8h0m.3 2.2h0m0 1.7h0m.4-2h0m.2 6h0m.3-1.2h0m.4-7.4h0m.2 9.3h0m.1-1h0m.4 1.7h0m.3-3.8h0m.4 2.4h0m.2-18.7h0m.3 19.6h0m0-14.8h0m.1 16.1h0m.2-3.8h0m.3 7.8h0m.3-2.5h0m0-7.2h0m.2 2.7h0m.2 2.7h0m.1 4.2h0m0-6.1h0m.3 5.6h0m.5-.3h0m.1-.9h0m.2-8.1h0m.1 5.6h0m.4-1.1h0m.2 4.2h0m.1-4h0m0-2.2h0m.2 5.7h0m.1-13h0m.1 12.7h0m.4-18.3h0m.1 20h0m.1-8.3h0m.2 6.7h0m.3-2.4h0m.6 4.5h0m.4-3.3h0m.1 2h0m.1-4.4h0m.1 2.9h0m.4 6.9h0m.2-2.3h0m.2-21h0m.4 8.7h0m.1 8.8h0m.2-8.6h0m0 8.2h0m.3-.3h0m.4-22.6h0m.3 25.4h0m0-5.1h0m0 3h0m0-3.1h0m.3-5.5h0m.2 5.6h0m.4 1.1h0m.1 2.1h0m0 .3h0m.5-4.5h0m.9-1.4h0m.3 3.4h0m.2-6.4h0m.3 4.1h0m0-1.4h0m.2 1h0m0 3.1h0m0 2.9h0m0-32.6h0m.2 28.8h0m.2 .9h0m.1 1.7h0m.1-16.5h0m.2 9.6h0m.4 6.5h0m.1-8.4h0m.2 5.9h0m.4 .6h0m.2-8h0m.2 7.7h0m.4-.4h0m.1-.7h0m.1 3.1h0m.9-3.9h0m.4-4.9h0m.7 4.6h0m.4 7.8h0m.1-18.2h0m.7 14.7h0m0 2.3h0m0-2h0m0 .7h0m.3-5.6h0m.2-1.9h0m.1 7h0m0-1.6h0m.2 4.6h0m.1-10.2h0m.1 7.1h0m.5-11.5h0m.4 14h0m0-18.1h0m.2 9.9h0m0-14.8h0m0 10.9h0m.2 11.7h0m.1-7.3h0m.2 4.9h0m.2-8.9h0m.1 8.9h0m.3-3.7h0m.3-14.2h0m.2 20.2h0m0-4h0m.4 6.6h0m.3-12.4h0m0 5.8h0m.5 2.3h0m0-5.1h0m.4 .4h0m.1 5.5h0m.1-6.4h0m.2-10.8h0m0 16.6h0m.2-3h0m.2 6.2h0m.1-19.2h0m.1 9.4h0m.5 5.2h0m0-3h0m.6 6.9h0m.2 0h0m.1-.1h0m.1 .7h0m.3-22.5h0m.1 18.8h0m.3 4.4h0m.5-22.1h0m0 12.2h0m.3-4.4h0m0 12.3h0m.1-4.5h0m.3 2.6h0m.2-.2h0m0-16.3h0m.2 18.7h0m.2-13.8h0m.1 12.5h0m.3 1.9h0m.2-.4h0" fill="none" stroke="#5a5aff" stroke-width="0.65" stroke-linecap="square" stroke-opacity=".5" clip-path="url(#kc3)"/>
<path d="M245.2 211.8l.4-2.3 .4-.4 .4-2.9 .4 1.1 .4 1.8 .4 .8 .4 2.9 .3 1.8 .4 3 .4 4.4 .4 1.8 .4 1.9 .4 1.8 .4 1.4 .4 1.7 .4 1.1 .4 .4 .4 0 .4-.8 .4 1.2 .4-1.7 .3 1.1 .4-1.5 .4 1.7 .4-.6 .4-1.2 .4-.3 .4 .2 .4-2.4 .4 .9 .4-.8 .4 0 .4-2.4 .4-.1 .4-.3 .3 .8 .4-2.4 .4-.3 .4-1.6 .4-1.3 .4 .3 .4-1.6 .4-1.5 .4 1.1 .4-6.4 .4 8.6 .4 .2 .4 1.1 .4-1.2 .3 1.2 .4 1.6 .4-.5 .4 1.6 .4 2.1 .4-3 .4 .5 .4 2.4 .4-.2 .4-.3 .4 .9 .4 .7 .4 .2 .4 .1 .4 .7 .3-.2 .4 .8 .4 .9 .4-.1 .4 1.8 .4-1.9 .4 3.1 .4-.8 .4 .2 .4 0 .4 0 .4-1 .4 1.6 .4-1 .3-.3 .4 .4 .4 0 .4-1.5 .4 1.5 .4-.3 .4-.2 .4-.1 .4-.4 .4 .2 .4-.5 .4 .1 .4-.4 .4-.8 .3 1.6 .4-2.1 .4 1.5 .4-1 .4 .3 .4 .2 .4 1.2 .4-2.9 .4 1.7 .4-.1 .4-1.6 .4 .6 .4-1.5 .4 0 .4 .8 .3 .5 .4-.3 .4 1.8 .4-1 .4 .1 .4 .6 .4-.4 .4 1.6 .4-1.6 .4 0 .4 2.3 .4-.9 .4-.8 .4 1.1 .3 1.4 .4 .1 .4-1.2 .4-.6 .4 2.5 .4-.7 .4 .9 .4-.2 .4-.3 .4 .5 .4 .7 .4-2.1 .4 1.9 .4 .2 .3-.9 .4 1 .4 .3 .4-.8 .4 1.5 .4-1.5 .4-.3 .4 .2 .4 .5 .4-.2 .4 1.2 .4-1.4 .4-.4 .4-.6 .4 .5 .3 .3 .4 .2 .4-.7 .4-.3 .4-.9 .4 .8 .4 .3 .4-.5 .4 .2 .4-.3 .4 1.4 .4-.6 .4-.1 .4-1.2 .3 .6 .4 0 .4-.6 .4 1.8 .4-1.5 .4 .7 .4 1.1 .4-1.6 .4 2.4 .4-.2 .4-.6 .4-.3 .4 .5 .4 1.6 .3-1.3 .4-.1 .4-1.9 .4 1 .4 1.1 .4 1.2 .4-.9 .4 1.3 .4-.8 .4 0 .4 .8 .4-.3 .4 .7 .4 .3 .3-1.4 .4 .8 .4 .9 .4 .5 .4-.6 .4-.2 .4-.1 .4-.3" fill="none" stroke="#e41414" stroke-width="1.4" stroke-linejoin="round" clip-path="url(#kc3)"/>
<text x="249" y="175" font-size="9" fill="#d21c1c" stroke="#d21c1c" stroke-width=".2">80%</text>
<rect x="245.5" y="163.5" width="78" height="78" fill="none" stroke="#484848" stroke-width="1.05"/>
<path d="M416.5 248.2v-2M416.5 169.6v2M442.9 248.2v-2M442.9 169.6v2M390.2 222h2M469.2 222h-2M390.2 195.8h2M469.2 195.8h-2" fill="none" stroke="#3a3a3a" stroke-width="0.7"/>
<text transform="matrix(0.9 0 0 1 386.9 251.4)" font-size="8.8" fill="#383838" text-anchor="end">0</text>
<text transform="matrix(0.9 0 0 1 386.9 225.2)" font-size="8.8" fill="#383838" text-anchor="end">5</text>
<text transform="matrix(0.9 0 0 1 386.9 199)" font-size="8.8" fill="#383838" text-anchor="end">10</text>
<text transform="matrix(0.9 0 0 1 386.9 172.8)" font-size="8.8" fill="#383838" text-anchor="end">15</text>
<text transform="matrix(0.9 0 0 1 390.7 259.1)" font-size="8.8" fill="#383838" text-anchor="middle">0</text>
<text transform="matrix(0.9 0 0 1 417 259.1)" font-size="8.8" fill="#383838" text-anchor="middle">200</text>
<text transform="matrix(0.9 0 0 1 443.4 259.1)" font-size="8.8" fill="#383838" text-anchor="middle">400</text>
<text transform="matrix(0.9 0 0 1 469.7 259.1)" font-size="8.8" fill="#383838" text-anchor="middle">600</text>
<text x="430.3" y="267.9" font-size="8.9" fill="#383838" text-anchor="middle">Time [s]</text>
<text x="0" y="0" font-size="8.6" fill="#383838" text-anchor="middle" transform="translate(376,208.9) rotate(-90)">Speed [μm/s]</text>
<path d="M390.2 230.3l.7 1.2 .6-2.4 .7 .6 .6 .3 .7-.4 .7 2.2 .6-.9 .7 .1 .6-1.3 .7 1.8 .6-.6 .7-1.4 .7 .6 .6 .8 .7-1.7 .6 2.5 .7-1.4 .6 .5 .7-.6 .7 .6 .6 .5 .7-.8 .6 1.2 .7-1.5 .7 .7 .6-1 .7 1.1 .6 .2 .7-.9 .7-.6 .6 2.5 .7-1.7 .6-.3 .7 1.5 .6-.4 .7-1.2 .7 1.2 .6-.2 .7-1.8 .6 2.1 .7-.1 .6 1.1 .7-.9 .7 .1 .6-2.3 .7 .4 .6 1.9 .7-2.5 .7 .9 .6 .8 .7-.8 .6 .3 .7 .9 .7 .8 .6-.7 .7-.7 .6 .3 .7 .3 .6-1.3 .7 1.6 .7-1.6 .6 1.1 .7-.4 .6 .9 .7-.9 .6 .6 .7 .8 .7-1.3 .6 0 .7-.7 .6 .4 .7 1 .7-.3 .6 1.5 .7-1.1 .6-1.9 .7-.1 .7 .5 .6 .4 .7-.2 .6 .1 .7 1.7 .6-.7 .7-1.6 .7 0 .6 .8 .7 .4 .6 0 .7 .2 .6 .3 .7 .7 .7-1.6 .6 .5 .7-.2 .6-1.5 .7 .9 .7 1 .6-1 .7 1.6 .6-2 .7 .6 .7 .4 .6-.6 .7-.7 .6 1.5 .7 .4 .6-2.4 .7 1.6 .7-1.1 .6 1.7 .7-.9 .6 .8 .7-1 .6 .8 .7 .3 .7-1.8 .6 1 .7 1.8 .6-1.4 .7 .6 0 22-.7 0-.6 0-.7 0-.6 0-.7 0-.7 0-.6 0-.7 0-.6 0-.7 0-.6 0-.7 0-.7 0-.6 0-.7 0-.6 0-.7 0-.6 0-.7 0-.7 0-.6 0-.7 0-.6 0-.7 0-.7 0-.6 0-.7 0-.6 0-.7 0-.7 0-.6 0-.7 0-.6 0-.7 0-.6 0-.7 0-.7 0-.6 0-.7 0-.6 0-.7 0-.6 0-.7 0-.7 0-.6 0-.7 0-.6 0-.7 0-.7 0-.6 0-.7 0-.6 0-.7 0-.7 0-.6 0-.7 0-.6 0-.7 0-.6 0-.7 0-.7 0-.6 0-.7 0-.6 0-.7 0-.6 0-.7 0-.7 0-.6 0-.7 0-.6 0-.7 0-.7 0-.6 0-.7 0-.6 0-.7 0-.7 0-.6 0-.7 0-.6 0-.7 0-.6 0-.7 0-.7 0-.6 0-.7 0-.6 0-.7 0-.6 0-.7 0-.7 0-.6 0-.7 0-.6 0-.7 0-.7 0-.6 0-.7 0-.6 0-.7 0-.7 0-.6 0-.7 0-.6 0-.7 0-.6 0-.7 0-.7 0-.6 0-.7 0-.6 0-.7 0-.6 0-.7 0-.7 0-.6 0-.7 0-.6 0-.7 0z" fill="#b4b4ff" fill-opacity="0.3" clip-path="url(#kd1)"/>
<path d="M390.2 233.9l.7 .9 .6-1.8 .7 .5 .6 .2 .7-.3 .7 1.6 .6-.6 .7 0 .6-.9 .7 1.3 .6-.5 .7-1 .7 .5 .6 .6 .7-1.3 .6 1.8 .7-1 .6 .4 .7-.4 .7 .4 .6 .3 .7-.6 .6 .9 .7-1 .7 .4 .6-.7 .7 .8 .6 .1 .7-.6 .7-.4 .6 1.8 .7-1.2 .6-.3 .7 1.2 .6-.3 .7-.9 .7 .8 .6-.1 .7-1.3 .6 1.5 .7-.1 .6 .9 .7-.7 .7 0 .6-1.6 .7 .3 .6 1.4 .7-1.8 .7 .6 .6 .6 .7-.6 .6 .2 .7 .7 .7 .5 .6-.4 .7-.5 .6 .2 .7 .2 .6-1 .7 1.2 .7-1.1 .6 .7 .7-.3 .6 .7 .7-.6 .6 .4 .7 .5 .7-.9 .6 0 .7-.5 .6 .3 .7 .7 .7-.2 .6 1 .7-.7 .6-1.4 .7-.1 .7 .4 .6 .3 .7-.2 .6 .1 .7 1.2 .6-.4 .7-1.2 .7 0 .6 .5 .7 .3 .6 .1 .7 .1 .6 .2 .7 .5 .7-1.1 .6 .3 .7-.1 .6-1.1 .7 .6 .7 .8 .6-.8 .7 1.2 .6-1.4 .7 .4 .7 .3 .6-.5 .7-.4 .6 1 .7 .3 .6-1.7 .7 1.2 .7-.9 .6 1.2 .7-.5 .6 .5 .7-.7 .6 .5 .7 .2 .7-1.2 .6 .7 .7 1.3 .6-1 .7 .4 0 18.7-.7 0-.6 0-.7 0-.6 0-.7 0-.7 0-.6 0-.7 0-.6 0-.7 0-.6 0-.7 0-.7 0-.6 0-.7 0-.6 0-.7 0-.6 0-.7 0-.7 0-.6 0-.7 0-.6 0-.7 0-.7 0-.6 0-.7 0-.6 0-.7 0-.7 0-.6 0-.7 0-.6 0-.7 0-.6 0-.7 0-.7 0-.6 0-.7 0-.6 0-.7 0-.6 0-.7 0-.7 0-.6 0-.7 0-.6 0-.7 0-.7 0-.6 0-.7 0-.6 0-.7 0-.7 0-.6 0-.7 0-.6 0-.7 0-.6 0-.7 0-.7 0-.6 0-.7 0-.6 0-.7 0-.6 0-.7 0-.7 0-.6 0-.7 0-.6 0-.7 0-.7 0-.6 0-.7 0-.6 0-.7 0-.7 0-.6 0-.7 0-.6 0-.7 0-.6 0-.7 0-.7 0-.6 0-.7 0-.6 0-.7 0-.6 0-.7 0-.7 0-.6 0-.7 0-.6 0-.7 0-.7 0-.6 0-.7 0-.6 0-.7 0-.7 0-.6 0-.7 0-.6 0-.7 0-.6 0-.7 0-.7 0-.6 0-.7 0-.6 0-.7 0-.6 0-.7 0-.7 0-.6 0-.7 0-.6 0-.7 0z" fill="#8a8aff" fill-opacity="0.3" clip-path="url(#kd1)"/>
<path d="M390.2 236.7l.7 .7 .6-1.3 .7 .4 .6 .1 .7-.2 .7 1.1 .6-.4 .7 0 .6-.6 .7 .9 .6-.3 .7-.8 .7 .4 .6 .4 .7-.9 .6 1.2 .7-.6 .6 .2 .7-.3 .7 .3 .6 .3 .7-.5 .6 .6 .7-.7 .7 .4 .6-.5 .7 .5 .6 .1 .7-.4 .7-.3 .6 1.2 .7-.8 .6-.2 .7 .8 .6-.2 .7-.6 .7 .5 .6 0 .7-.9 .6 1 .7 0 .6 .5 .7-.4 .7 0 .6-1.1 .7 .2 .6 .9 .7-1.2 .7 .4 .6 .4 .7-.4 .6 .2 .7 .4 .7 .4 .6-.3 .7-.4 .6 .2 .7 .1 .6-.6 .7 .7 .7-.7 .6 .5 .7-.2 .6 .5 .7-.5 .6 .3 .7 .4 .7-.7 .6 .1 .7-.4 .6 .2 .7 .5 .7-.1 .6 .7 .7-.5 .6-1 .7-.1 .7 .3 .6 .2 .7-.1 .6 0 .7 .9 .6-.3 .7-.8 .7 0 .6 .3 .7 .3 .6 0 .7 0 .6 .2 .7 .4 .7-.8 .6 .2 .7-.1 .6-.7 .7 .4 .7 .5 .6-.5 .7 .8 .6-1 .7 .3 .7 .2 .6-.3 .7-.3 .6 .7 .7 .2 .6-1.2 .7 .8 .7-.5 .6 .8 .7-.4 .6 .4 .7-.5 .6 .3 .7 .2 .7-.9 .6 .5 .7 .9 .6-.7 .7 .3 0 16.1-.7 0-.6 0-.7 0-.6 0-.7 0-.7 0-.6 0-.7 0-.6 0-.7 0-.6 0-.7 0-.7 0-.6 0-.7 0-.6 0-.7 0-.6 0-.7 0-.7 0-.6 0-.7 0-.6 0-.7 0-.7 0-.6 0-.7 0-.6 0-.7 0-.7 0-.6 0-.7 0-.6 0-.7 0-.6 0-.7 0-.7 0-.6 0-.7 0-.6 0-.7 0-.6 0-.7 0-.7 0-.6 0-.7 0-.6 0-.7 0-.7 0-.6 0-.7 0-.6 0-.7 0-.7 0-.6 0-.7 0-.6 0-.7 0-.6 0-.7 0-.7 0-.6 0-.7 0-.6 0-.7 0-.6 0-.7 0-.7 0-.6 0-.7 0-.6 0-.7 0-.7 0-.6 0-.7 0-.6 0-.7 0-.7 0-.6 0-.7 0-.6 0-.7 0-.6 0-.7 0-.7 0-.6 0-.7 0-.6 0-.7 0-.6 0-.7 0-.7 0-.6 0-.7 0-.6 0-.7 0-.7 0-.6 0-.7 0-.6 0-.7 0-.7 0-.6 0-.7 0-.6 0-.7 0-.6 0-.7 0-.7 0-.6 0-.7 0-.6 0-.7 0-.6 0-.7 0-.7 0-.6 0-.7 0-.6 0-.7 0z" fill="#5a5aff" fill-opacity="0.35" clip-path="url(#kd1)"/>
<path d="M390.2 239.1l.7 .4 .6-.8 .7 .2 .6 .1 .7-.1 .7 .7 .6-.3 .7 0 .6-.4 .7 .6 .6-.2 .7-.5 .7 .2 .6 .3 .7-.6 .6 .8 .7-.4 .6 .2 .7-.2 .7 .2 .6 .1 .7-.3 .6 .4 .7-.4 .7 .2 .6-.3 .7 .3 .6 .1 .7-.3 .7-.2 .6 .8 .7-.5 .6-.2 .7 .5 .6-.1 .7-.4 .7 .4 .6 0 .7-.6 .6 .6 .7 0 .6 .4 .7-.3 .7 0 .6-.7 .7 .1 .6 .6 .7-.8 .7 .3 .6 .2 .7-.2 .6 .1 .7 .3 .7 .2 .6-.2 .7-.2 .6 .1 .7 .1 .6-.4 .7 .5 .7-.5 .6 .3 .7-.1 .6 .3 .7-.3 .6 .2 .7 .2 .7-.4 .6 0 .7-.2 .6 .1 .7 .3 .7-.1 .6 .5 .7-.3 .6-.6 .7-.1 .7 .2 .6 .1 .7 0 .6 0 .7 .5 .6-.2 .7-.5 .7 0 .6 .2 .7 .2 .6 0 .7 0 .6 .1 .7 .3 .7-.5 .6 .1 .7-.1 .6-.4 .7 .2 .7 .4 .6-.3 .7 .5 .6-.7 .7 .2 .7 .1 .6-.1 .7-.3 .6 .5 .7 .1 .6-.7 .7 .5 .7-.4 .6 .6 .7-.3 .6 .3 .7-.4 .6 .3 .7 .1 .7-.6 .6 .3 .7 .6 .6-.4 .7 .1 0 14-.7 0-.6 0-.7 0-.6 0-.7 0-.7 0-.6 0-.7 0-.6 0-.7 0-.6 0-.7 0-.7 0-.6 0-.7 0-.6 0-.7 0-.6 0-.7 0-.7 0-.6 0-.7 0-.6 0-.7 0-.7 0-.6 0-.7 0-.6 0-.7 0-.7 0-.6 0-.7 0-.6 0-.7 0-.6 0-.7 0-.7 0-.6 0-.7 0-.6 0-.7 0-.6 0-.7 0-.7 0-.6 0-.7 0-.6 0-.7 0-.7 0-.6 0-.7 0-.6 0-.7 0-.7 0-.6 0-.7 0-.6 0-.7 0-.6 0-.7 0-.7 0-.6 0-.7 0-.6 0-.7 0-.6 0-.7 0-.7 0-.6 0-.7 0-.6 0-.7 0-.7 0-.6 0-.7 0-.6 0-.7 0-.7 0-.6 0-.7 0-.6 0-.7 0-.6 0-.7 0-.7 0-.6 0-.7 0-.6 0-.7 0-.6 0-.7 0-.7 0-.6 0-.7 0-.6 0-.7 0-.7 0-.6 0-.7 0-.6 0-.7 0-.7 0-.6 0-.7 0-.6 0-.7 0-.6 0-.7 0-.7 0-.6 0-.7 0-.6 0-.7 0-.6 0-.7 0-.7 0-.6 0-.7 0-.6 0-.7 0z" fill="#3434ff" fill-opacity="0.45" clip-path="url(#kd1)"/>
<path d="M390.2 240.6l.7 .3 .6-.5 .7 .1 .6 .1 .7-.1 .7 .4 .6-.1 .7 0 .6-.3 .7 .4 .6-.1 .7-.3 .7 .1 .6 .2 .7-.4 .6 .5 .7-.3 .6 .1 .7-.1 .7 .1 .6 .1 .7-.1 .6 .2 .7-.3 .7 .2 .6-.2 .7 .2 .6 0 .7-.2 .7-.1 .6 .5 .7-.3 .6-.1 .7 .3 .6-.1 .7-.2 .7 .2 .6 0 .7-.4 .6 .5 .7-.1 .6 .3 .7-.2 .7 0 .6-.5 .7 .1 .6 .4 .7-.5 .7 .2 .6 .1 .7-.1 .6 0 .7 .2 .7 .2 .6-.2 .7-.1 .6 .1 .7 0 .6-.2 .7 .3 .7-.3 .6 .2 .7-.1 .6 .2 .7-.2 .6 .1 .7 .2 .7-.3 .6 0 .7-.1 .6 .1 .7 .2 .7-.1 .6 .3 .7-.2 .6-.4 .7 0 .7 .1 .6 .1 .7-.1 .6 0 .7 .4 .6-.2 .7-.3 .7 0 .6 .2 .7 .1 .6 0 .7 0 .6 0 .7 .2 .7-.3 .6 .1 .7-.1 .6-.3 .7 .2 .7 .2 .6-.2 .7 .3 .6-.4 .7 .2 .7 0 .6-.1 .7-.1 .6 .3 .7 .1 .6-.5 .7 .3 .7-.2 .6 .3 .7-.2 .6 .2 .7-.2 .6 .1 .7 .1 .7-.3 .6 .2 .7 .3 .6-.3 .7 .1 0 12.6-.7 0-.6 0-.7 0-.6 0-.7 0-.7 0-.6 0-.7 0-.6 0-.7 0-.6 0-.7 0-.7 0-.6 0-.7 0-.6 0-.7 0-.6 0-.7 0-.7 0-.6 0-.7 0-.6 0-.7 0-.7 0-.6 0-.7 0-.6 0-.7 0-.7 0-.6 0-.7 0-.6 0-.7 0-.6 0-.7 0-.7 0-.6 0-.7 0-.6 0-.7 0-.6 0-.7 0-.7 0-.6 0-.7 0-.6 0-.7 0-.7 0-.6 0-.7 0-.6 0-.7 0-.7 0-.6 0-.7 0-.6 0-.7 0-.6 0-.7 0-.7 0-.6 0-.7 0-.6 0-.7 0-.6 0-.7 0-.7 0-.6 0-.7 0-.6 0-.7 0-.7 0-.6 0-.7 0-.6 0-.7 0-.7 0-.6 0-.7 0-.6 0-.7 0-.6 0-.7 0-.7 0-.6 0-.7 0-.6 0-.7 0-.6 0-.7 0-.7 0-.6 0-.7 0-.6 0-.7 0-.7 0-.6 0-.7 0-.6 0-.7 0-.7 0-.6 0-.7 0-.6 0-.7 0-.6 0-.7 0-.7 0-.6 0-.7 0-.6 0-.7 0-.6 0-.7 0-.7 0-.6 0-.7 0-.6 0-.7 0z" fill="#1414ff" fill-opacity="0.55" clip-path="url(#kd1)"/>
<path d="M390.7 235.7h0m.5 6.2h0m0-.4h0m.2 2.8h0m.5-2.9h0m.2-11.7h0m.5 10.4h0m0-11.3h0m.1 6.9h0m.3 8.3h0m.1-4.4h0m.6 7.3h0m.1-3.7h0m.3-1.6h0m.2-.1h0m.4-6.8h0m.4 10.8h0m0-9.3h0m.2 7.8h0m.3-1h0m0-.7h0m.2-2.9h0m.1 3h0m.2-12.4h0m.5 13.8h0m.4 2.4h0m.6-16.5h0m.1 15.2h0m.1-6.4h0m0-.5h0m.4 6.2h0m.1-19.3h0m.2 17.9h0m.3 .7h0m.1-12.2h0m.2 4.4h0m0-.1h0m.2 7.3h0m.1-10.1h0m.1 6.6h0m.2-5.1h0m.2 8.1h0m.1-.1h0m0-4h0m.4 7.2h0m.1-14.5h0m.3 12.3h0m.4-9.9h0m0 11.8h0m.2-5.7h0m.1 2.1h0m0-9.2h0m.1 .7h0m0 10.4h0m0-.3h0m.6-4.3h0m0-.3h0m.1-.5h0m.1 1.9h0m0-4.9h0m.1-10.1h0m0 21h0m.1-11.4h0m0 1.8h0m.1 2.1h0m.1 2.3h0m.5-2.3h0m.5-12h0m.3 5.3h0m.3 3.5h0m.2 2h0m0 4.1h0m.3-6.5h0m.1 7.2h0m.2 .5h0m.1 2.8h0m.8-6.3h0m.1-3.5h0m.2 8.4h0m.8-12.8h0m.1-5.1h0m.1 17.3h0m0-3.2h0m.3 3.8h0m.1-5.3h0m.1 .6h0m.1-11.8h0m.1 13.3h0m.1-.5h0m.1 3.9h0m0-1.7h0m.3 1.3h0m.1 .2h0m.3-8.5h0m0 5.9h0m.6 1.9h0m.1-16.9h0m.2 10.3h0m0 8.4h0m.3-3.7h0m0-1.5h0m.2 5.2h0m.2-18.6h0m0 11.1h0m.1 1.9h0m.2 2h0m.1-5.1h0m.7 6.8h0m0-20.1h0m.3 17.8h0m.6-8.4h0m.5 6.9h0m0-9.7h0m.3 13h0m.2-3.8h0m.3 7.5h0m.2-2.1h0m.6 2.9h0m.2-12.4h0m.3 3.7h0m.1-1.9h0m.2 7.9h0m.1-12.4h0m.1 12.5h0m.1-24.9h0m.4 24.3h0m0-16.8h0m0 6.2h0m.1 9.4h0m0-3h0m1.1-8.5h0m0 14.4h0m.4-3.2h0m.4-8.7h0m.1 6.2h0m0-.9h0m.9-6.3h0m.1 11.1h0m.6-10.7h0m.2 6.4h0m.2-3.2h0m.1-5.7h0m.4 16h0m.1-2.4h0m.3-1.6h0m.2 .8h0m0-1.8h0m.1 1.5h0m.1-6h0m0 4.9h0m.1 4.3h0m0-3.2h0m.1 1h0m.6-.8h0m.1-12.8h0m.1 11.5h0m.3-1.7h0m.3 4.1h0m.5-2.1h0m0-.1h0m.5-4.8h0m0-6.6h0m.3 13.4h0m.1-13.2h0m.1 5.8h0m.3 2.9h0m.6-2h0m.6-2.1h0m.7 5.8h0m.3 4.6h0m.1 1h0m.1-9.9h0m.1-13.7h0m.1 15.8h0m.1-14.4h0m.7 19.2h0m.3-2.2h0m.1 4.2h0m.1-5.3h0m0 3h0m.1 3.8h0m.2-9.4h0m.1 5.3h0m.7 1.1h0m0-14.3h0m.1 11.1h0m.6 .2h0m.2-4.3h0m.1 6.7h0m0-9.3h0m.3-7.5h0m0 9.8h0m.1 .8h0m.2 8h0m.2-10.2h0m.5 2.9h0m.5 .3h0m.4 1.2h0m.1 2.9h0m.1-.6h0m.1 1h0m.1 .6h0m0 .6h0m.2-5.2h0m.1 1.4h0m.2-6.5h0m.1 6.2h0m.2 3.3h0m.2-10.6h0m0 10.2h0m.4-2.1h0m.1 5.4h0m.2-22h0m.2 14.1h0m.2 3.4h0m.1-4.2h0m.1 4.8h0m.1 2.4h0m.3-7.8h0m.2-3.3h0m.7 12.3h0m.1-3.4h0m0 3.1h0m.2-5.4h0m.3 2.9h0m0-5.2h0m.1 1h0m.1 .9h0m.6 3.1h0m.1-.6h0m.1-8.5h0m0 3.3h0m0 7.8h0m.1-1.2h0m.4-11.2h0m.1 1.6h0m.1 9.2h0m.6-6.1h0m0 2.2h0m.2-8.3h0m.3-6.2h0m.1 13.1h0m.2 5.6h0m0-4.7h0m.1 2.6h0m.2-4h0m0 6.7h0m.2-5.5h0m0 3h0m0 2.5h0m.2-13.8h0m1.4-4.3h0m.4 17h0m.1-1.7h0m.1-3.1h0m.1 3.5h0m.4-15.3h0m0 10h0m0-2.6h0m.1 5.3h0m1 1.6h0m0-1.3h0m.4-5.4h0m.2 10.3h0m.3-6.7h0m.1 5.2h0m.2-4.5h0m0 4.4h0m.2-1.1h0m.2-2.5h0m.1-4.5h0m.4 11h0m.5-14.3h0m0 6.1h0m.4 2.5h0m0-2.7h0m0 4.7h0m.3-5.3h0m.2-9.7h0m.2 16.7h0m.4-1h0m.6-3.3h0m.3-5.7h0m.4 1.9h0m.5 1h0m.4 1.4h0m.1-1.8h0m.2 7.2h0m.1-1.9h0m0-9.8h0m.1 9.2h0m.2-2.4h0m0-1.9h0m0 6.3h0m.4-1.4h0m.1-5h0m.1 10.9h0m.1-1.4h0m.5-43.6h0m0 40.1h0m.2-6.8h0m0 4.4h0m.3 2.8h0m0-9.8h0m.4 9.8h0m.1-6.4h0m.1 7.8h0m0 2.6h0m.2-13.4h0m.2 3.4h0m.1 4.9h0m0-5.1h0m.4 2h0m.2-13.5h0m.4 .2h0m.3 22h0m.2-15h0m.6-2.1h0m0 12.6h0m.4-4.3h0m.3 4.7h0m.4 1.7h0m.1-8.1h0m.1-12.4h0m0 14.3h0m.3-1.9h0m0-2.4h0m.3 10.7h0m.2-.3h0m.3-64.6h0m.5 57.8h0m.5 4.9h0m.1 4.1h0m.1-5.1h0m.3-11.1h0m.1 7.3h0m.1 3.1h0m0 1h0m.3-16.7h0m.3 15.8h0m0-5h0m.2 .5h0m0 .9h0m.2-9.7h0m.3 14h0m.3 1.6h0m.1-1.3h0m.2-5.9h0m.1-1.4h0m.1 7h0m1-6.7h0m.1 10.1h0m.3-5.9h0m0-1.8h0m.2 6h0m.1-5.6h0m.3 5h0m.1-.5h0m.2-3.8h0m0-6.5h0m.2 10.2h0m.1-.7h0m.2 3.2h0m.1-1.6h0m.1-13.3h0m0 14.5h0m.6-13.5h0m0 12.5h0m.1 1.1h0m.1 .4h0m.9-2h0m0-18h0m.1 15.4h0m.2-5.9h0m.4 4h0m0-1.5h0m0 2.8h0m.3-2.4h0m.1-3.7h0m0 3.6h0m.1 5h0" fill="none" stroke="#5a5aff" stroke-width="0.65" stroke-linecap="square" stroke-opacity=".5" clip-path="url(#kd1)"/>
<path d="M390.2 242.9l.4-.4 .4 .1 .4 .2 .4 .4 .4 .3 .4-.2 .4-.1 .4 0 .4 .3 .4-1.2 .3 .6 .4 .9 .4-.4 .4 .1 .4-.6 .4-.4 .4 .9 .4-.7 .4 .4 .4-.6 .4-.1 .4 .5 .4-.2 .4 .3 .4 .2 .4 .3 .4-.6 .4 .1 .4 .2 .3-.2 .4 .1 .4 .3 .4-.2 .4-.7 .4 .6 .4-.7 .4 1.1 .4 .1 .4-.6 .4-.3 .4 .6 .4-.6 .4-.1 .4 0 .4 .5 .4-.1 .4 .7 .4-.7 .4-.1 .4-.5 .3 1.2 .4-.2 .4 .1 .4-.9 .4 1.5 .4-.6 .4-1.3 .4 .6 .4 .8 .4-.5 .4-.4 .4 .1 .4 .3 .4 .3 .4-.7 .4 .3 .4-.3 .4 .2 .4 .3 .3-.8 .4 .9 .4-.4 .4 .4 .4-.1 .4 0 .4 .1 .4-.3 .4-.5 .4-.2 .4 .2 .4 .6 .4-.6 .4 .4 .4-.6 .4 1.3 .4-1.2 .4 .9 .4-.7 .4 .7 .4-.6 .3 .5 .4 .7 .4-.4 .4-.3 .4-.1 .4 .9 .4-.4 .4-.2 .4-.2 .4-.2 .4 .4 .4 .3 .4-.7 .4 .2 .4-.5 .4 .6 .4-.5 .4 .7 .4-.5 .3 .1 .4-.2 .4 .6 .4-.3 .4 .3 .4-.3 .4-.4 .4-.9 .4 1.2 .4-.3 .4 .3 .4-.5 .4 .3 .4-.2 .4 .3 .4-.9 .4 .4 .4 1.3 .4-.8 .4 .1 .4 1 .3-.6 .4-.2 .4 .1 .4-.3 .4 .8 .4-1.1 .4 0 .4 .2 .4 .3 .4-.2 .4 .2 .4-.6 .4 .2 .4-.6 .4 1 .4-.8 .4 .9 .4-.2 .4 .4 .3-.7 .4 .3 .4-.3 .4-.4 .4 .7 .4-.2 .4-.2 .4 .4 .4 .2 .4-.4 .4 0 .4-.2 .4 0 .4 .7 .4-.5 .4-.3 .4 .7 .4-.4 .4 .4 .4-.3 .4-.7 .3 .7 .4 .5 .4-.6 .4 .1 .4-.4 .4 1.1 .4-.2 .4-.4 .4 .6 .4-1.1 .4 1.3 .4-.5 .4 .3 .4-.3 .4-.6 .4 0 .4-.1 .4 .1 .4 1.2 .3-1 .4 .9 .4-.6 .4 0 .4 0 .4-.4 .4 .6 .4-1.1 .4 .5 .4-.3 .4 .2" fill="none" stroke="#e41414" stroke-width="1.7" stroke-linejoin="round" clip-path="url(#kd1)"/>
<text x="393.2" y="181.6" font-size="9" fill="#111" stroke="#111" stroke-width=".2">0%</text>
<rect x="390.5" y="169.5" width="79" height="79" fill="none" stroke="#484848" stroke-width="1.05"/>
<path d="M520.7 248.2v-2M520.7 169.6v2M547.1 248.2v-2M547.1 169.6v2M494.4 222h2M573.4 222h-2M494.4 195.8h2M573.4 195.8h-2" fill="none" stroke="#3a3a3a" stroke-width="0.7"/>
<text transform="matrix(0.9 0 0 1 491.1 251.4)" font-size="8.8" fill="#383838" text-anchor="end">0</text>
<text transform="matrix(0.9 0 0 1 491.1 225.2)" font-size="8.8" fill="#383838" text-anchor="end">5</text>
<text transform="matrix(0.9 0 0 1 491.1 199)" font-size="8.8" fill="#383838" text-anchor="end">10</text>
<text transform="matrix(0.9 0 0 1 491.1 172.8)" font-size="8.8" fill="#383838" text-anchor="end">15</text>
<text transform="matrix(0.9 0 0 1 494.9 259.1)" font-size="8.8" fill="#383838" text-anchor="middle">0</text>
<text transform="matrix(0.9 0 0 1 521.2 259.1)" font-size="8.8" fill="#383838" text-anchor="middle">200</text>
<text transform="matrix(0.9 0 0 1 547.6 259.1)" font-size="8.8" fill="#383838" text-anchor="middle">400</text>
<text transform="matrix(0.9 0 0 1 573.9 259.1)" font-size="8.8" fill="#383838" text-anchor="middle">600</text>
<text x="534.5" y="267.9" font-size="8.9" fill="#383838" text-anchor="middle">Time [s]</text>
<path d="M494.4 231l.7 1.4 .6 .8 .7 .5 .6-1.7 .7-1.2 .7 .5 .6 1.9 .7 2.2 .6-.1 .7-1.3 .6-1.1 .7-1.8 .7-1.6 .6-1.7 .7 .1 .6 3.2 .7-.9 .6 .4 .7-.6 .7 .9 .6 .6 .7 1.5 .6 .2 .7 .5 .7 .4 .6 .2 .7 0 .6-.8 .7 .1 .7-.1 .6-.3 .7 .7 .6 .5 .7 .6 .6 .5 .7 .5 .7 .9 .6-.2 .7 0 .6 .9 .7 0 .6 .1 .7-.2 .7 .1 .6 .2 .7-.1 .6-.2 .7 .2 .7-.5 .6 .3 .7 .3 .6-.2 .7-.3 .6-.1 .7-.1 .7 .2 .6-.2 .7 .3 .6 0 .7 .7 .7 0 .6-.2 .7 .3 .6-.3 .7-.1 .6 .1 .7-.8 .7 0 .6 .5 .7-.4 .6-.3 .7-.3 .7 .1 .6 .4 .7 0 .6 .8 .7-.1 .7 0 .6-.4 .7-.2 .6-.2 .7-.5 .6-1.3 .7-.8 .7 .5 .6 .2 .7 .4 .6 .2 .7 .4 .6 .6 .7-.2 .7 .4 .6 .5 .7-.3 .6 .6 .7 .2 .7-.3 .6 .1 .7 .6 .6-.3 .7 .2 .7 .5 .6-.4 .7 .7 .6 0 .7 .8 .6-.8 .7 .3 .7-.2 .6 .5 .7-.7 .6-.2 .7-.3 .6 1.1 .7-1 .7-.1 .6 .7 .7-.9 .6-.6 .7-.8" fill="none" stroke="#b8b8ff" stroke-width="17.6" stroke-opacity="0.3" stroke-linejoin="round" clip-path="url(#kd2)"/>
<path d="M494.4 232.2l.7 1 .6 1.3 .7-.3 .6-1.2 .7-1.6 .7 .4 .6 2.6 .7 1.3 .6 .8 .7-1.4 .6-1.7 .7-1.4 .7-2.1 .6-2 .7 .5 .6 3.6 .7 0 .6-.8 .7-.4 .7 1 .6 1.1 .7 .8 .6 .5 .7 .6 .7-.2 .6 .1 .7 0 .6 .2 .7-.2 .7-.5 .6 0 .7 .3 .6 .4 .7 .8 .6 .3 .7 1 .7-.1 .6 .4 .7-.1 .6 .9 .7 .3 .6-.2 .7 .5 .7 0 .6-.2 .7 0 .6 .5 .7-.5 .7 .1 .6-.2 .7-.2 .6 0 .7-.4 .6 .1 .7 .3 .7 0 .6-.2 .7 .2 .6 0 .7 .5 .7 0 .6-.4 .7 .7 .6-.6 .7 0 .6 .2 .7 .1 .7-.7 .6 .2 .7-.2 .6 .2 .7-.9 .7 .1 .6 .2 .7 .4 .6 .6 .7 .3 .7-.3 .6-.1 .7 .4 .6-1.1 .7-.7 .6-.9 .7-1.4 .7 .9 .6 .8 .7-.7 .6 .7 .7 1 .6-.1 .7-.1 .7 .7 .6-.2 .7-.3 .6 .4 .7 .5 .7 .1 .6 .5 .7-.1 .6 .3 .7 .3 .7 .3 .6-.7 .7 .6 .6 .5 .7-.1 .6-.5 .7 0 .7 .5 .6-.2 .7-.2 .6 .3 .7 0 .6-.2 .7-.4 .7 0 .6 0 .7-.5 .6-.8 .7-.3" fill="none" stroke="#8080ff" stroke-width="12.7" stroke-opacity="0.4" stroke-linejoin="round" clip-path="url(#kd2)"/>
<path d="M494.4 232.9l.7 .7 .6 1.9 .7-.4 .6-1 .7-1.9 .7 .7 .6 2.4 .7 1.8 .6-.4 .7-1.1 .6-1.1 .7-1.9 .7-1.3 .6-2.2 .7 .6 .6 3.1 .7-.2 .6-.6 .7-.4 .7 .9 .6 .5 .7 1.8 .6 .2 .7 .1 .7 .6 .6 0 .7-.1 .6 .1 .7-.5 .7-.4 .6 .3 .7 .8 .6 .1 .7 .9 .6 .4 .7 .7 .7 .1 .6 0 .7 .3 .6 .6 .7 .5 .6 .5 .7 0 .7-.4 .6-.2 .7 .2 .6 0 .7 .2 .7-.1 .6-.1 .7-.7 .6 .6 .7-.8 .6 .3 .7-.2 .7 .2 .6 0 .7-.1 .6 .7 .7 .1 .7 0 .6 .2 .7-.3 .6 .1 .7-.2 .6-.3 .7 .1 .7-.6 .6 .6 .7-.7 .6-.2 .7 .2 .7-.1 .6-.3 .7 .8 .6 1 .7 .1 .7-.8 .6 .2 .7-.8 .6-.2 .7-.4 .6-1.2 .7-.6 .7 0 .6 .5 .7 .1 .6 .9 .7 .1 .6 .2 .7 .1 .7 .9 .6 .1 .7 0 .6 0 .7 0 .7 .2 .6-.3 .7 .5 .6 .2 .7 .4 .7-.2 .6 .2 .7 .2 .6 .4 .7-.1 .6-.3 .7 .6 .7 .4 .6-.8 .7 0 .6 .2 .7-.1 .6-1 .7 .7 .7 0 .6-.4 .7-.5 .6-.1 .7-.5" fill="none" stroke="#3c3cff" stroke-width="8.8" stroke-opacity="0.6" stroke-linejoin="round" clip-path="url(#kd2)"/>
<path d="M494.4 232.8l.7 1.4 .6 1.1 .7-.2 .6-1.1 .7-1.6 .7 .8 .6 1.5 .7 2.4 .6 .1 .7-.9 .6-1.7 .7-1.4 .7-2.7 .6-1.5 .7 .2 .6 3.9 .7-.2 .6-.7 .7 0 .7 .2 .6 1.4 .7 .9 .6 .3 .7 .3 .7 0 .6 .6 .7-.2 .6-.5 .7 .1 .7-.2 .6-.1 .7 .3 .6 .5 .7 .9 .6 1.1 .7 .1 .7 .3 .6 .1 .7 .4 .6-.2 .7 1 .6 .2 .7-.4 .7 .4 .6-.4 .7 .1 .6 .5 .7-.7 .7-.2 .6 .2 .7 .3 .6-.7 .7 .4 .6-.3 .7-.1 .7 .5 .6 .3 .7-.3 .6 .1 .7 .3 .7 .1 .6-.3 .7 .3 .6 0 .7-.1 .6-.4 .7-.1 .7-.1 .6 .1 .7-.4 .6-.1 .7-.3 .7-.4 .6 .2 .7 .6 .6 .7 .7 .3 .7-.3 .6-.1 .7-.2 .6-.1 .7-1 .6-1 .7-1.5 .7 .4 .6 .7 .7 .2 .6 .7 .7 0 .6 .3 .7-.3 .7 1.2 .6 0 .7 .2 .6 0 .7 .1 .7 .6 .6 .1 .7-.1 .6 0 .7 .7 .7 .3 .6-.6 .7 .3 .6 .1 .7 .6 .6-.2 .7-.1 .7-.1 .6 .2 .7-.1 .6-.3 .7 .2 .6-.1 .7-.2 .7-.2 .6-.3 .7-.2 .6-.3 .7-.9" fill="none" stroke="#0000f0" stroke-width="5.9" stroke-opacity="0.9" stroke-linejoin="round" clip-path="url(#kd2)"/>
<path d="M494.4 234.6h0m.2-33.9h0m0 13.2h0m0 27.5h0m.1-7h0m.1-21.6h0m0-3h0m.1-11.7h0m0 23.8h0m.1 12h0m.1-34.3h0m.1-.1h0m.1 3.8h0m0 25.1h0m.1 11.8h0m.3-32.2h0m0 4.7h0m.1-8.5h0m.1 28.9h0m0-4.2h0m0 9.9h0m0 6.5h0m0-26.2h0m.1 16.2h0m0-11.3h0m0-22.7h0m.3 19.3h0m0-5.1h0m.1 10.5h0m0-4.6h0m0 19.7h0m.1-16.6h0m.1-3.5h0m0 10.3h0m.1-17.4h0m0 8.4h0m.2 18.7h0m.1-37.3h0m0 26.7h0m0-27.2h0m.1 24.8h0m0 4.8h0m.1-.1h0m0-.8h0m.1 9.3h0m0-30.7h0m.1 27.4h0m0-7.9h0m.3 1h0m.2-14.3h0m.1 11.4h0m.2-7.3h0m0 4.5h0m.1-3h0m0-24.4h0m.2 28.8h0m.1-22.4h0m.1 30h0m.1-28.9h0m.2 .7h0m.3-2.4h0m.1-6.2h0m0 30.3h0m0 9.4h0m.2-26.6h0m.1 26.4h0m0-6.1h0m0-34.8h0m.1 32.9h0m.3 15.2h0m.1-40.2h0m.2 22h0m0-23.2h0m.2 25.7h0m.1-4.7h0m.1-4.4h0m.1-18.7h0m.3 11.1h0m.1 4.8h0m0 21.9h0m.1-36.8h0m.1 34.4h0m0-6.2h0m.1-27.7h0m.2 28.4h0m.1 4.5h0m.2-6.5h0m0 8.3h0m.1 3.6h0m.2-3.3h0m0-10.5h0m.2-19h0m.2 29.9h0m.1-41.4h0m.1 30.8h0m.2-.4h0m.1 8.9h0m.1 10.2h0m.1-15.5h0m.5-1.8h0m.1-14.1h0m.2 15.1h0m.2-18.8h0m0 31.1h0m.1-17.1h0m.1 8.5h0m0-19.5h0m.1 14.9h0m0-32.5h0m.1 35.8h0m.1-3.6h0m0 7.5h0m.1-12.5h0m0-36.7h0m.1 35.4h0m.2-6.8h0m0 4.9h0m0 13.5h0m.1 5.4h0m.1-12.8h0m.1-10.1h0m0-14.7h0m.1 32.1h0m.1-4.7h0m0-6.7h0m0 .7h0m.1 6.4h0m.1-27.6h0m0 14.4h0m0 22h0m.1-9.8h0m0 .5h0m.1 2.7h0m0 1.1h0m.2-5h0m0-13.3h0m.2 13h0m.1-11.6h0m0 10.3h0m0 5.2h0m.1-18.2h0m.1-9.6h0m0 16.6h0m.1 13.7h0m0-20.9h0m.1 33.5h0m.1-23.2h0m.1 9.6h0m.1 .3h0m0-14h0m.1 11.8h0m.1 4.8h0m0-2.6h0m.1-28.7h0m0 6.8h0m.1 26.4h0m.1 1.2h0m0-2.4h0m.1 .3h0m.3-37.5h0m.3 .4h0m0 23.6h0m0 13.8h0m.1-.3h0m0-6.3h0m.2 3.9h0m0-24.3h0m.1-4.2h0m.3 32.3h0m.3-10.2h0m0 3.8h0m.2 4h0m0-15.9h0m.1 21h0m.1-33.3h0m.2 28.4h0m0-4.3h0m.1 .9h0m.1 13.7h0m0-9.9h0m.2-27.1h0m0 28.3h0m.1 4.1h0m.2-61.9h0m0 56.4h0m.1-27.5h0m.1 26.1h0m.1 5.6h0m.2-4.2h0m0-12.4h0m0-.5h0m0 8.2h0m.1-25.8h0m.1 8.6h0m0 10.9h0m.1-23.5h0m.5 35.7h0m.1-.4h0m0-2.5h0m.1-26.7h0m.3 2.3h0m0 14.6h0m.1 8.9h0m.3 2.3h0m.2-3.1h0m0-11.6h0m.2-23.2h0m0 35.6h0m.2-32.1h0m.1 37.4h0m.3-12.9h0m.2-4.2h0m0-25.3h0m.1 28.4h0m0-1.2h0m.2-15h0m0-4.8h0m.1 28.4h0m0-6.6h0m.1-5.5h0m.1 18.4h0m.2 3.2h0m0-4.1h0m.2-11.2h0m0-22.1h0m.1 20.6h0m.3 3.1h0m0 8.6h0m0-35.9h0m0 35.2h0m.1 2h0m.2 8.7h0m.1-10.7h0m0 .9h0m.2-6.2h0m.1-21.2h0m0 11.3h0m.2-10.2h0m0 36.4h0m0-22.8h0m0-26.5h0m.2 33.9h0m.1-9.9h0m0 12.1h0m.2 2h0m.1-10.6h0m0-8.8h0m0 14.2h0m.1 4.4h0m0-26.5h0m0 29.9h0m0-32.3h0m.1-5.3h0m.3 6.2h0m0 17.7h0m.2 13.1h0m.1-15h0m.1 2.9h0m.2 6.9h0m.1-35h0m0 38.5h0m.3-22.5h0m.1 21.4h0m0-19.6h0m.1 9.2h0m0-22h0m0 6.3h0m.1 18.9h0m0-.4h0m0-16.1h0m.2 23.1h0m.1-2.6h0m.1 1.6h0m.1-26h0m.1 21.2h0m0 15.9h0m.3-15.2h0m.1 8.8h0m.3-25.5h0m.1 28.6h0m.2-37.1h0m0 19.2h0m.2 12.9h0m0 7.9h0m0-36h0m.1 4.1h0m.1-13.6h0m.3 47.2h0m0-.8h0m0-16.5h0m0 5h0m.1-5.5h0m0-2.4h0m.1 13.2h0m0-22.3h0m.1-14.6h0m0 27.5h0m.1-12.9h0m.1-4.2h0m0-8.1h0m.1 16.7h0m.3-11.1h0m0 5.2h0m0-15h0m0 .8h0m.1 31.2h0m.1 8.8h0m.2-25.1h0m0 20.6h0m.1-.7h0m.1-1.5h0m.2-23h0m.1 9.6h0m.2 23.1h0m0-13.2h0m.1 16.3h0m0-6.6h0m.3 3h0m0 .5h0m0-31.9h0m.4 17.7h0m0-1.7h0m.1-4.4h0m.1 8.3h0m0 9.2h0m.1-11.8h0m.1 11.6h0m0 3.2h0m0-10.2h0m.2 11.7h0m.1-45.3h0m0 7.8h0m.2-3h0m0 3.8h0m0 16.8h0m0 10.5h0m.1-10h0m.1-3.5h0m.1 24.6h0m.1-20.9h0m0-7.4h0m.1 18.7h0m0 2.4h0m0-26.6h0m.2 11.4h0m.1 18.6h0m.1-25h0m.1-1.5h0m.1 3.6h0m0-19.3h0m.1-1.9h0m0 3.4h0m.3 9.8h0m0 9h0m0 9.8h0m.1 5.6h0m0-33.8h0m.1 34.9h0m.2-3.9h0m.1 .2h0m0-8.3h0m0 5.1h0m0-7h0m0-.6h0m.2 7.6h0m.1-14.1h0m.2-18.8h0m.1 33h0m.1-10.9h0m0 9.2h0m0 8.3h0m.4-10h0m.1 1.2h0m.1 7.5h0m.1 3.6h0m0 3.4h0m.1-8.9h0m0-5.3h0m.2 13.5h0m0-.7h0m.2-30.8h0m.2 .1h0m0 27.9h0m.2-8h0m.1 6.2h0m0-13h0m0-7.2h0m.1 25.5h0m0-38.6h0m.1-.9h0m.1 39h0m.1-40.1h0m0 28h0m0-22.2h0m.1 32.4h0m.1-15.9h0m.1-12.4h0m.1-9.4h0m.1-1.5h0m.1 47.2h0m0-12.6h0m0 7.4h0m0-26.3h0m.1 22.7h0m.2-35.1h0m.1 20.9h0m0-21h0m0 31.7h0m.2 3.6h0m.1-28.4h0m0 4.7h0m.2 17.2h0m0 6.7h0m0-26.8h0m0 23h0m.4-31.3h0m0 32.5h0m.1-35.5h0m.1 43.2h0m.1-7.9h0m.2-19.5h0m.1 27.3h0m0 .4h0m0-8.7h0m.3 8.1h0m.1-33.6h0m0 9.5h0m0-5.2h0m.1 9.7h0m.3 13.7h0m.2-3.8h0m0 9h0m0-5.7h0m0-24.1h0m.1 27.1h0m.1-7h0m.3 3.3h0m0-45h0m.3 50.3h0m0-39.7h0m.1 37.7h0m.1-21.7h0m0-22.8h0m.1 18.3h0m0-.4h0m0 22.8h0m.1-8.5h0m.1 3.8h0m.1 1.1h0m0 .4h0m.1 13.7h0m.1-11.6h0m.1-27.9h0m0 25.7h0m.1-3h0m.1-3.7h0m0-8h0m0 2.4h0m.2-10.2h0m.1-7h0m.3-3.5h0m.2 35.1h0m0-33.7h0m.1-4.6h0m.1 45.1h0m.1-15.7h0m.1 8h0m0-35.4h0m.2 40.2h0m0-10.9h0m.2 4.9h0m.2-9h0m0 2.4h0m.1-22.8h0m.2 15.7h0m.3-23.2h0m.1 34.1h0m.1-33.5h0m0 24h0m.1 16.4h0m.1-40.8h0m.3 44.5h0m0-36.2h0m0 19.8h0m.1 14.3h0m.1-17.5h0m.1-19.8h0m0 45.1h0m.1-12.8h0m0-6.6h0m.1-22.5h0m0 19.3h0m.1 6.2h0m.2-4.9h0m.1 5.4h0m.1 9.6h0m0-13.9h0m.1 8.1h0m0-3.8h0m0-18.1h0m.4 27.9h0m0-5.5h0m.1 1.9h0m0-6h0m.2 13.3h0m0-40.3h0m.1 26.2h0m.1-26.8h0m.1 11.4h0m.1-10.6h0m0 5.7h0m.1-3.5h0m.1 21.5h0m.1-15.4h0m0 25.7h0m0 1.2h0m.1-1.5h0m.1-15.3h0m.1 19.8h0m0-45.4h0m.1 35.8h0m0-8.7h0m0 7.5h0m.3-17h0m0 24.3h0m.1-18h0m.3 1.2h0m.1 3.3h0m.3 0h0m0 17h0m.2-42.2h0m0 24h0m.5 14.7h0m.2-37.9h0m.1 26.8h0m0-14.6h0m0 21.1h0m.1-22h0m.2 28h0m0-14h0m0 4.6h0m.1-.5h0m.1-5.7h0m0-19.2h0m0 30.2h0m0 4.7h0m.1-.9h0m0 1.4h0m0-8.8h0m0-14.3h0m.1-10.4h0m.1 16.5h0m.2 10.3h0m.1 6.3h0m0-13h0m.1 9.9h0m0-5.9h0m.1 12.9h0m.1-9.5h0m.1 8.5h0m0-21.8h0m0 3.7h0m.1 7.1h0m.1 1.4h0m0 .6h0m.3-25.3h0m0 4.9h0m.1-8.6h0m0 37.1h0m.1-16.8h0m.3 10.9h0m0-17.4h0m.1-3.9h0m0-4.1h0m.3 32.4h0m.1-20.6h0m0 10.5h0m.1-28.2h0m0 21.2h0m.1-19.7h0m.3-5.7h0m0 37.9h0m.1-17.5h0m0-2.1h0m0 19.1h0m.1-3.2h0m.3-23.9h0m.1 18.6h0m.1 9.3h0m.2-30.6h0m.1 22.5h0m0-22.6h0m.1 15.7h0m0 19.8h0m.1-32.6h0m0 11.5h0m.1-19.2h0m0 18.2h0m.2 8.7h0m.3-1.7h0m0-17.6h0m0-5.3h0m.3 18.7h0m.1-5.2h0m.1 25.5h0m0-7.7h0m.1 .7h0m.1-7.6h0m0-4.1h0m.1 13.5h0m.1 6.4h0m.1-18.4h0m.1-7.8h0m0-18.3h0m.1 25.2h0m.1-14.7h0m0 18.4h0m0-1.3h0m0-16h0m.7-15.3h0m0 32.9h0m.1 2.9h0m0-16.2h0m.3 11.9h0m0 1.1h0m.2-11.3h0m0 15.9h0m0-19.3h0m0 17.3h0m.1 2h0m.1 .8h0m0 4.6h0m0-6.7h0m.1-3h0m.1-24.7h0m.1 37.4h0m.2-4.9h0m.1-4.5h0m0 2.1h0m0-11.4h0m.1-27.5h0m.1 35.5h0m0-24.9h0m.2 17.1h0m.1 7h0m.1 .9h0m.1-.5h0m0 5.3h0m.1 3.3h0m0-6.8h0m0-24.1h0m.2 23.3h0m0-9h0m0-2h0m.1 3.7h0m.1-11.2h0m.1 7.2h0m0-31h0m0 49.1h0m0-6h0m.1 4h0m0-31.9h0m.1 35.8h0m.1-19.8h0m0 1h0m.1 18.7h0m.1 5.5h0m0-22.6h0m.1 11.3h0m0-1.3h0m0-14h0m.1 6.7h0m.1 1.6h0m0-2.8h0m.1 1.2h0m.3-28.7h0m0 26.4h0m.1 2.7h0m0 11.1h0m0-41.3h0m.2 35.4h0m0 1.9h0m.1-8.1h0m.1-20.2h0m0 22.7h0m0-7h0m.1 10.7h0m0-.6h0m.2-23.2h0m.1 29h0m0-5.5h0m.1 2h0m0-35.9h0m.1 29.9h0m.2 5.1h0m.1 3.3h0m.1-27.1h0m0 1.4h0m.1 26.3h0m0-15.5h0m0-16.8h0m.2 14.7h0m.3 9.9h0m.1-7.4h0m.1 16.9h0m.1-23.9h0m0-18.9h0m.1 20.1h0m.1 .2h0m0-17.4h0m.3 10.2h0m0 7.7h0m.1-28.3h0m0 7.6h0m.1 18.3h0m.1-17.7h0m.3 36.4h0m.1-12.8h0m0 19.4h0m.1-26.5h0m0 7.5h0m.1 8.3h0m0-16.5h0m.1 21.9h0m.1 10h0m.1-2.7h0m.2-7h0m.1 3.9h0m0-10.3h0m.1-31.2h0m.1 33.5h0m0 11.7h0m0-11h0m0 2.2h0m.1-3.6h0m0-17.9h0m0 7.9h0m.2 12.6h0m0 9.6h0m.1-30.5h0m0 21.1h0m0-19.2h0m.5 21.3h0m.1-1h0m.1-24h0m0-14.8h0m0 35.5h0m.1 2.2h0m0-26.4h0m0 34.5h0m0-35.3h0m.1-8.3h0m.1 38.7h0m0-7.3h0m.1 10h0m.2 5.3h0m.1-14.4h0m.1-4.3h0m0-7.1h0m.1 4.1h0m.1-8.8h0m0-5.6h0m.1 29.4h0m0-26.8h0m.1 30.4h0m.1-41.7h0m0 40.8h0m0-9.6h0m.1 4.7h0m.1-27.3h0m0 33.6h0m0-27.8h0m0 26.6h0m.1-2.9h0m.1-16.9h0m.2-4.2h0m.2-17.7h0m.2 36.2h0m0 2.5h0m.1 0h0m.2-36h0m.1 30.1h0m.2-10.9h0m.2-22h0m.3 37.1h0m.1-13.9h0m0-50.3h0m0 63.1h0m.2-1.2h0m0-36.5h0m.2 25.4h0m0-26.2h0m.1 34.5h0m0-5h0m.1 1.1h0m.1-7.9h0m.1-1.7h0m.1 29.5h0m0-5.3h0m.2-43.8h0m.1 43.1h0m.3-4.1h0m.1-13h0m0 3.9h0m.2 14h0m.1-15.2h0m0 8.5h0m.2 4.7h0m0-36.5h0m.1 5.9h0m0 7.6h0m.1-9.6h0m0 20.8h0m.1 4.2h0m0 7.2h0m0-8.9h0m.2 5.1h0m0 .1h0m.1-9.4h0m0 13.1h0m.4-1.4h0m.1-1.8h0m.1-13.2h0m0-27h0m0 38.8h0m.2-15h0m.1-7h0m0 2.3h0m0 24h0m.1-1.2h0m.1-16.6h0m0 12.5h0m.2-30.9h0m.1 32h0m.1-21.2h0m0 12.1h0m.3 1.3h0m.1-4.5h0m0-13.9h0m.1 30.3h0m.2-4.7h0m.1 8.8h0m0-39.1h0m.3 40.1h0m.3-17.4h0m0 6.8h0m.2-35.1h0m0 13.4h0m.1 7.3h0m.1 8.8h0m.1-4.9h0m.1-3.4h0m.1 7.7h0m.1 9h0m.1-3.7h0m.1-28.9h0m0 18.5h0m.3 15.9h0m.2-2.4h0m.1-19.4h0m0 17.7h0m.1-12h0m0 18h0m.2 5.8h0m0-6h0m0-1.9h0m.2 1.9h0m0-15.8h0m.2-12.2h0m.1-2.9h0m0 22.5h0m.1 7.6h0m0-.3h0m0-2h0m0 2.4h0m.1 1.9h0m.1-35.5h0m0 30.2h0m.2-17.5h0m0 16.6h0m.1-19.5h0m0 3.5h0m0 15.5h0m.1 9.7h0m0-17.8h0m.1-9.7h0m0-18.4h0m.1 46.1h0m.2-11.9h0m0 .4h0m.1 2.8h0m0-1.9h0m.3-2.3h0m.1-14.2h0" fill="none" stroke="#5a5aff" stroke-width="0.65" stroke-linecap="square" stroke-opacity=".5" clip-path="url(#kd2)"/>
<path d="M494.4 233.3l.4-.6 .4 .1 .4 2.4 .4-.7 .4 1.7 .4-2.2 .4 .8 .4-2.3 .4-3.7 .4 3.8 .3 2.7 .4-.3 .4 1.3 .4 1.9 .4-.2 .4-.4 .4-1.6 .4-1.7 .4-.2 .4-1.4 .4-2.4 .4 .5 .4-1.8 .4-8.1 .4 7.9 .4 2.1 .4 1.8 .4-2.2 .4 2 .3 .1 .4-1.2 .4-1.2 .4 .8 .4 2.1 .4-.3 .4 1 .4 .9 .4-.4 .4 .1 .4 .7 .4-1.6 .4 2.4 .4-1.8 .4-.6 .4 0 .4 1.8 .4 .4 .4 1.3 .4-1.7 .4-2.8 .3 4.1 .4-.2 .4-2.1 .4 .6 .4 3 .4-1.5 .4 0 .4 2.4 .4-2.2 .4 2.7 .4-2.5 .4 1.2 .4 1.1 .4 1.1 .4-1.2 .4-.1 .4 .2 .4 .7 .4-.3 .3-1 .4 1.9 .4-.8 .4-.7 .4 .5 .4-.9 .4-.7 .4 2 .4-.6 .4 3.3 .4-2.7 .4-1.2 .4 1.8 .4-2.6 .4 3.3 .4-3.4 .4 1.9 .4 .4 .4-.6 .4-.3 .3 .8 .4 .4 .4-.8 .4-1.5 .4 .6 .4-.9 .4 2.1 .4-.2 .4-12.7 .4 12.4 .4-.3 .4-1.3 .4 1.2 .4 .6 .4-1.2 .4 2.3 .4 .5 .4-2.2 .4 .4 .4 0 .3-1 .4 1.3 .4-.4 .4-.6 .4-.4 .4-.4 .4 .8 .4-.2 .4 2.7 .4-3.9 .4 2.9 .4-1.7 .4-2.8 .4 3 .4 1.7 .4-3.1 .4 2.6 .4-.1 .4 .3 .4-1.1 .4-.2 .3 .8 .4-1.4 .4 2 .4-1.8 .4 1.2 .4-1.8 .4 .8 .4-.8 .4-2.6 .4-2.3 .4 4.4 .4-1.6 .4 1.2 .4 .4 .4 0 .4-2.1 .4 3.5 .4-.5 .4-.3 .3 1.3 .4-.8 .4-.5 .4 1.6 .4-2 .4 2.5 .4-.9 .4-.4 .4-2.9 .4 5.3 .4-2 .4-2.3 .4 3.4 .4-1.7 .4 1 .4 1.9 .4-1.9 .4 1.5 .4-.9 .4 1.7 .4-2.2 .3 3.4 .4-2.3 .4-1.4 .4 .9 .4 1 .4 0 .4 .2 .4-3.3 .4 2.9 .4-.1 .4 .8 .4-.3 .4-1.1 .4 1.3 .4 .2 .4-.3 .4-.3 .4-.7 .4 .6 .3-.4 .4 .5 .4-2.2 .4 1.1 .4 .3 .4-.7 .4 .3 .4 1.3 .4-1.7 .4-2.2 .4 1" fill="none" stroke="#e41414" stroke-width="1.3" stroke-linejoin="round" clip-path="url(#kd2)"/>
<text x="498.6" y="181.6" font-size="9" fill="#dc8a4e" stroke="#dc8a4e" stroke-width=".2">60%</text>
<rect x="494.5" y="169.5" width="79" height="79" fill="none" stroke="#484848" stroke-width="1.05"/>
<path d="M624.8 248.2v-2M624.8 169.6v2M651 248.2v-2M651 169.6v2M598.5 222h2M677.3 222h-2M598.5 195.8h2M677.3 195.8h-2" fill="none" stroke="#3a3a3a" stroke-width="0.7"/>
<text transform="matrix(0.9 0 0 1 595.2 251.4)" font-size="8.8" fill="#383838" text-anchor="end">0</text>
<text transform="matrix(0.9 0 0 1 595.2 225.2)" font-size="8.8" fill="#383838" text-anchor="end">5</text>
<text transform="matrix(0.9 0 0 1 595.2 199)" font-size="8.8" fill="#383838" text-anchor="end">10</text>
<text transform="matrix(0.9 0 0 1 595.2 172.8)" font-size="8.8" fill="#383838" text-anchor="end">15</text>
<text transform="matrix(0.9 0 0 1 599 259.1)" font-size="8.8" fill="#383838" text-anchor="middle">0</text>
<text transform="matrix(0.9 0 0 1 625.3 259.1)" font-size="8.8" fill="#383838" text-anchor="middle">200</text>
<text transform="matrix(0.9 0 0 1 651.5 259.1)" font-size="8.8" fill="#383838" text-anchor="middle">400</text>
<text transform="matrix(0.9 0 0 1 677.8 259.1)" font-size="8.8" fill="#383838" text-anchor="middle">600</text>
<text x="638.5" y="267.9" font-size="8.9" fill="#383838" text-anchor="middle">Time [s]</text>
<path d="M598.5 215.9l.7 .4 .6 .3 .7-.2 .6-.6 .7 .4 .6-.3 .7-.7 .7 .1 .6-.5 .7-1.1 .6-.8 .7-.8 .6-1 .7 1.9 .7 1.4 .6 1.5 .7 2.7 .6 2.1 .7 2.6 .6 1.2 .7 1.7 .6 1.6 .7-.7 .7-1 .6-.9 .7-.3 .6-1 .7 0 .6-1.3 .7 .8 .7 .2 .6 .7 .7-.4 .6-.3 .7 .5 .6-.5 .7-.2 .7-.6 .6-1.4 .7-.9 .6 .2 .7-1.1 .6-.2 .7-1.2 .6 .2 .7-1.5 .7-1.3 .6-.1 .7 .1 .6 1.1 .7 .3 .6 1.8 .7 1.9 .7 1.7 .6 .2 .7 0 .6 .6 .7-.7 .6-1.9 .7 2 .7 1.3 .6 1.5 .7 2 .6-1.5 .7-1.3 .6-1.1 .7-1.2 .7 1.2 .6 .7 .7 .2 .6 1.3 .7 0 .6 .2 .7 .5 .7 .6 .6 .5 .7 .5 .6-.2 .7 .1 .6 .2 .7-.5 .6-1.1 .7-.2 .7-1.1 .6-.2 .7-.1 .6-1.3 .7-.2 .6-.5 .7 0 .7-.8 .6-.6 .7 0 .6-.1 .7 1.2 .6-1.4 .7 .1 .7-.6 .6 .9 .7 .5 .6 1.4 .7 1.3 .6 1.4 .7 1.4 .6-.4 .7-.2 .7-.4 .6-.2 .7 .9 .6 .6 .7 .5 .6 .8 .7-.3 .7 0 .6-.3 .7-.3 .6 .5 .7 0 .6 .6 .7-.3" fill="none" stroke="#b8b8ff" stroke-width="10.2" stroke-opacity="0.3" stroke-linejoin="round" clip-path="url(#kd3)"/>
<path d="M598.5 217.1l.7-.6 .6-.1 .7 .7 .6-.6 .7 0 .6-.6 .7 .2 .7-.3 .6-.5 .7-1.3 .6 0 .7-1.6 .6-.7 .7 1.7 .7 1.6 .6 1.3 .7 2.3 .6 2.1 .7 2.9 .6 2.1 .7 1.3 .6 1.6 .7-.7 .7-1.4 .6-1.3 .7-.1 .6 0 .7-1.2 .6 0 .7 .1 .7 0 .6 .4 .7 .3 .6-.4 .7-.3 .6-.2 .7-.6 .7 .7 .6-1.4 .7-.8 .6-.9 .7-.4 .6-.8 .7-.1 .6-1.2 .7-1.1 .7-.7 .6-.6 .7 .4 .6 .3 .7 1.8 .6 .7 .7 2 .7 1.8 .6 0 .7 .5 .6 0 .7-.3 .6-1.3 .7 1.1 .7 1.4 .6 1.5 .7 1.9 .6-1.5 .7-1.1 .6-1.8 .7-.2 .7 .8 .6 .6 .7 .7 .6 .9 .7 0 .6 .7 .7 .2 .7 1 .6 .2 .7 0 .6 .4 .7 0 .6-.2 .7-.8 .6-.8 .7-.5 .7-.3 .6-.8 .7-.1 .6-.8 .7 0 .6-1.1 .7-.2 .7-.4 .6-.2 .7-.7 .6 .7 .7 .1 .6-.4 .7-.7 .7-.8 .6 .8 .7 1.7 .6 .8 .7 1.1 .6 1.5 .7 1.3 .6-.9 .7 .6 .7-.6 .6 0 .7 .3 .6 1.6 .7 .2 .6 .7 .7-.1 .7-.9 .6 .3 .7-.1 .6 .3 .7-.3 .6 .5 .7 .4" fill="none" stroke="#8080ff" stroke-width="7.4" stroke-opacity="0.4" stroke-linejoin="round" clip-path="url(#kd3)"/>
<path d="M598.5 217.5l.7-.1 .6-.3 .7 .1 .6 .5 .7-.6 .6-.5 .7-.8 .7 .6 .6-.1 .7-1.7 .6-.5 .7-.7 .6-1.4 .7 1.8 .7 1.8 .6 1.8 .7 2 .6 2.2 .7 2.8 .6 1 .7 2.3 .6 .9 .7-.4 .7-.8 .6-1.2 .7-.3 .6-.7 .7-1 .6 .2 .7-.1 .7 .7 .6 0 .7-.1 .6 .3 .7-.6 .6 .4 .7-.5 .7-.8 .6-1.2 .7-.7 .6-.1 .7-.8 .6-.6 .7-.3 .6-1.4 .7-1.2 .7-.8 .6-.2 .7 .6 .6 .8 .7 .6 .6 1.6 .7 1.4 .7 1.8 .6 .6 .7-.2 .6 .3 .7-.4 .6-.9 .7 .6 .7 2 .6 1.2 .7 1.5 .6-1.6 .7-.9 .6-1.2 .7-.7 .7 .5 .6 .7 .7 1.2 .6 .4 .7 .3 .6 1.2 .7-.5 .7 .9 .6-.1 .7 .5 .6 .3 .7 .1 .6-.1 .7-.8 .6-.4 .7-.4 .7-.8 .6-.4 .7-.9 .6 0 .7-1.1 .6-.1 .7-.4 .7-.9 .6-.1 .7-.2 .6 .2 .7 .3 .6-.2 .7-1.6 .7 0 .6 1.5 .7 .7 .6 .7 .7 1.5 .6 1.2 .7 .8 .6 .2 .7-.5 .7 .1 .6 .1 .7-.1 .6 1.6 .7 .5 .6 .5 .7 .2 .7-.3 .6-.3 .7-.4 .6 0 .7 .5 .6-.2 .7 .5" fill="none" stroke="#3c3cff" stroke-width="5.1" stroke-opacity="0.6" stroke-linejoin="round" clip-path="url(#kd3)"/>
<path d="M598.5 217.3l.7 0 .6-.2 .7 .2 .6-.2 .7-.4 .6-.1 .7-.4 .7 .2 .6-.5 .7-.7 .6-.8 .7-1.3 .6-1 .7 1.7 .7 1.6 .6 1.1 .7 3.1 .6 2.1 .7 2.4 .6 1.8 .7 1.1 .6 2 .7-1 .7-.4 .6-1.8 .7-.7 .6 .3 .7-.8 .6-.4 .7 .1 .7 .7 .6-.2 .7 .1 .6 .1 .7 .2 .6-.6 .7-.3 .7-1 .6-.4 .7-.6 .6-1 .7-.5 .6-.7 .7-.6 .6-1.1 .7-.8 .7-.2 .6-1.2 .7 .5 .6 .8 .7 .4 .6 2.2 .7 1.3 .7 2.1 .6 0 .7 .5 .6 .4 .7-.8 .6-1.2 .7 .6 .7 2 .6 1.8 .7 1.5 .6-1.7 .7-.8 .6-2 .7 0 .7 .3 .6 .6 .7 .7 .6 1 .7 .6 .6 .6 .7-.2 .7 .7 .6 .4 .7 .2 .6 0 .7 .3 .6-.4 .7 .3 .6-1.5 .7-.3 .7-.8 .6-.4 .7-.5 .6-.7 .7-.3 .6 0 .7-.9 .7-.5 .6-.6 .7-.1 .6 .5 .7 0 .6-.1 .7-1.6 .7 .3 .6 1.1 .7 .5 .6 1 .7 1.3 .6 1.2 .7 1.5 .6-.1 .7-.3 .7-.1 .6-.1 .7-.2 .6 1 .7 1.4 .6 .5 .7-.1 .7 0 .6-.4 .7-.3 .6 .1 .7 .5 .6 .5 .7-.4" fill="none" stroke="#1414ff" stroke-width="3.4" stroke-opacity="0.9" stroke-linejoin="round" clip-path="url(#kd3)"/>
<path d="M598.5 194.1h0m.3 21.7h0m.2-.4h0m.1-1.8h0m.3 .4h0m.3 8.3h0m0-13.1h0m0 3.5h0m.2-11.8h0m0 1.7h0m0 16.9h0m.1-18.6h0m0 5.3h0m.1 15.6h0m0-9.2h0m.1 7.8h0m0-8.7h0m.1 15h0m0-23.4h0m0-1.5h0m0 12.9h0m0-13.6h0m.1 14.1h0m0 1.6h0m0 10.5h0m0-17.2h0m0 6.8h0m.1-.7h0m0-4.6h0m0-5.3h0m.1 13.9h0m0-1.5h0m0 7.2h0m0-.5h0m.1-20.9h0m0 13.3h0m0-11.2h0m.1 10.4h0m0 3.7h0m0-4.1h0m0 10h0m0-6.2h0m.1 6.6h0m0-14.8h0m.1-3.6h0m0 3.1h0m0-5.9h0m.1 11.7h0m.1-18h0m.3 12.9h0m.3 1.3h0m.1-10.5h0m.3 8.5h0m0 11h0m.3-5.3h0m.1 .3h0m.2-16h0m.1 16.8h0m.1-1.9h0m0-4.5h0m.2 8.8h0m.1-8.6h0m0-10.7h0m.1-.7h0m0 15.4h0m0 4.2h0m.1-13.1h0m0 7.5h0m.1 3.6h0m0-1.7h0m0-1.5h0m.1-11.2h0m0-2.3h0m0 12h0m0-6.3h0m.1 9.4h0m.1-6.4h0m.1 9.9h0m0 4.3h0m.1-15.1h0m.1 14.5h0m0-8.9h0m.1 .1h0m.1-7.4h0m0 9.3h0m.2-5.4h0m.1 6.1h0m0-5.5h0m.2-3.8h0m.1 .1h0m0 .5h0m0-2.4h0m0 1.6h0m0 2.5h0m0-3.5h0m.1 6.2h0m0 3.5h0m0 3.7h0m.1-3.9h0m0-10.5h0m.1-7.1h0m0 10.4h0m0 1.3h0m.1-.9h0m.3 2.1h0m.4-5.7h0m.1 4.9h0m.3 9.4h0m0-12.5h0m.1-5.3h0m.1 19.5h0m0-12h0m.1-13.7h0m0 10.1h0m0-10.5h0m0 3h0m.1 16.2h0m0-10.3h0m0-7.8h0m0 18.7h0m.1-3.5h0m.1-12h0m0 8.3h0m0-13.5h0m.1 12.3h0m0 7.4h0m.1-14.6h0m0 17.2h0m0-8.1h0m0-7.6h0m0 5.9h0m.1 1.7h0m0-7.9h0m.1 17.5h0m0-3.6h0m.1-6.9h0m.2 10.5h0m.2-3.9h0m0-.5h0m.1 2h0m.1-4.7h0m0-8.2h0m0 12.2h0m0-3h0m.4-10.9h0m.1 8.5h0m.1 5.2h0m.1 4.4h0m0-10.2h0m0 16.4h0m.1-21.7h0m0 3.1h0m0 2.4h0m.1 7.6h0m0 2.1h0m.2 3.7h0m.3-7.2h0m.2 2.3h0m0-4.4h0m.2 6.6h0m.1-15.3h0m0 18.4h0m0-2.3h0m.2-2.8h0m0-7.5h0m0 16h0m0-6.7h0m0 .3h0m.1-3.8h0m0-6.2h0m.1 14.8h0m0-5.6h0m0 2.8h0m.1-9.9h0m0 4.9h0m.1 4.2h0m0-5.1h0m.2 6.3h0m.1-44.9h0m0 46.6h0m.2-2.7h0m.1 3.2h0m0 .7h0m.1 .7h0m.4 2h0m0-3h0m.2-9.4h0m0 7.8h0m0 6.5h0m0-5h0m0 16.1h0m.1-28.1h0m0 15.5h0m.1-6.8h0m.1-5.6h0m0-1.9h0m.1-1.2h0m0 17.9h0m.2-14.4h0m.6 11.2h0m.1 8.8h0m.1-32h0m.1 21.6h0m.1-4.7h0m.1-26.5h0m.1 30.4h0m.2 3.2h0m.1-6.6h0m.3 3.1h0m0-3.3h0m.1 4.3h0m.2 1.7h0m.2-3.4h0m.1 1h0m.1 2.9h0m0-3.9h0m.1-11.1h0m.1 6.9h0m0 0h0m.4 3.5h0m.1 16.4h0m0-25.2h0m.3 15.5h0m.2-12.5h0m0-14.3h0m.1 24h0m.6-1.9h0m0 2.7h0m0-39.4h0m.2 31.7h0m0-15.4h0m.1 20.1h0m.1 .3h0m.1-14.8h0m0-4.5h0m0 16.7h0m0 8.3h0m0-14h0m0 11.2h0m0-10.3h0m.1 18h0m.1-20.9h0m0 11.4h0m0-8h0m0-3.9h0m0 9.2h0m.1-8.1h0m0-2.6h0m.1-9.6h0m0 5.6h0m.1 6.1h0m0 18.2h0m0-9.5h0m0-16.1h0m.1-1h0m.1 10.9h0m.1-2h0m0 10.4h0m0-7.3h0m.1 8.1h0m0 .4h0m0 3.7h0m.1-22.9h0m0 1.9h0m.1 30.3h0m.1-22.2h0m0 2.1h0m.1 3h0m0-6.5h0m.3 7h0m.1-10h0m0 .8h0m.1-3.1h0m0 3.7h0m0 11.3h0m0-7h0m.1 2.1h0m0-1.8h0m.2 19.5h0m0-12.4h0m.2 .1h0m.1-5.3h0m0 1.1h0m0-3.8h0m.2 22.2h0m.1-17.7h0m0-8h0m.1 4.9h0m0 6.4h0m0 5.8h0m0 1.1h0m0-23.7h0m0-2.4h0m0 7.5h0m.1 14.8h0m.1-15.4h0m0 12.7h0m0 3.4h0m.1-9h0m0 0h0m.1-12h0m.1 5.2h0m0 1.7h0m.2 6h0m.2-8.9h0m0 4.5h0m0 3.4h0m.3-2.2h0m.1 3.1h0m.1 1.7h0m.1-4.8h0m0-8.1h0m0 13.3h0m0-5.1h0m0-1.9h0m.2 6.3h0m.1 10.8h0m0-18.7h0m.1 5.6h0m.3-14.6h0m0 10.6h0m.1-3.2h0m0-1.8h0m0-4.3h0m0 21.5h0m0 1.6h0m.1-6.8h0m0-8.9h0m.1 8.2h0m0-7.8h0m0-9.3h0m.1 5.1h0m.1-11.8h0m0 27.7h0m.4-.7h0m.3-12.5h0m.2-.1h0m.1-2.1h0m.1 1.3h0m.1 9.3h0m.2-6h0m.1 9.8h0m0-15.4h0m.4-.3h0m.1 2.7h0m0 7h0m0-12.5h0m.2 12.4h0m.1 2.8h0m0-10.6h0m.1-6.3h0m.1 23.3h0m0-10.4h0m.1-8.9h0m.1 11.2h0m0-3h0m0 1.3h0m.1-8.6h0m.1 3.6h0m.1 .1h0m0-6.5h0m.1 20.4h0m0-1.5h0m.2-12.1h0m.1-13.9h0m.1 6.2h0m0 14.6h0m0-1.8h0m0-5.3h0m0-4.9h0m.1 5.7h0m0 1.4h0m0-10.4h0m0 20.8h0m.2-10h0m0-9.5h0m.1 13.1h0m.3-3.9h0m0-7.7h0m.1 10.9h0m0-6.3h0m.2-2.4h0m0-3.4h0m0-3.2h0m0-4.1h0m.2 18.3h0m0-1.6h0m0-3.5h0m0 9.9h0m.1-10h0m0-12.6h0m.1 13.2h0m.1-13.3h0m.6 20.1h0m.2-4.9h0m.2-6.2h0m.4 26.4h0m.1-22.5h0m.2-1.2h0m.1-5h0m.1 13.7h0m.2-11.5h0m.1-23.8h0m.1 22.6h0m.1 32.6h0m.6-23.7h0m.1-.1h0m0-.6h0m.2 8h0m.1-45.5h0m0 36.5h0m0-3.7h0m.1 3.9h0m0-2.7h0m.1-6.2h0m.1 3.8h0m.6 5.1h0m.4 1.6h0m0-9.4h0m.1 11.6h0m0 1.5h0m.2-9.4h0m.1 9.6h0m0-6.9h0m.2 7.7h0m0 .9h0m.2-5.1h0m0 1.6h0m0-10.2h0m.1 26.6h0m.1-15.8h0m.5-3.3h0m.1 5.7h0m.1 2.3h0m.2-7.3h0m0-1.1h0m.1 9.4h0m0-11.6h0m.1 25.9h0m0-33.6h0m0 16.2h0m0-5.4h0m0-9.2h0m.1 17.7h0m0-20.1h0m.1 25.8h0m0-6.6h0m0-5.6h0m0 11.2h0m.1-9.3h0m0 17h0m0-25.2h0m.1 1.4h0m0 2.8h0m.1 9.4h0m0-6.5h0m0-14.7h0m.2 16.8h0m.1-3.7h0m.3-1.9h0m.1 2.5h0m.1 1.8h0m0-8.3h0m0 6.7h0m0-3.3h0m.1 7.8h0m.1-18.7h0m0 19.9h0m0 1.4h0m0-15.8h0m0-.1h0m.1 15.3h0m0-7.8h0m0 3.9h0m.1-5.3h0m0 5.9h0m.1 5.9h0m0-21.8h0m.1 9.2h0m0-3.3h0m.1-.3h0m.1 4.2h0m0 4.9h0m0 5h0m.1-10.6h0m0 .2h0m0-4.5h0m.1 11.3h0m0-4.9h0m.1-3.5h0m0 9.8h0m0-15h0m.1 7.3h0m0-11.8h0m0-.4h0m0 20.9h0m.1-9.6h0m0 11.6h0m.1-16.3h0m0 17.8h0m0-14.6h0m0 2.8h0m0 .9h0m0-11.9h0m.1 8h0m0 2.4h0m0-11.6h0m0 11h0m0 4.9h0m0-15.5h0m0 20.2h0m.1-9.5h0m0-10.9h0m0 2.6h0m.1 11.3h0m.2 14.8h0m0-11h0m0-13.3h0m.1 4.3h0m.1 15.9h0m.2-7.2h0m.1 2.3h0m0-5.4h0m.2 .1h0m.1 6.3h0m.2-10.8h0m.1 19.6h0m.1-15.7h0m.1-2h0m.1 3.2h0m.2 1h0m0 3.3h0m.3 .7h0m.1-1.9h0m0 2.2h0m0 2h0m.1-1.8h0m.1 2.3h0m.2-1.3h0m0 3.8h0m.1 2h0m0-4.7h0m.1-4.1h0m.1 .2h0m.1 4.8h0m0-6.1h0m0-12h0m.1 16.3h0m.2-18.6h0m.2 3.7h0m.1 3.2h0m0-5h0m.1-3.2h0m.1 10.6h0m0-8.9h0m0 13.7h0m0-10.1h0m.1 14.8h0m.6-5.4h0m.1-10.6h0m0 7.5h0m.2 13.8h0m0-10.7h0m.4 8h0m0-14.5h0m.2 9.2h0m.1-1.9h0m.1 8.6h0m.1-12.8h0m.1 4.6h0m.1 1.9h0m0-1.2h0m.5-1.8h0m.1 4.6h0m.1-12h0m0 9.6h0m.1-1h0m0 .8h0m0 6.3h0m.1-14.2h0m.1 8h0m0-11.8h0m.1-4.3h0m0-.1h0m.1 15.7h0m0-6.4h0m0 4.2h0m0-9.9h0m.3 5.7h0m0 5.1h0m.1 .7h0m0 11.5h0m0-8.4h0m0 .4h0m0-9.6h0m.1 12.2h0m0-1.8h0m.1 2.6h0m0-10.8h0m.1-2.4h0m0 1.4h0m0 2.4h0m.2-5h0m0-1.3h0m.1 4.4h0m0 3.2h0m.2 10h0m.1-11.4h0m.4 14.4h0m.2-13h0m0 4.4h0m.1-16h0m0 14.4h0m0 2.8h0m.1 3.2h0m.1-14.3h0m.1 14.9h0m0-10h0m.1 2.6h0m0-13.5h0m.1-.1h0m0 4.7h0m0 16.6h0m.1-1.8h0m0-20.3h0m.1 16.1h0m0-8.9h0m.2 13.3h0m0-5.2h0m.1 7.6h0m0-7.5h0m.2 2.1h0m.1-2.1h0m0 3.1h0m.1-2.5h0m0-1.6h0m0-18.8h0m.4 19.8h0m.2-1.5h0m.2 4.5h0m0-2.8h0m.1-2.2h0m0-5.7h0m.1 8.6h0m0 .2h0m.1-7.7h0m.2 8.3h0m0-2.3h0m.1 4.3h0m.1-5.5h0m0 5.6h0m.3-.9h0m0 13h0m0-12.4h0m.1 1.2h0m.1-6.7h0m.1 1.6h0m.2-3.4h0m.1 19h0m.2-21.9h0m.3 8.5h0m.3-6.3h0m.2 3.4h0m.1 3.7h0m.1-12.7h0m0-1.4h0m0 8.6h0m0 2.8h0m.1 8.5h0m0 2.9h0m0-24.2h0m.1 12.2h0m.2-.3h0m0 4.3h0m.1-10h0m.1 17.8h0m0-6.3h0m.1-3.2h0m.1 .9h0m0-3.4h0m.2-1h0m.1 7.3h0m.1-10.1h0m0 11.7h0m0-11.2h0m.1-5.7h0m0-7.4h0m.1 16.2h0m.2-7.8h0m0 5.2h0m0-2.1h0m0-7.1h0m0 8.1h0m.1 14.7h0m0-15.5h0m.1 5.5h0m0-.1h0m0-15.8h0m.1 21.9h0m.1 2.3h0m0-16.5h0m.1 10.7h0m0 5.7h0m0-19h0m.1 5.1h0m.5 3h0m.1-6.9h0m.1 2.9h0m0 .1h0m0 3.6h0m.1-1h0m.1 3h0m.2 1.5h0m0-10h0m.1 9.9h0m.3-1.6h0m.2-12.6h0m.2 7.6h0m.2 3.5h0m0-2.1h0m.2 3h0m0-3.8h0m.3 4.1h0m.2-3.9h0m0-1.8h0m.1-1.6h0m.1 8.7h0m.2-1.5h0m.3-4.5h0m.1-5h0m.1 13.7h0m.4-14.1h0m0 9.2h0m0-2.2h0m0-2.7h0m.3 6.9h0m0-7.2h0m.1 2.5h0m.3-9.6h0m.1 6.6h0m0 9.7h0m.1-12.5h0m0 2.5h0m.2 4.4h0m0-3.2h0m.1-10.9h0m0 12.6h0m.3 3.3h0m0 3.8h0m.1-10.2h0m0 1.8h0m0 6.4h0m.2-2.4h0m.1 1h0m.2 3.7h0m.1-10.7h0m.1 7.5h0m.1-2.9h0m0 2.2h0m.4-3.9h0m.3-1.3h0m.3 4.6h0m0 5.3h0m.4-4h0m0-5.4h0m.5 1.5h0m.1 10.2h0m.2 3.8h0m0-10.8h0m.1-19.3h0m0 7.2h0m.1 14.1h0m0-7.8h0m0-8h0m0 8.9h0m.1 .6h0m0-2.6h0m0 15.3h0m.1-11.9h0m0-5.5h0m0 12.8h0m0-5.6h0m.1-11.5h0m0-4.3h0m.3 18.4h0m0-2.1h0m.3 1.7h0m0-4.2h0m0-5.8h0m.1 4.7h0m.1-10.6h0m.1 8.5h0m.3 5.3h0m.1-.6h0m.1-6.1h0m.1 .7h0m0 14.6h0m.1-12.5h0m.1 6.2h0m.3-4.9h0m0 13.5h0m.1-6.9h0m0-18.3h0m0 15.6h0m.1 8.2h0m0-8.6h0m0-7.5h0m0-5.1h0m.1 7.9h0m0 6.2h0m0-3.4h0m0 13.3h0m.1-7.4h0m0-1.5h0m0 3.9h0m0-5.1h0m.2-5.4h0m.1 .6h0m0 5.6h0m.1 4.1h0m0-9.4h0m.1 3.1h0m0 2h0m.2 4.2h0m0 2h0m.2 1.7h0m0-9.3h0m0 5h0m.1 .5h0m.2-12.8h0m0 6.7h0m.2 5h0m0-3h0m.1 2.9h0m.2 .1h0m0 1.7h0m0-12h0m0 1.3h0m0-8.9h0m.1 12.9h0m0 3.4h0m.1 9.2h0m0-6.1h0m0 .9h0m0-.2h0m0-8.4h0m0 8.5h0m.1 4h0m0-8.7h0m0-16h0m0 14.3h0m0-10.8h0m0 8.8h0m.1-11h0m.1-.4h0m0 18.9h0m.1-3.5h0m0 3h0m.2-6.9h0m.2 3.2h0m.2 .2h0m0-.4h0m.1 2h0m.1-15.6h0m.2 9.6h0m.1 9h0m.2 .5h0m.2-6.8h0m.4 .1h0m.2-11.2h0m.1 2.5h0m.2 11.9h0m0-6.6h0m.3 10.8h0m.5-1.8h0m.1 1.2h0m0-6.7h0m.1-7h0m0 10.5h0m.1-2.7h0m0-11.8h0m.3 3.5h0m0 21.4h0m0-6.9h0m.1 3.9h0m0-4.4h0m0-13.4h0m0 16h0m.1-5.4h0m.1-4.1h0m.1-2h0m.2 6h0m0 4.7h0m.1-9.9h0m0 2.9h0m.2 11.1h0m.2-15.2h0m.1 5.8h0m.1 5.3h0m.1-.8h0m.1-27.9h0m.3 26.1h0m.2 .6h0m.1 2h0m.3-11.5h0m.1 2.6h0m.3 7h0m.3-3h0m.1-3h0m.5 5.6h0m.1-1.2h0m.1 0h0m.1-6.3h0m.2-1.2h0m0 8.1h0m0-8.3h0m.1 1.8h0m0 8.4h0m.1-4.4h0m0-18.6h0m.1 17.7h0m0-12.8h0m.1 16.2h0m.1-5.8h0m.1 4.6h0m.1-.5h0m0-6.6h0m.1-2.2h0m0 8.2h0m.1-8.3h0m0 4.4h0m0-8h0m.2 24.6h0m0-27.6h0m.1 18h0m0 2.9h0m.1-18.5h0" fill="none" stroke="#5a5aff" stroke-width="0.65" stroke-linecap="square" stroke-opacity=".5" clip-path="url(#kd3)"/>
<path d="M598.5 218l.4-1.6 .4 1.7 .4 1.2 .4-4.1 .4 2.1 .4-1.5 .4 1 .4 2.3 .3-2.9 .4-1 .4-.4 .4-.6 .4 1.5 .4 .5 .4-.7 .4 1.1 .4-3 .4-.5 .4 0 .4 .9 .4-2.4 .4 1.5 .4-1.4 .4 3.4 .4 .9 .3 .7 .4 2 .4 1.3 .4 .6 .4 4.2 .4-4.4 .4 3.4 .4 1.1 .4 2.5 .4-.4 .4 1.3 .4 .6 .4 1.5 .4-2.4 .4 1.7 .4-2.8 .3 .3 .4-.6 .4-.7 .4-1.9 .4-.8 .4 1.2 .4-9.3 .4 7.3 .4 3.8 .4-.9 .4-.3 .4 .8 .4-2.5 .4 1.2 .4-1 .4 1.7 .4-1.7 .3 1.2 .4-.1 .4-.7 .4-.3 .4-.7 .4 .6 .4 1.1 .4-14.9 .4 15.6 .4-3.4 .4 .3 .4-2.4 .4 4.2 .4-6.4 .4 2.6 .4 1.1 .3-3.2 .4-.6 .4-.5 .4-2.8 .4 3.4 .4-1.8 .4 .6 .4 1.5 .4-.9 .4-.9 .4 3.3 .4-.7 .4 .3 .4 1.4 .4 3.9 .4-1.5 .4 1.1 .3-1.9 .4 1.9 .4-2.5 .4 4.3 .4-2.7 .4 1.3 .4-4 .4-3.8 .4 7.8 .4-1.2 .4 2.1 .4 3 .4 .3 .4-.5 .4-1.3 .4 .3 .4-1.7 .3-.8 .4-.8 .4-9.6 .4 9.3 .4-.1 .4 3.1 .4-3.5 .4 .6 .4 2.1 .4-2.1 .4 4 .4 .5 .4-.2 .4 .4 .4-3 .4 2.6 .4 .4 .3-.4 .4-1.5 .4 2 .4 .8 .4-.7 .4-1.1 .4 2 .4-2.1 .4 1.1 .4 .2 .4-1.3 .4-2.3 .4 2.5 .4-2.5 .4 .7 .4 .2 .3-.2 .4-1.2 .4 0 .4 0 .4-.6 .4 1.7 .4-.5 .4 .1 .4-1.1 .4-.5 .4-.1 .4-1.5 .4 1.6 .4-21.4 .4 19.3 .4-.8 .4 2.4 .3-1.8 .4-.6 .4 2.7 .4-2 .4-3.2 .4 4 .4-.4 .4 2.8 .4-1.8 .4-3.6 .4 6 .4-.2 .4 2.5 .4 2 .4-1.5 .4 1.1 .3-.8 .4 1 .4-.3 .4-.1 .4 .2 .4-.7 .4-7.2 .4 6.7 .4-3.4 .4 5.4 .4 1.9 .4-2.3 .4 2.2 .4-.6 .4-.8 .4-.6 .4-.2 .3-.4 .4 .4 .4-1.6 .4 .5 .4 2 .4-.3 .4 1.6 .4-2.4 .4 1.2" fill="none" stroke="#e41414" stroke-width="1.5" stroke-linejoin="round" clip-path="url(#kd3)"/>
<text x="602.6" y="181.6" font-size="9" fill="#d21c1c" stroke="#d21c1c" stroke-width=".2">80%</text>
<rect x="598.5" y="169.5" width="79" height="79" fill="none" stroke="#484848" stroke-width="1.05"/>
<path d="M301.5 405.5v-4.3M301.5 303.8v4.3M330.5 405.5v-4.3M330.5 303.8v4.3M359.5 405.5v-4.3M359.5 303.8v4.3M389.5 405.5v-4.3M389.5 303.8v4.3M418.5 405.5v-4.3M418.5 303.8v4.3M447.5 405.5v-4.3M447.5 303.8v4.3M272.6 380.5h4.3M476.4 380.5h-4.3M272.6 356.5h4.3M476.4 356.5h-4.3M272.6 331.5h4.3M476.4 331.5h-4.3M272.6 306.5h4.3M476.4 306.5h-4.3" fill="none" stroke="#2a2a2a" stroke-width="1"/>
<rect x="272.5" y="303.5" width="204" height="102" fill="none" stroke="#2a2a2a" stroke-width="1.1"/>
<text x="268.6" y="409" font-size="9.5" fill="#383838" text-anchor="end">0</text>
<text x="268.6" y="384.3" font-size="9.5" fill="#383838" text-anchor="end">2</text>
<text x="268.6" y="359.7" font-size="9.5" fill="#383838" text-anchor="end">4</text>
<text x="268.6" y="335" font-size="9.5" fill="#383838" text-anchor="end">6</text>
<text x="268.6" y="310.4" font-size="9.5" fill="#383838" text-anchor="end">8</text>
<text x="301.7" y="416.8" font-size="8.5" fill="#383838" text-anchor="middle">&#8722;</text>
<text x="330.8" y="416.8" font-size="8.5" fill="#383838" text-anchor="middle">+</text>
<text x="360" y="416.8" font-size="8.5" fill="#383838" text-anchor="middle">&#8722;</text>
<text x="389.1" y="416.8" font-size="8.5" fill="#383838" text-anchor="middle">+</text>
<text x="418.2" y="416.8" font-size="8.5" fill="#383838" text-anchor="middle">&#8722;</text>
<text x="447.3" y="416.8" font-size="8.5" fill="#383838" text-anchor="middle">+</text>
<text x="233" y="421.6" font-size="10" fill="#111">Blebbistatin</text>
<text x="233.2" y="439.4" font-size="10" fill="#111">Extract fraction</text>
<text x="316" y="439.4" font-size="8.5" fill="#222" text-anchor="middle">0%</text>
<text x="374.3" y="439.4" font-size="8.5" fill="#222" text-anchor="middle">60%</text>
<text x="433.1" y="439.4" font-size="8.5" fill="#222" text-anchor="middle">80%</text>
<g transform="rotate(-90)"><text x="-380.9" y="256.4" font-family="'Liberation Serif',serif" font-style="italic" font-weight="bold" font-size="13.5" fill="#222">v</text><text x="-373.4" y="258" font-family="'Liberation Serif',serif" font-style="italic" font-weight="bold" font-size="9.5" fill="#222">D</text><text x="-361" y="255" font-size="10.2" fill="#383838" textLength="28.2" lengthAdjust="spacingAndGlyphs">[μm/s]</text></g>
<path d="M301.5 319V316.5H330.5V319" fill="none" stroke="#333" stroke-width="1"/>
<text x="316.3" y="313.4" font-size="8" fill="#383838" text-anchor="middle">n.s.</text>
<path d="M359.5 319V316.5H389.5V319" fill="none" stroke="#333" stroke-width="1"/>
<text x="374.5" y="316.2" font-size="11" fill="#383838" text-anchor="middle">***</text>
<path d="M418.5 319V316.5H447.5V319" fill="none" stroke="#333" stroke-width="1"/>
<text x="432.8" y="316.2" font-size="11" fill="#383838" text-anchor="middle">**</text>
<path d="M294.6 391.3h0m.7 .5h0m.2 .3h0m.7 1.2h0m.2-3.9h0m.3 1.9h0m.6-.1h0m.1 .8h0m.4-1.1h0m0 3.1h0m.2-4.3h0m.1 .4h0m.1 .4h0m.9 1.7h0m.4 .2h0m.6-4h0m1.4 3.6h0m1.3 .3h0m.3-.3h0m.1-1.1h0m.7-.1h0m.3 2.5h0m.6-3.7h0m1.6-.1h0m0 2.2h0m0 1.6h0m.2-2.6h0m.6 1.4h0m.4-1.9h0m.2-.6h0m.1-1.2h0m0 2.5h0m0 1.6h0m.4 .6h0" fill="none" stroke="#262626" stroke-width="3.5" stroke-linecap="round"/>
<path d="M324.1 387h0m.1 2.8h0m.6 .6h0m.3 .9h0m1.3 1.6h0m.4-3.2h0m.6-.2h0m.6 6.2h0m1.1-7.7h0m.8 .5h0m.1 .4h0m.6 0h0m.3 1h0m.8 .3h0m.2 1.1h0m.9-1.9h0m.6 2.3h0m.3 .8h0m.5-1.7h0m1 2.1h0m.7-2.5h0m1.2-1.3h0m.2 2.3h0m.3-2.7h0" fill="none" stroke="#dc1fa6" stroke-width="3.5" stroke-linecap="round"/>
<path d="M353.7 366.3h0m0-31.4h0m.6 29.4h0m.1-19.4h0m.2 12.6h0m.2 11.8h0m.3 31.4h0m.2-6.6h0m.2-28.3h0m.2 .6h0m.1-15.4h0m.1 10.1h0m.2 5.5h0m.3 23.1h0m.4 7.3h0m0-40.3h0m.4 20.7h0m0-4.4h0m.2-41.1h0m.3 32.9h0m.1-2.1h0m.1 1.3h0m.1 6h0m.1 13.2h0m.2-14.3h0m.3-3.4h0m0-6.4h0m0 39.9h0m.4-35.5h0m0-2h0m0 19h0m.1-32.7h0m0 17.8h0m0 5.1h0m.1-6.3h0m.2 26.1h0m0-21.2h0m.1 7.5h0m.3-23.8h0m0 8.4h0m0 4.2h0m.1 3.6h0m.1-15.2h0m.1 10.5h0m.1-4h0m.1 3h0m.2 8.8h0m.4-12.6h0m.6 31.5h0m.1-25.3h0m0-7.9h0m0 4.6h0m0 12.3h0m.1-11.8h0m.2 15.4h0m.4 24.6h0m.2-36.3h0m0-6.3h0m0 7.6h0m.2 .9h0m.4-6.4h0m.5-.3h0m0-18.9h0m0 5.8h0m.6 33h0m.1-8h0m.1-9.7h0m.5 2.2h0m.2 30.4h0m0-12.8h0m0-16.2h0m.1 18.1h0m.2-19.5h0m0 .8h0m.2 5.8h0m1.1 18.6h0" fill="none" stroke="#262626" stroke-width="3.5" stroke-linecap="round"/>
<path d="M380.2 373.5h0m0-1.6h0m.5 1.2h0m.2 8.9h0m0-2.9h0m.1-3h0m.1 1.6h0m.4 5.3h0m.4-5.1h0m.2-3h0m0-1h0m0-1.8h0m0-.9h0m.1 12.8h0m.1-10.4h0m.2-1.3h0m.1-1.3h0m.1 11.7h0m.3-1.7h0m.3-9h0m.1 8.5h0m.1-12.6h0m0 12.1h0m.1-10.9h0m.1 1h0m0 .9h0m.1-2.1h0m0 .8h0m.1-3.1h0m0 10.6h0m.3-2.8h0m.1-1.7h0m0 1.4h0m.1 7.9h0m.1-8.6h0m.1-5.5h0m.2 3.4h0m.1-1.1h0m0 8.5h0m.2 3.5h0m0-9.3h0m0 4.9h0m.1-1.8h0m.1 2.5h0m.1-5.6h0m0-2.4h0m0 11.3h0m.1-3.9h0m.1 6.1h0m0-12.9h0m.1 .9h0m0 11.6h0m.1-12.2h0m0 2.4h0m.1 9.8h0m.1-3.8h0m.2-1.1h0m0-1.5h0m0 .9h0m.1 4.9h0m0-7.4h0m.2 6.4h0m0 2.1h0m.2-2h0m.4 2.5h0m.1-2.9h0m0 .2h0m.1-1.1h0m.1-1.7h0m.2 1.6h0m.2-3.6h0m0 2.8h0m.1 .2h0m0-8.2h0m0 9.3h0m.1 3h0m0-.8h0m.2 .4h0m.4-11.3h0m.1 9.2h0m.1-5.7h0m.2 7.2h0m0-7.4h0m.1 8.5h0m.1-9.5h0m0 1.8h0m0 2.3h0m.1-5h0m.1-.2h0m0 4.6h0m.1 5.3h0m0-8.9h0m0 .1h0m.1 3.7h0m0 4.1h0m0-5.5h0m.2 7.4h0m.2-11.3h0m0 2.6h0m.4 2.5h0m.1-3.7h0m0 5.3h0m.1-6.3h0m.4 3.4h0m.2-2.6h0m0 0h0m.2 6.4h0m.2-9.3h0m.2 3.7h0m0 6.1h0m.1-4h0m.2-.2h0m.1-2.5h0m0 6.9h0m.4-2.6h0m0-6.8h0m0-.8h0m.2 10.9h0m.2 1.5h0m.2-2.6h0m0 1h0m.2-6.7h0m.3 4.1h0m0-5.6h0m0 1.8h0m.1-8.6h0m0 6.9h0m.5 4.5h0m.1-4.9h0m.1 9h0m0-5.1h0m0-10.6h0m.1 13.4h0m.3-4.6h0m0 .8h0m.1-.2h0m0 7.7h0m.1-11h0m.3 9.8h0m0-14.8h0m.1 3.9h0m.2 4.3h0m0-.2h0m0-3.7h0m0 9.2h0m.2-4.7h0m.1-4.1h0m0 2.4h0m0-5.3h0m.1 .7h0m.2 3.8h0m.1 9h0m.1-11.7h0m.1 4.2h0m.1 2.1h0m0-1.4h0m0-4.2h0m.3 9.9h0m.1-1.4h0m.2-2.3h0m0-3h0m.1-2.5h0m.1 .3h0m.3-1.1h0m.1 11.5h0m0-5.1h0m0-6.5h0m.1 9.4h0m0-7h0m0 7.4h0" fill="none" stroke="#dc1fa6" stroke-width="3.5" stroke-linecap="round"/>
<path d="M410.6 338.2h0m.4-3.5h0m.2 1.2h0m0-4.6h0m.4 6h0m.6-3.8h0m.2 5.3h0m.1-3.5h0m1.5 16.3h0m.1-1h0m.2-15.9h0m.3-2.4h0m1-2.1h0m.2-.3h0m.3 4.9h0m.1 9.6h0m.8-15.4h0m.1 24.2h0m.7-19.7h0m.7 .6h0m.1-2.3h0m.8 1.9h0m0 .5h0m.3 3.5h0m.9 22.9h0m0-23.1h0m.2-4.7h0m.7 12.5h0m.3 4.7h0m.2-4.8h0m.1-7h0m.2 5.6h0m.1-2.2h0m0-.2h0m.3-7.1h0m.5-.1h0m.9 1.8h0m0 19.5h0m.8-21.3h0m.2 1h0m.3 4.6h0m.2-5.1h0" fill="none" stroke="#262626" stroke-width="3.5" stroke-linecap="round"/>
<path d="M439.2 327.8h0m.2 .4h0m0 15.4h0m.3-16.8h0m.1-2.2h0m0 4h0m.1-4h0m0 14.8h0m.1-3.6h0m.3 5.2h0m0-13.3h0m0 1.7h0m.2 10h0m.2-3h0m0-7.7h0m0 14.1h0m0-8.7h0m.2 5.9h0m.2 11.1h0m.2-7.9h0m.1-14.2h0m.1 10.5h0m.1 1.5h0m.2-6h0m.4 2.1h0m.1 4.9h0m.5-16.6h0m.2 16.9h0m0-16.4h0m.1-1.5h0m0-.1h0m.4 17.5h0m0-13.1h0m.1 13.5h0m.1-16.8h0m.1 4.4h0m0-5.5h0m.1 18.4h0m.1-11.5h0m0 4.4h0m0 2.2h0m.4-11.5h0m.1 5h0m0 7.6h0m0 3.3h0m.1-5.3h0m.1-8.4h0m.2 11.5h0m.1-14.7h0m.1 15h0m.1-7.8h0m.4 7.6h0m.1-2.7h0m0-5.9h0m.1-3.9h0m0 .6h0m.1-3.1h0m0-.3h0m0 4.1h0m.1 2.8h0m.1-4.9h0m.6 13.2h0m.1-7.6h0m0-5.3h0m.2 13.6h0m.3-12.8h0m.3-.8h0m.1 12.4h0m.1-14.3h0m.4 8.7h0m0-7.7h0m.1 7.4h0m.3-9.3h0m.8 4h0m.4 2.5h0m.2 5.6h0m.3-5h0m0-6.7h0m.1 15.5h0m.4-14.9h0m0 7.3h0m.1 2.8h0m.3 3.2h0m.3 4h0m.1-1.3h0m.2-9.1h0m.2 2.5h0m0 3.9h0m.2-10.6h0m0 5.4h0m.4-6.3h0m0 14.3h0m.1-3.2h0m.1-11.2h0m.1 1.5h0m.4 9.1h0m0-1.3h0m.1 7.1h0m.2-15.8h0m.1-1.8h0m.1-.4h0m0 12.9h0m.1-10.8h0m.2 15.9h0m.1-9.6h0m0 9.9h0m.1-10.5h0m0 3.9h0m0-5.9h0m.1 5.9h0m.1 1.9h0m.2-11.1h0m.1 .3h0m0 10.3h0m.3 4.6h0m0-14.7h0m.1 5.7h0m0-9.8h0m.3 13.6h0m.3-.8h0m0-2h0" fill="none" stroke="#dc1fa6" stroke-width="3.5" stroke-linecap="round"/>
</svg>
</body></html>
